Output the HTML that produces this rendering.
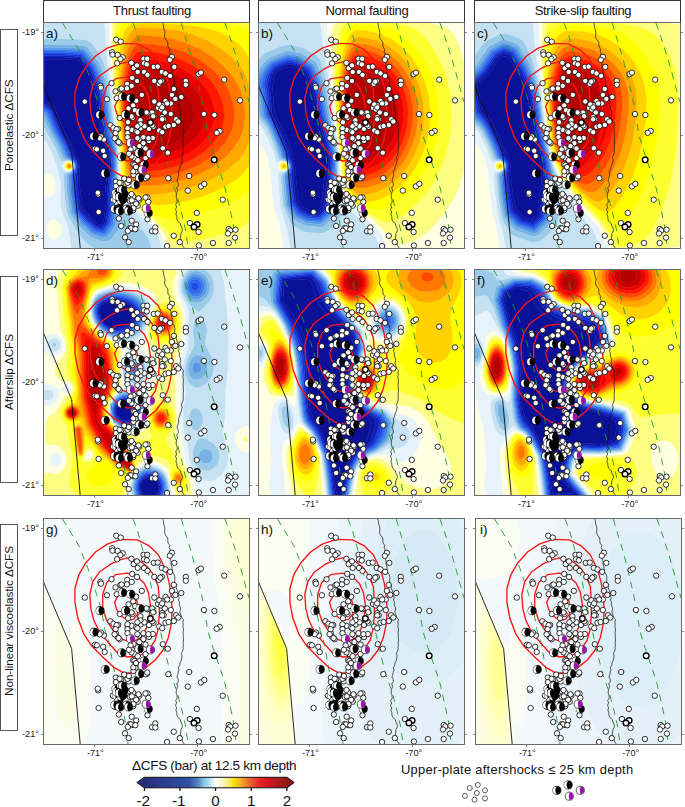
<!DOCTYPE html><html><head><meta charset="utf-8"><style>
html,body{margin:0;padding:0;background:#fff;}
body{width:685px;height:807px;position:relative;overflow:hidden;font-family:"Liberation Sans",sans-serif;color:#1a1a1a;}
.a{position:absolute;}
.tb{position:absolute;top:0;height:21px;border:1px solid #333;border-bottom:1.2px solid #333;background:#fff;box-sizing:content-box;}
.tb span{position:absolute;left:12px;right:0;top:2.5px;text-align:center;font-size:13px;line-height:14px;white-space:nowrap;letter-spacing:-0.3px;color:#111;}
.lb{position:absolute;left:0;width:16px;border:1px solid #555;background:#fff;}
.lb span{position:absolute;white-space:nowrap;font-size:11.8px;line-height:12px;transform:rotate(-90deg);transform-origin:0 0;letter-spacing:-0.1px;color:#111;}
.pn{position:absolute;width:206px;height:225px;overflow:hidden;}
.pn svg{position:absolute;left:0;top:0;}
.fr{position:absolute;border:1px solid #6a6a6a;box-sizing:border-box;width:207px;height:227px;}
.lt{position:absolute;font-size:13.5px;line-height:14px;color:#111;}
.tk{position:absolute;font-size:9.2px;line-height:10px;color:#222;white-space:nowrap;}
</style></head><body>

<svg width="0" height="0" style="position:absolute"><defs><g id="ov"><g fill="none"/><polyline points="0.0,61.7 14.0,95.0 28.6,129.5 37.2,225.0" fill="none" stroke="#111" stroke-width=".9"/>
<polyline points="119.6,0.0 120.5,2.2 120.6,4.4 121.5,7.3 122.0,10.2 121.5,13.1 122.4,16.0 124.8,19.0 124.8,21.9 125.1,24.1 126.8,26.3 126.2,28.5 127.2,30.7 126.7,33.0 127.2,35.3 126.5,37.7 127.5,40.0 128.1,42.3 127.9,44.7 128.8,47.2 129.1,49.6 129.0,52.5 131.2,55.5 131.9,58.4 131.7,60.9 131.6,63.5 133.5,66.0 133.2,68.6 134.1,71.1 135.0,73.7 135.2,76.2 136.2,78.8 135.5,81.1 136.5,83.5 136.2,85.8 137.4,88.2 137.6,90.5 136.9,93.0 137.7,95.6 138.6,98.2 140.6,100.7 139.8,103.0 140.3,105.2 139.9,107.5 140.4,109.7 140.3,112.0 140.1,114.2 140.4,116.5 140.2,118.8 140.6,121.0 140.1,123.2 140.4,125.5 140.1,127.8 140.2,130.0 139.5,132.2 138.4,134.5 139.1,136.9 138.8,139.2 138.1,141.6 137.0,143.9 136.7,146.3 135.3,148.6 135.9,151.0 135.3,153.3 134.6,155.7 134.0,158.0 135.3,160.3 135.3,162.7 133.6,165.0 134.7,167.3 133.8,169.7 133.2,172.0 133.3,174.4 134.1,176.8 134.2,179.2 132.7,181.6 133.6,184.0 132.5,186.4 133.6,188.8 132.9,191.2 133.8,193.6 133.9,196.0 134.7,198.2 137.3,200.5 137.8,202.8 139.0,205.0 139.4,207.7 137.9,210.4 137.6,213.1 137.4,215.8 138.7,218.1 138.8,220.4 139.6,222.7 141.3,225.0" fill="none" stroke="#111" stroke-width=".7"/>
<polyline points="19.5,0.0 36.0,27.0 45.0,49.6 52.6,72.2 58.6,91.7 62.2,112.0 66.2,124.0 70.7,149.6 81.2,196.2 85.0,225.0" fill="none" stroke="#1d9a2a" stroke-width=".9" stroke-dasharray="7 6"/>
<polyline points="90.1,0.0 94.5,11.7 98.9,27.7 104.0,46.7 106.9,61.3 110.6,78.8 113.5,94.9 116.5,108.0 117.3,112.0 122.5,134.5 127.8,155.6 133.8,172.0 139.0,191.7 142.8,208.2 145.0,225.0" fill="none" stroke="#1d9a2a" stroke-width=".9" stroke-dasharray="7 6"/>
<polyline points="138.3,0.0 143.4,17.5 148.5,33.6 153.6,54.0 158.0,73.0 161.7,90.5 164.6,111.0 169.9,128.5 176.7,148.0 182.0,164.6 187.2,187.2 191.0,205.2 193.2,225.0" fill="none" stroke="#1d9a2a" stroke-width=".9" stroke-dasharray="7 6"/>
<polyline points="182.0,0.0 188.7,19.5 196.2,43.6 201.5,63.2 206.0,79.0" fill="none" stroke="#1d9a2a" stroke-width=".9" stroke-dasharray="7 6"/>
<polygon points="78.6,20.3 94.4,20.9 106.3,26.9 115.3,35.8 122.2,49.7 126.2,63.6 128.2,77.5 129.2,91.4 128.2,105.3 125.2,119.1 120.2,131.0 112.3,141.0 102.4,148.9 90.5,153.9 80.6,153.9 71.6,148.9 60.7,139.0 48.8,127.1 40.9,115.2 34.9,99.3 31.9,83.4 31.9,69.5 35.9,55.7 42.9,43.7 52.8,32.8 64.7,24.9" fill="none" stroke="#fa1414" stroke-width="1.35" stroke-linejoin="round"/>
<polygon points="84.5,38.8 96.4,41.8 104.4,47.7 110.3,55.7 115.3,67.6 116.3,81.4 116.3,95.3 115.3,109.2 112.3,121.1 105.4,131.0 96.4,137.0 84.5,138.0 74.6,134.0 66.7,125.1 56.7,113.2 50.8,101.3 47.8,89.4 46.8,75.5 49.8,62.6 56.7,52.7 66.7,45.7 76.6,40.8" fill="none" stroke="#fa1414" stroke-width="1.35" stroke-linejoin="round"/>
<polygon points="72.6,55.7 84.5,54.1 94.4,57.6 101.4,64.6 105.4,73.5 107.3,85.4 106.3,97.3 103.4,109.2 97.4,119.1 88.5,123.1 78.6,120.1 70.6,112.2 63.7,101.3 59.7,89.4 59.7,75.5 63.7,63.6" fill="none" stroke="#fa1414" stroke-width="1.35" stroke-linejoin="round"/>
<polygon points="74.6,77.5 80.6,73.5 88.5,75.5 93.5,80.5 95.4,88.4 94.4,95.3 90.5,100.3 84.5,101.3 78.6,97.3 73.6,90.4 71.6,83.4" fill="none" stroke="#fa1414" stroke-width="1.35" stroke-linejoin="round"/><g fill="#fff" stroke="#000" stroke-width=".8"><circle cx="73.2" cy="16.8" r="2.7"/>
<circle cx="77.7" cy="18.6" r="2.7"/>
<circle cx="69.2" cy="29.3" r="2.7"/>
<circle cx="69.5" cy="31.6" r="2.7"/>
<circle cx="74.7" cy="31.9" r="2.7"/>
<circle cx="79.7" cy="34.3" r="2.7"/>
<circle cx="77.4" cy="36.1" r="2.7"/>
<circle cx="74.1" cy="40.3" r="2.7"/>
<circle cx="88.4" cy="39.8" r="2.7"/>
<circle cx="90.7" cy="45.1" r="2.7"/>
<circle cx="94.7" cy="48.9" r="2.7"/>
<circle cx="94.0" cy="42.4" r="2.7"/>
<circle cx="100.5" cy="35.8" r="2.7"/>
<circle cx="101.0" cy="40.3" r="2.7"/>
<circle cx="101.0" cy="48.9" r="2.7"/>
<circle cx="68.6" cy="60.2" r="2.7"/>
<circle cx="57.4" cy="62.9" r="2.7"/>
<circle cx="57.9" cy="64.7" r="2.7"/>
<circle cx="41.8" cy="78.6" r="2.7"/>
<circle cx="63.9" cy="76.2" r="2.7"/>
<circle cx="89.2" cy="54.9" r="2.7"/>
<circle cx="94.0" cy="57.9" r="2.7"/>
<circle cx="84.2" cy="60.9" r="2.7"/>
<circle cx="88.7" cy="62.9" r="2.7"/>
<circle cx="83.9" cy="65.4" r="2.7"/>
<circle cx="72.5" cy="68.4" r="2.7"/>
<circle cx="77.4" cy="66.2" r="2.7"/>
<circle cx="73.7" cy="75.2" r="2.7"/>
<circle cx="98.8" cy="71.9" r="2.7"/>
<circle cx="93.2" cy="77.7" r="2.7"/>
<circle cx="90.2" cy="82.4" r="2.7"/>
<circle cx="92.0" cy="87.2" r="2.7"/>
<circle cx="76.7" cy="95.0" r="2.7"/>
<circle cx="89.5" cy="95.0" r="2.7"/>
<circle cx="85.0" cy="99.2" r="2.7"/>
<circle cx="97.0" cy="98.5" r="2.7"/>
<circle cx="67.4" cy="102.3" r="2.7"/>
<circle cx="70.4" cy="104.8" r="2.7"/>
<circle cx="75.2" cy="106.0" r="2.7"/>
<circle cx="84.7" cy="106.8" r="2.7"/>
<circle cx="88.7" cy="106.8" r="2.7"/>
<circle cx="93.2" cy="108.3" r="2.7"/>
<circle cx="97.7" cy="105.3" r="2.7"/>
<circle cx="104.2" cy="35.8" r="2.7"/>
<circle cx="103.8" cy="41.4" r="2.7"/>
<circle cx="104.5" cy="51.9" r="2.7"/>
<circle cx="110.8" cy="43.9" r="2.7"/>
<circle cx="114.7" cy="43.6" r="2.7"/>
<circle cx="118.8" cy="48.9" r="2.7"/>
<circle cx="122.5" cy="50.4" r="2.7"/>
<circle cx="127.1" cy="52.9" r="2.7"/>
<circle cx="128.9" cy="33.8" r="2.7"/>
<circle cx="126.8" cy="36.8" r="2.7"/>
<circle cx="131.3" cy="43.9" r="2.7"/>
<circle cx="111.3" cy="57.9" r="2.7"/>
<circle cx="115.8" cy="60.9" r="2.7"/>
<circle cx="118.8" cy="57.9" r="2.7"/>
<circle cx="130.8" cy="65.9" r="2.7"/>
<circle cx="128.9" cy="71.9" r="2.7"/>
<circle cx="132.3" cy="75.9" r="2.7"/>
<circle cx="138.3" cy="74.0" r="2.7"/>
<circle cx="142.8" cy="57.9" r="2.7"/>
<circle cx="142.8" cy="61.7" r="2.7"/>
<circle cx="155.6" cy="51.1" r="2.7"/>
<circle cx="157.9" cy="49.6" r="2.7"/>
<circle cx="181.2" cy="56.7" r="2.7"/>
<circle cx="197.0" cy="77.4" r="2.7"/>
<circle cx="111.3" cy="78.5" r="2.7"/>
<circle cx="122.5" cy="77.9" r="2.7"/>
<circle cx="127.8" cy="80.5" r="2.7"/>
<circle cx="119.5" cy="82.4" r="2.7"/>
<circle cx="115.0" cy="85.0" r="2.7"/>
<circle cx="118.0" cy="86.5" r="2.7"/>
<circle cx="121.8" cy="89.5" r="2.7"/>
<circle cx="127.8" cy="91.0" r="2.7"/>
<circle cx="109.0" cy="89.5" r="2.7"/>
<circle cx="104.5" cy="90.2" r="2.7"/>
<circle cx="110.2" cy="93.2" r="2.7"/>
<circle cx="119.2" cy="94.0" r="2.7"/>
<circle cx="120.7" cy="96.2" r="2.7"/>
<circle cx="133.1" cy="96.2" r="2.7"/>
<circle cx="135.3" cy="98.5" r="2.7"/>
<circle cx="130.8" cy="102.0" r="2.7"/>
<circle cx="122.5" cy="103.8" r="2.7"/>
<circle cx="125.6" cy="103.0" r="2.7"/>
<circle cx="107.5" cy="100.5" r="2.7"/>
<circle cx="110.5" cy="103.8" r="2.7"/>
<circle cx="106.0" cy="106.0" r="2.7"/>
<circle cx="116.2" cy="107.5" r="2.7"/>
<circle cx="160.9" cy="91.0" r="2.7"/>
<circle cx="171.4" cy="92.0" r="2.7"/>
<circle cx="176.7" cy="108.0" r="2.7"/>
<circle cx="173.7" cy="109.8" r="2.7"/>
<circle cx="60.9" cy="116.5" r="2.7"/>
<circle cx="57.9" cy="113.5" r="2.7"/>
<circle cx="51.9" cy="125.8" r="2.7"/>
<circle cx="53.8" cy="126.3" r="2.7"/>
<circle cx="60.2" cy="127.8" r="2.7"/>
<circle cx="61.7" cy="133.0" r="2.7"/>
<circle cx="72.9" cy="114.3" r="2.7"/>
<circle cx="74.4" cy="118.0" r="2.7"/>
<circle cx="76.7" cy="120.3" r="2.7"/>
<circle cx="96.2" cy="116.5" r="2.7"/>
<circle cx="99.2" cy="123.3" r="2.7"/>
<circle cx="92.5" cy="127.0" r="2.7"/>
<circle cx="90.2" cy="141.3" r="2.7"/>
<circle cx="93.2" cy="146.6" r="2.7"/>
<circle cx="81.2" cy="155.6" r="2.7"/>
<circle cx="72.9" cy="158.6" r="2.7"/>
<circle cx="78.2" cy="160.1" r="2.7"/>
<circle cx="72.9" cy="163.1" r="2.7"/>
<circle cx="85.7" cy="162.4" r="2.7"/>
<circle cx="55.2" cy="171.4" r="2.7"/>
<circle cx="55.6" cy="189.0" r="2.7"/>
<circle cx="69.9" cy="176.7" r="2.7"/>
<circle cx="73.7" cy="185.7" r="2.7"/>
<circle cx="86.5" cy="172.2" r="2.7"/>
<circle cx="90.2" cy="173.7" r="2.7"/>
<circle cx="96.2" cy="176.7" r="2.7"/>
<circle cx="90.2" cy="181.2" r="2.7"/>
<circle cx="94.7" cy="182.7" r="2.7"/>
<circle cx="90.2" cy="187.2" r="2.7"/>
<circle cx="75.9" cy="195.5" r="2.7"/>
<circle cx="78.2" cy="203.0" r="2.7"/>
<circle cx="88.7" cy="197.7" r="2.7"/>
<circle cx="93.2" cy="201.5" r="2.7"/>
<circle cx="86.5" cy="205.2" r="2.7"/>
<circle cx="90.2" cy="206.0" r="2.7"/>
<circle cx="82.0" cy="214.3" r="2.7"/>
<circle cx="85.7" cy="219.1" r="2.7"/>
<circle cx="106.0" cy="118.0" r="2.7"/>
<circle cx="109.8" cy="115.0" r="2.7"/>
<circle cx="119.8" cy="125.2" r="2.7"/>
<circle cx="124.8" cy="129.7" r="2.7"/>
<circle cx="103.8" cy="154.9" r="2.7"/>
<circle cx="125.3" cy="155.2" r="2.7"/>
<circle cx="146.2" cy="153.0" r="2.7"/>
<circle cx="144.8" cy="167.6" r="2.7"/>
<circle cx="157.9" cy="163.4" r="2.7"/>
<circle cx="161.3" cy="160.9" r="2.7"/>
<circle cx="179.7" cy="176.7" r="2.7"/>
<circle cx="153.8" cy="189.9" r="2.7"/>
<circle cx="146.9" cy="200.0" r="2.7"/>
<circle cx="150.8" cy="203.0" r="2.7"/>
<circle cx="155.6" cy="209.0" r="2.7"/>
<circle cx="130.8" cy="212.8" r="2.7"/>
<circle cx="136.8" cy="219.1" r="2.7"/>
<circle cx="124.1" cy="223.0" r="2.7"/>
<circle cx="155.9" cy="222.5" r="2.7"/>
<circle cx="169.9" cy="220.0" r="2.7"/>
<circle cx="185.7" cy="220.0" r="2.7"/>
<circle cx="109.0" cy="208.2" r="2.7"/>
<circle cx="112.3" cy="204.5" r="2.7"/>
<circle cx="112.3" cy="208.5" r="2.7"/>
<circle cx="104.5" cy="174.4" r="2.7"/>
<circle cx="105.3" cy="178.9" r="2.7"/>
<circle cx="104.5" cy="196.2" r="2.7"/>
<circle cx="185.7" cy="206.0" r="2.7"/>
<circle cx="187.2" cy="207.5" r="2.7"/>
<circle cx="192.5" cy="206.7" r="2.7"/>
<circle cx="185.0" cy="210.5" r="2.7"/>
<circle cx="192.0" cy="214.6" r="2.7"/>
<circle cx="117.3" cy="58.6" r="2.7"/>
<circle cx="78.6" cy="65.6" r="2.7"/>
<circle cx="85.5" cy="85.4" r="2.7"/>
<circle cx="88.5" cy="93.4" r="2.7"/>
<circle cx="97.4" cy="97.3" r="2.7"/>
<circle cx="103.4" cy="89.4" r="2.7"/>
<circle cx="116.3" cy="81.4" r="2.7"/>
<circle cx="119.2" cy="84.4" r="2.7"/>
<circle cx="124.2" cy="80.5" r="2.7"/>
<circle cx="119.2" cy="96.3" r="2.7"/>
<circle cx="119.2" cy="109.2" r="2.7"/>
<circle cx="109.3" cy="102.3" r="2.7"/>
<circle cx="101.4" cy="103.3" r="2.7"/>
<circle cx="97.4" cy="101.3" r="2.7"/>
<circle cx="94.4" cy="103.3" r="2.7"/>
<circle cx="84.5" cy="105.3" r="2.7"/>
<circle cx="94.4" cy="109.2" r="2.7"/>
<circle cx="84.5" cy="110.2" r="2.7"/>
<circle cx="73.6" cy="106.2" r="2.7"/>
<circle cx="72.6" cy="110.2" r="2.7"/>
<circle cx="71.6" cy="115.2" r="2.7"/>
<circle cx="75.6" cy="119.1" r="2.7"/>
<circle cx="84.5" cy="114.2" r="2.7"/>
<circle cx="94.4" cy="115.2" r="2.7"/>
<circle cx="100.4" cy="114.2" r="2.7"/>
<circle cx="105.4" cy="115.2" r="2.7"/>
<circle cx="100.4" cy="120.1" r="2.7"/>
<circle cx="96.4" cy="123.1" r="2.7"/>
<circle cx="90.5" cy="125.1" r="2.7"/>
<circle cx="94.4" cy="130.0" r="2.7"/>
<circle cx="91.5" cy="135.0" r="2.7"/>
<circle cx="56.7" cy="115.2" r="2.7"/>
<circle cx="91.5" cy="142.0" r="2.7"/>
<circle cx="92.5" cy="148.9" r="2.7"/>
<circle cx="90.5" cy="151.9" r="2.7"/>
<circle cx="76.6" cy="159.8" r="2.7"/>
<circle cx="84.5" cy="159.8" r="2.7"/>
<circle cx="54.8" cy="169.7" r="2.7"/>
<circle cx="85.9" cy="157.0" r="2.7"/>
<circle cx="94.7" cy="137.3" r="2.7"/>
<circle cx="90.3" cy="148.3" r="2.7"/>
<circle cx="93.0" cy="144.0" r="2.7"/>
<circle cx="102.5" cy="155.3" r="2.7"/>
<circle cx="104.3" cy="153.5" r="2.7"/>
<circle cx="88.5" cy="171.0" r="2.7"/>
<circle cx="95.5" cy="175.4" r="2.7"/>
<circle cx="102.5" cy="174.5" r="2.7"/>
<circle cx="86.8" cy="178.0" r="2.7"/>
<circle cx="92.0" cy="179.0" r="2.7"/>
<circle cx="87.6" cy="126.4" r="2.7"/>
<circle cx="102.5" cy="125.5" r="2.7"/>
<circle cx="88.5" cy="133.4" r="2.7"/>
<circle cx="85.9" cy="130.8" r="2.7"/>
<circle cx="102.5" cy="135.1" r="2.7"/>
<circle cx="87.9" cy="205.3" r="2.7"/>
<circle cx="92.3" cy="206.2" r="2.7"/>
<circle cx="84.8" cy="207.9" r="2.7"/>
<circle cx="93.2" cy="180.8" r="2.7"/>
<circle cx="72.1" cy="187.8" r="2.7"/>
<circle cx="88.8" cy="177.3" r="2.7"/>
<circle cx="90.5" cy="185.1" r="2.7"/></g><circle cx="171.2" cy="136.8" r="2.8" fill="#fff" stroke="#000" stroke-width="1.4"/>
<circle cx="154.1" cy="201.5" r="2.8" fill="#fff" stroke="#000" stroke-width="1.4"/>
<circle cx="151.0" cy="204.0" r="2.8" fill="#fff" stroke="#000" stroke-width="1.4"/>
<circle cx="107.4" cy="99.6" r="2.8" fill="#fff" stroke="#000" stroke-width="1.4"/>
<circle cx="73.0" cy="170.0" r="4.1" fill="#000" stroke="#000" stroke-width=".6"/><path d="M72.7,166.2A3.80,3.80 0 0 0 72.7,173.8Q70.0,170.0 72.7,166.2Z" fill="#fff"/><path d="M73.6,166.3Q75.2,169.5 76.7,170.3Q74.6,168.8 73.6,166.3Z" fill="#fff"/>
<circle cx="78.0" cy="167.0" r="4.1" fill="#000" stroke="#000" stroke-width=".6"/><path d="M77.7,163.2A3.80,3.80 0 0 0 77.7,170.8Q75.0,167.0 77.7,163.2Z" fill="#fff"/><path d="M78.6,163.3Q80.2,166.5 81.7,167.3Q79.6,165.8 78.6,163.3Z" fill="#fff"/>
<circle cx="74.0" cy="177.0" r="4.1" fill="#000" stroke="#000" stroke-width=".6"/><path d="M73.7,173.2A3.80,3.80 0 0 0 73.7,180.8Q71.0,177.0 73.7,173.2Z" fill="#fff"/><path d="M74.6,173.3Q76.2,176.5 77.7,177.3Q75.6,175.8 74.6,173.3Z" fill="#fff"/>
<circle cx="80.0" cy="176.0" r="4.1" fill="#000" stroke="#000" stroke-width=".6"/><path d="M79.7,172.2A3.80,3.80 0 0 0 79.7,179.8Q77.0,176.0 79.7,172.2Z" fill="#fff"/><path d="M80.6,172.3Q82.2,175.5 83.7,176.3Q81.6,174.8 80.6,172.3Z" fill="#fff"/>
<circle cx="76.0" cy="182.0" r="4.1" fill="#000" stroke="#000" stroke-width=".6"/><path d="M75.7,178.2A3.80,3.80 0 0 0 75.7,185.8Q73.0,182.0 75.7,178.2Z" fill="#fff"/><path d="M76.6,178.3Q78.2,181.5 79.7,182.3Q77.6,180.8 76.6,178.3Z" fill="#fff"/>
<circle cx="72.0" cy="186.0" r="4.1" fill="#000" stroke="#000" stroke-width=".6"/><path d="M71.7,182.2A3.80,3.80 0 0 0 71.7,189.8Q69.0,186.0 71.7,182.2Z" fill="#fff"/><path d="M72.6,182.3Q74.2,185.5 75.7,186.3Q73.6,184.8 72.6,182.3Z" fill="#fff"/>
<circle cx="84.0" cy="186.0" r="4.1" fill="#000" stroke="#000" stroke-width=".6"/><path d="M83.7,182.2A3.80,3.80 0 0 0 83.7,189.8Q81.0,186.0 83.7,182.2Z" fill="#fff"/><path d="M84.6,182.3Q86.2,185.5 87.7,186.3Q85.6,184.8 84.6,182.3Z" fill="#fff"/>
<circle cx="81.0" cy="171.0" r="4.1" fill="#000" stroke="#000" stroke-width=".6"/><path d="M80.7,167.2A3.80,3.80 0 0 0 80.7,174.8Q78.0,171.0 80.7,167.2Z" fill="#fff"/><path d="M81.6,167.3Q83.2,170.5 84.7,171.3Q82.6,169.8 81.6,167.3Z" fill="#fff"/>
<circle cx="79.7" cy="73.7" r="4.1" fill="#000" stroke="#000" stroke-width=".6"/><path d="M79.4,69.9A3.80,3.80 0 0 0 79.4,77.5Q76.7,73.7 79.4,69.9Z" fill="#fff"/><path d="M80.3,70.0Q81.9,73.2 83.4,74.0Q81.3,72.5 80.3,70.0Z" fill="#fff"/>
<circle cx="87.8" cy="75.2" r="4.1" fill="#000" stroke="#000" stroke-width=".6"/><path d="M87.5,71.4A3.80,3.80 0 0 0 87.5,79.0Q84.8,75.2 87.5,71.4Z" fill="#fff"/><path d="M88.4,71.5Q90.0,74.7 91.5,75.5Q89.4,74.0 88.4,71.5Z" fill="#fff"/>
<circle cx="57.1" cy="91.7" r="4.1" fill="#000" stroke="#000" stroke-width=".6"/><path d="M56.8,87.9A3.80,3.80 0 0 0 56.8,95.5Q54.1,91.7 56.8,87.9Z" fill="#fff"/><path d="M57.7,88.0Q59.3,91.2 60.8,92.0Q58.7,90.5 57.7,88.0Z" fill="#fff"/>
<circle cx="82.7" cy="91.7" r="4.1" fill="#000" stroke="#000" stroke-width=".6"/><path d="M82.4,87.9A3.80,3.80 0 0 0 82.4,95.5Q79.7,91.7 82.4,87.9Z" fill="#fff"/><path d="M83.3,88.0Q84.9,91.2 86.4,92.0Q84.3,90.5 83.3,88.0Z" fill="#fff"/>
<circle cx="97.1" cy="89.6" r="4.1" fill="#000" stroke="#000" stroke-width=".6"/><path d="M96.8,85.8A3.80,3.80 0 0 0 96.8,93.4Q94.1,89.6 96.8,85.8Z" fill="#fff"/><path d="M97.7,85.9Q99.3,89.1 100.8,89.9Q98.7,88.4 97.7,85.9Z" fill="#fff"/>
<circle cx="51.1" cy="113.2" r="4.1" fill="#000" stroke="#000" stroke-width=".6"/><path d="M50.8,109.4A3.80,3.80 0 0 0 50.8,117.0Q48.1,113.2 50.8,109.4Z" fill="#fff"/><path d="M51.7,109.5Q53.3,112.7 54.8,113.5Q52.7,112.0 51.7,109.5Z" fill="#fff"/>
<circle cx="78.8" cy="133.8" r="4.1" fill="#000" stroke="#000" stroke-width=".6"/><path d="M78.5,130.0A3.80,3.80 0 0 0 78.5,137.6Q75.8,133.8 78.5,130.0Z" fill="#fff"/><path d="M79.4,130.1Q81.0,133.3 82.5,134.1Q80.4,132.6 79.4,130.1Z" fill="#fff"/>
<circle cx="96.2" cy="129.9" r="4.1" fill="#000" stroke="#000" stroke-width=".6"/><path d="M95.9,126.1A3.80,3.80 0 0 0 95.9,133.7Q93.2,129.9 95.9,126.1Z" fill="#fff"/><path d="M96.8,126.2Q98.4,129.4 99.9,130.2Q97.8,128.7 96.8,126.2Z" fill="#fff"/>
<circle cx="62.3" cy="150.4" r="4.1" fill="#000" stroke="#000" stroke-width=".6"/><path d="M62.0,146.6A3.80,3.80 0 0 0 62.0,154.2Q59.3,150.4 62.0,146.6Z" fill="#fff"/><path d="M62.9,146.7Q64.5,149.9 66.0,150.7Q63.9,149.2 62.9,146.7Z" fill="#fff"/>
<circle cx="101.4" cy="142.0" r="4.1" fill="#000" stroke="#000" stroke-width=".6"/><path d="M101.1,138.2A3.80,3.80 0 0 0 101.1,145.8Q98.4,142.0 101.1,138.2Z" fill="#fff"/><path d="M102.0,138.3Q103.6,141.5 105.1,142.3Q103.0,140.8 102.0,138.3Z" fill="#fff"/>
<circle cx="96.8" cy="154.9" r="4.1" fill="#000" stroke="#000" stroke-width=".6"/><path d="M96.5,151.1A3.80,3.80 0 0 0 96.5,158.7Q93.8,154.9 96.5,151.1Z" fill="#fff"/><path d="M97.4,151.2Q99.0,154.4 100.5,155.2Q98.4,153.7 97.4,151.2Z" fill="#fff"/>
<circle cx="92.3" cy="161.8" r="4.1" fill="#000" stroke="#000" stroke-width=".6"/><path d="M92.0,158.0A3.80,3.80 0 0 0 92.0,165.6Q89.3,161.8 92.0,158.0Z" fill="#fff"/><path d="M92.9,158.1Q94.5,161.3 96.0,162.1Q93.9,160.6 92.9,158.1Z" fill="#fff"/>
<circle cx="79.7" cy="166.9" r="4.1" fill="#000" stroke="#000" stroke-width=".6"/><path d="M79.4,163.1A3.80,3.80 0 0 0 79.4,170.7Q76.7,166.9 79.4,163.1Z" fill="#fff"/><path d="M80.3,163.2Q81.9,166.4 83.4,167.2Q81.3,165.7 80.3,163.2Z" fill="#fff"/>
<circle cx="73.7" cy="172.9" r="4.1" fill="#000" stroke="#000" stroke-width=".6"/><path d="M73.4,169.1A3.80,3.80 0 0 0 73.4,176.7Q70.7,172.9 73.4,169.1Z" fill="#fff"/><path d="M74.3,169.2Q75.9,172.4 77.4,173.2Q75.3,171.7 74.3,169.2Z" fill="#fff"/>
<circle cx="78.2" cy="177.4" r="4.1" fill="#000" stroke="#000" stroke-width=".6"/><path d="M77.9,173.6A3.80,3.80 0 0 0 77.9,181.2Q75.2,177.4 77.9,173.6Z" fill="#fff"/><path d="M78.8,173.7Q80.4,176.9 81.9,177.7Q79.8,176.2 78.8,173.7Z" fill="#fff"/>
<circle cx="76.5" cy="174.0" r="4.1" fill="#000" stroke="#000" stroke-width=".6"/><path d="M76.2,170.2A3.80,3.80 0 0 0 76.2,177.8Q73.5,174.0 76.2,170.2Z" fill="#fff"/><path d="M77.1,170.3Q78.7,173.5 80.2,174.3Q78.1,172.8 77.1,170.3Z" fill="#fff"/>
<circle cx="76.7" cy="188.0" r="4.1" fill="#000" stroke="#000" stroke-width=".6"/><path d="M76.4,184.2A3.80,3.80 0 0 0 76.4,191.8Q73.7,188.0 76.4,184.2Z" fill="#fff"/><path d="M77.3,184.3Q78.9,187.5 80.4,188.3Q78.3,186.8 77.3,184.3Z" fill="#fff"/>
<circle cx="85.7" cy="188.0" r="4.1" fill="#000" stroke="#000" stroke-width=".6"/><path d="M85.4,184.2A3.80,3.80 0 0 0 85.4,191.8Q82.7,188.0 85.4,184.2Z" fill="#fff"/><path d="M86.3,184.3Q87.9,187.5 89.4,188.3Q87.3,186.8 86.3,184.3Z" fill="#fff"/>
<circle cx="105.3" cy="190.0" r="4.1" fill="#000" stroke="#000" stroke-width=".6"/><path d="M105.0,186.2A3.80,3.80 0 0 0 105.0,193.8Q102.3,190.0 105.0,186.2Z" fill="#fff"/><path d="M105.9,186.3Q107.5,189.5 109.0,190.3Q106.9,188.8 105.9,186.3Z" fill="#fff"/>
<circle cx="87.5" cy="119.7" r="4.1" fill="#fff" stroke="#000" stroke-width=".6"/><path d="M87.7,115.9A3.80,3.80 0 0 1 87.7,123.5Q86.1,119.7 87.7,115.9Z" fill="#9b0fb0"/>
<circle cx="107.5" cy="130.8" r="4.1" fill="#fff" stroke="#000" stroke-width=".6"/><path d="M107.7,127.0A3.80,3.80 0 0 1 107.7,134.6Q106.1,130.8 107.7,127.0Z" fill="#9b0fb0"/>
<circle cx="99.2" cy="146.8" r="4.1" fill="#fff" stroke="#000" stroke-width=".6"/><path d="M99.4,143.0A3.80,3.80 0 0 1 99.4,150.6Q97.8,146.8 99.4,143.0Z" fill="#9b0fb0"/>
<circle cx="103.3" cy="185.2" r="4.1" fill="#fff" stroke="#000" stroke-width=".6"/><path d="M103.5,181.4A3.80,3.80 0 0 1 103.5,189.0Q101.9,185.2 103.5,181.4Z" fill="#9b0fb0"/></g></defs></svg>
<div class="tb" style="left:42.5px;width:205px"><span>Thrust faulting</span></div>
<div class="tb" style="left:257.5px;width:205px"><span>Normal faulting</span></div>
<div class="tb" style="left:473.5px;width:205px"><span>Strike-slip faulting</span></div>
<div class="lb" style="top:29px;height:205px"></div>
<div class="lb" style="top:276px;height:205px"></div>
<div class="lb" style="top:524px;height:205px"></div>
<div class="pn" style="left:43px;top:23px"><svg width="206" height="225" viewBox="0 0 206 225"><path fill="#0b1099" stroke="#0b1099" stroke-width=".5" d="M2 36.2 20 36.2 36 37.3 44.1 48 49.7 62 53.2 76 58.5 113 64.2 129 65 141 61.9 172 62.2 187 60.6 198 58 201.5 55.1 201 54 200.2 46 192.5 39.7 185 37.2 169 36.4 152 36.6 143 35.9 138 27.5 119 19.6 105 11.4 85 10 83.3 1.4 77 1.2 37Z"/><path fill="#0c14a2" stroke="#0c14a2" stroke-width=".5" d="M0 34 20 34 37 35 46 47 51.6 61 55.4 76 60.6 113 66 128 67 141.6 64 172 64 188.8 62.8 198 59 203.5 58 203.9 54 202.8 53 202 44.5 194 37.8 186 35.1 169 34.3 152 35.3 143 34.7 139 30.7 132 25.6 120 17.7 106 9.5 86 -.9 78 -1 35ZM1.2 37 1.4 77 10 83.3 11.4 85 19.6 105 27.5 119 35.9 138 36.6 143 36.4 152 37.2 169 39.7 185 46 192.5 54 200.2 55.1 201 58 201.5 60.6 198 62.2 187 61.9 172 65 141 64.2 129 58.5 113 53.2 76 49.7 62 44.1 48 36 37.3 20 36.2 2 36.2Z"/><path fill="#0f20b7" stroke="#0f20b7" stroke-width=".5" d="M-1 32.4 20 32.4 38 33.6 47.4 46 53.4 61 57.1 76 62.1 112 67.6 128 68.5 142 65.6 172 65.9 187 64.3 199 59 205.8 52.8 204 44 195.8 36.3 187 33.4 169 32.7 153 34.4 144 33.6 139 28.9 132 24.3 121 16.4 107 8.2 87 -2 79.2 -2 32.4ZM-1 35 -.9 78 9.5 86 17.7 106 25.6 120 30.7 132 34.7 139 35.3 143 34.3 152 35.1 169 37.8 186 44.5 194 53 202 54 202.8 58 203.9 59 203.5 62.8 198 64 188.8 64 172 67 141.6 66 128 60.6 113 55.4 76 51.6 61 46 47 37 35 20 34 0 34Z"/><path fill="#1634d6" stroke="#1634d6" stroke-width=".5" d="M-1 30.9 20 30.9 38.4 32 48.5 45 54.6 60 58.3 75 63.6 112 68.6 127 69.6 142 67 172 67.4 187 65.8 199 65.6 200 60 207.4 52 205.2 42.2 196 35 187.5 32 170 31.3 155 31.6 151 33.5 145 33.2 140 27.4 132 22.6 121 15.3 108 7 88 -2 81.1 -2 79.2 8.2 87 16.4 107 24.3 121 28.9 132 33.6 139 34.4 144 32.7 153 33.4 169 36.3 187 44 195.8 52.8 204 59 205.8 64.3 199 65.9 187 65.6 172 68.5 142 67.6 128 62.1 112 57.1 76 53 60 47.4 46 38 33.6 20 32.4 -2 32.4 -2 30.9Z"/><path fill="#224ce5" stroke="#224ce5" stroke-width=".5" d="M-1 29.5 20 29.5 39 30.5 50.2 45 56.1 60 59.7 75 64.9 112 69.8 127 70.7 142 68.4 172 68.8 187 67.1 200 61 208.5 60 209.1 51 206.2 41.2 197 33.6 188 30.6 170 29.9 155 30.4 151 32.9 145 32.6 140 25.9 132 21.6 122 13.7 108 5.9 89 -2 82.8 -2 81.1 7 88 15.3 108 22.6 121 27.4 132 33.2 140 33.5 145 31.6 151 31.3 155 32 170 35 187.5 42.2 196 52 205.2 60 207.4 65.6 200 65.8 199 67.4 187 67 172 69.6 142 68.6 127 63.6 112 58.3 75 54.6 60 48.5 45 38.4 32 20 30.9 -2 30.9 -2 29.5Z"/><path fill="#2f65eb" stroke="#2f65eb" stroke-width=".5" d="M-1 28 20 28 40 29.3 51.3 44 57.2 59 61.1 75 66.1 111 70.8 127 71.6 142 69.7 172 70.3 187 68.7 200 68 201.8 62 209.7 60 210.6 50.8 208 40.1 198 32.5 189 29.2 170 28.5 155 28.8 152 32.4 145 32.3 141 31 138.5 25.7 134 24.3 132 20.5 123 12.7 109 4.7 90 4 88.9 -2 84.6 -2 82.8 5.9 89 13.7 108 21.6 122 25.9 132 32.6 140 32.9 145 30.4 151 29.9 155 30.6 170 33.6 188 41.2 197 51 206.2 60.2 209 67.1 200 68.8 187 68.4 172 70.7 142 69.8 127 64.9 112 59.7 75 56.1 60 50.2 45 39 30.5 20 29.5 -2 29.5 -2 28Z"/><path fill="#3c7ee8" stroke="#3c7ee8" stroke-width=".5" d="M-1 26.4 20 26.4 39 27.4 41 28 52.5 43 58.8 59 62.6 75 67.4 111 71.8 127 72.5 142 71.1 172 72 187 70.3 201 63.3 211 62 212 60 212.4 51 209.9 49.4 209 39 199.1 31 189.4 27.8 170 27 155 27.5 152 31.6 146 32.2 143 31.8 141 30 138.1 25.1 135 23.2 133 19 123.2 11.1 109 3.4 91 2.8 90 -2 86.6 -2 84.6 4 88.9 4.7 90 12.7 109 20.5 123 24.3 132 25.7 134 31 138.5 32.3 141 32.4 145 28.8 152 28.5 155 29.2 170 32.5 189 40.1 198 50.8 208 59 210.4 61 210.4 67.8 202 68.7 200 70.3 187 69.7 172 71.6 142 70.8 127 66.1 111 61.1 75 57.2 59 51.3 44 40 29.3 20 28 -2 28 -2 26.4Z"/><path fill="#5799e4" stroke="#5799e4" stroke-width=".5" d="M-1 24.4 20 24.4 39 25.4 42 26.3 54.2 42 60.4 58 64 74 68.8 111 72.7 127 73.4 142 72.7 172 74.1 187 72.2 203 65 212.8 63 214.2 60 214.7 48.6 211 38 201 29.3 190 26.2 171 25.3 154 26.5 151 30 147.7 31.1 146 31.7 144 31.4 141 29 137.9 23 135.1 21.9 134 17.5 124 9.8 110 1.8 92 -2 88.9 -2 86.6 3 90.3 11.1 109 19 123.2 23.2 133 25.1 135 30 138.1 31.8 141 32.2 143 31.6 146 27.5 152 27 155 27.8 170 31 189.4 39 199.1 50 209.5 59 212.2 62 212 64.1 210 70.3 201 72 187 71.1 172 72.5 142 71.8 127 67.4 111 62.6 75 58.8 59 52.5 43 41 28 39 27.4 20 26.4 -2 26.4 -2 24.4Z"/><path fill="#77b2e5" stroke="#77b2e5" stroke-width=".5" d="M-1 21.5 21 21.6 40 22.6 43 23.5 45.8 26 56.8 41 61.7 55 65.7 74 70.1 110 73.5 126 74.2 142 73.9 150 74.3 172 76.5 181 77.5 188 77 202 75.9 206 68 216.4 65 218.1 61 218.7 58 218.1 47 213.8 36 202.9 27.9 192 26.8 189 24.1 171 23.2 154 23.6 152 24.3 151 28 148.8 30.6 146 31.3 144 31 141 30 139.4 28 137.8 22 136.4 19.9 135 15.6 125 8.1 111 -.2 94 -2 92.1 -2 88.9 1.8 92 9.8 110 17.5 124 21.9 134 23 135.1 29 137.9 31.4 141 31.7 144 31.1 146 30 147.7 26.5 151 25.3 154 26.2 171 29.1 189 29.9 191 38 201 49 211.3 59 214.6 61 214.7 63.3 214 65.7 212 71.7 204 72.8 201 74.1 187 72.7 172 73.4 142 72.6 126 68.8 111 64 74 60.4 58 54.2 42 42 26.3 39 25.4 20 24.4 -2 24.4 -2 21.5Z"/><path fill="#9ccbea" stroke="#9ccbea" stroke-width=".5" d="M-1 15.4 21 15.4 40 16.4 44 17.3 48 19.6 50.4 22 57 31.7 61 40 65 57.6 67.5 74 71.5 110 74.4 126 75.1 142 74.8 150 76.1 172 88 195 92 199.8 100 207.5 105.4 215 107.5 220 108.2 227 53.9 227 45 221.4 41.3 218 33 207 25 193 23.6 188 21.8 176 20.3 152 21 150 26 149 29 147.4 30.6 145 30.9 142 30 140 27 137.9 24 137.6 19 138.5 17.2 137 12.8 126 -2 99 -2 92.1 -.2 94 8.1 111 15.6 125 19.9 135 22 136.4 28 137.8 30 139.4 31 141 31.3 144 30.6 146 28 148.8 24.3 151 23.6 152 23.2 154 24.1 171 26.8 189 27.9 192 36 202.9 47 213.8 59 218.4 63 218.6 66 217.7 69.4 215 76.4 205 77 202 77.5 188 76.5 181 74.3 172 73.9 150 74.2 142 73.5 126 70.1 110 65.7 74 62.6 58 56.8 41 45.8 26 43.7 24 41 22.8 39 22.5 20 21.5 -2 21.5 -2 15.4Z"/><path fill="#c5e1f2" stroke="#c5e1f2" stroke-width=".5" d="M-1 -2 61.4 -2 63.7 28 69.1 73 72.8 110 75.3 126 75.8 150 77.7 171 82 177.6 88 184.8 94 190.8 106.2 201 114 211.1 116 214 119.2 227 108.2 227 107.5 220 105.4 215 100 207.5 92 199.8 88 195 76.1 172 74.8 150 75.1 142 74.4 126 71.5 110 67.5 74 64.9 57 61 40 59 35.3 50 21.5 47 18.8 44 17.3 40 16.4 21 15.4 -2 15.4 -2 -2ZM-2 99 12.8 126 17.9 138 19 138.5 26 137.7 29 139 30.6 141 30.9 144 29 147.4 26 149 21 150 20.3 152 21.6 174 24.2 191 25.4 194 33 207 41 217.6 45 221.4 53.9 227 28.1 227 25.3 205 24 201 19.7 192 17.6 184 17.1 177 17.6 162 16 152.3 14 144 8 128.4 3 118.9 0 116.4 -2 116.2 -2 99ZM22.2 139 19.5 142 19.3 144 20.2 146 22 147.7 24 148.4 26 148.3 28 147.6 29.7 146 30.5 144 30 140.7 29 139.5 27 138.4 23 138.6Z"/><path fill="#e6f3fa" stroke="#e6f3fa" stroke-width=".5" d="M62 -2 66.6 -2 67.2 30 68.4 48 73.5 105 76.1 125 76.8 150 79 170 83 175.4 90 183.1 94 187.1 108.6 199 115 207.1 119.3 213 123 227 119.2 227 116 214 107 201.9 90 187 83 178.9 77.7 171 75.8 150 75.3 126 72.8 110 69.1 73 63.7 28 61.4 -2ZM-1 116.1 1 117 3 118.9 8.3 129 14 144 17.4 160 17.1 178 17.6 184 19.7 192 24 201 25.3 205 28.1 227 -2 227 -2 166.3 -.9 169 1 171.7 3 173.1 6 173.6 8 172.9 10.5 170 12 166.3 12.4 163 12 159.1 11 156.2 9 153.1 7 151.2 4 150.9 2 151.8 -.2 154 -2 157.8 -2 116.2ZM9.1 197 7 198.1 4.9 201 4 204 4.1 208 5 211.2 7 214.2 9 215.8 12 216.3 15 215 17 212.8 18.3 210 18.7 206 17.9 203 16 200.1 13 197.7 10 196.9ZM23 138.6 27 138.4 29 139.5 30 140.7 30.5 144 29.7 146 28 147.6 26 148.3 24 148.4 22 147.7 20.2 146 19.3 144 19.5 142 22.2 139ZM23.8 139 21.4 141 20.8 143 21.2 145 22 146.2 24 147.5 27 147.5 29 146.2 29.8 145 30.1 142 29 140 28 139.3 26 138.7 24 138.9Z"/><path fill="#fefee2" stroke="#fefee2" stroke-width=".5" d="M67 -2 69.7 -2 69.5 30 70.9 60 74.4 102 76.9 125 77.8 150 80.8 170 87 177.2 94.8 185 111 198 117.6 206 121.6 211 126.4 226 127 226.7 160 226.7 208 225.5 208 227 123 227 119.3 213 114.2 206 108.6 199 91 184.2 79.5 171 76.8 150 76.1 125 73.8 108 69.3 60 67.2 30 66.6 -2ZM24 138.9 26 138.7 28 139.3 29 140 30.1 142 29.8 145 29 146.2 27 147.5 24 147.5 22 146.2 21.2 145 20.8 143 21.4 141 23.8 139ZM23.3 140 21.8 142 22.2 145 23 146.1 25 147.1 28 146.5 29.8 144 29.3 141 27 139.3 24 139.6ZM4 150.9 7 151.2 9 153.1 11 156.2 12.3 161 12.3 165 11 169 9 172 7 173.4 4 173.5 2 172.5 -.3 170 -2 166.3 -1.7 157 .6 153 3.7 151ZM10 196.9 13 197.7 16 200.1 17.9 203 18.7 206 18.3 210 17 212.8 15 215 12 216.3 9 215.8 7 214.2 5 211.2 4.1 208 4 204 4.9 201 7 198.1 9.1 197Z"/><path fill="#fdfd83" stroke="#fdfd83" stroke-width=".5" d="M70 -2 78.4 -2 72.9 0 71.7 26 71.8 43 72.8 67 75.4 101 77.5 120 79 150 82.1 169 89 176.7 96 183.4 112.8 196 125.3 209 130 216.4 133 219 151 217.4 166 215 179 211.9 193 207.4 199 204.5 203 201.1 206 195.9 208 189.5 208 225.5 140 226.9 127 226.7 126.4 226 122 212 120.8 210 111 198 94 184.3 85 175 80.5 169 77.8 150 76.9 125 74.4 102 70.9 60 69.5 30 69.7 -2ZM189 -2 208 -2 208 -.8 188.2 -2ZM24 139.6 27 139.3 29.3 141 29.8 144 28 146.5 25 147.1 23 146.1 22.2 145 21.8 142 23.3 140ZM24.4 140 22.6 142 22.5 144 24 146.1 27 146.5 29 144.9 29.4 142 28 140.2 25 139.7Z"/><path fill="#ffff30" stroke="#ffff30" stroke-width=".5" d="M75 -1 78.4 -2 93.2 -2 82.9 0 78.8 2 77 3.6 75.2 15 74 29.5 73.8 60 75.5 89 78.5 120 80.3 150 83.8 168 89 173.9 95 179.5 107 187.7 121 195.3 126 196.4 131 196.4 145 194.1 161 190.1 176 185 190 179 197 175.2 202 171.2 205 167 208 158.5 208 189.5 205 198.1 202 202.2 198 205.1 192 207.8 182.2 211 160.8 216 146 218 133 219 130 216.4 125.3 209 112.8 196 96 183.4 89 176.7 82.1 169 79 150 77.5 120 75.1 98 72.4 60 71.7 30 72.1 14 72.9 0 74.9 -1ZM117 -2 188.2 -2 208 -.8 208 17.2 206 10.1 204.2 6 197.4 4 186.2 2 166.3 0 116.9 -2ZM25 139.7 28 140.2 29.4 142 29 144.9 27 146.5 24 146.1 22.5 144 22.6 142 24.4 140ZM23.8 141 23 143 23.7 145 26 146.1 28 145.4 29.1 143 28.3 141 26 140.1 24 140.9Z"/><path fill="#ffff00" stroke="#ffff00" stroke-width=".5" d="M87 -1.1 93.2 -2 130 -1.7 160 -.4 182 1.5 193 3.1 204 5.9 207 13.2 208 17.2 208 45.8 206 37.1 204 31.8 201 27 198 23.6 192 18.5 183.6 13 175.7 9 168 6.3 157.4 4 140.8 2 120 .8 96 .5 91 1.1 86.2 3 83 5.8 81.1 9 78 22 76 38.7 75.3 60 76.1 82 81.8 150 86 166.7 90 171.3 95 175.6 101 179.1 107 181.1 113 182 121 181.8 132 180.3 144 177.7 156 174.3 167 170.3 178 165.4 188 159.9 196 154.5 201 149.9 204 145.6 206 141 208 133.3 208 158.5 205 167 201 172.2 192 178 177 184.6 162 189.8 145 194.1 129 196.5 124 196.2 120 194.9 109 188.9 98 181.9 91 175.9 83.8 168 80.3 150 78.5 120 75.9 95 73.8 60 73.7 39 74.6 21 76.8 4 80.5 1 86.4 -1ZM24 140.9 26 140.1 28.3 141 29.1 143 28 145.4 26 146.1 23.7 145 23 143 23.8 141ZM24.7 141 23.7 143 24 144.3 26 145.6 27.7 145 28.5 144 28.4 142 27 140.7 25 140.8Z"/><path fill="#ffd200" stroke="#ffd200" stroke-width=".5" d="M92 .9 97 .4 112 .6 140.8 2 157.4 4 172 7.6 178 10 185.3 14 192 18.5 197.4 23 203 29.9 205 34.1 207 40.8 208 45.8 208 133.3 206 141 204 145.6 201 149.9 196 154.5 188 159.9 178 165.4 168 169.9 158 173.7 146 177.2 135 179.7 123 181.6 114 182.1 107 181.1 101 179.1 94 174.9 86.1 167 83 155.6 81.5 147 76.5 88 75.3 60 75.9 41 77.8 23 81.5 8 85 3.8 88.2 2 91.6 1ZM94.6 5 91.9 6 89 8.1 86.1 12 84 16.6 80 30.4 77.5 49 77 68 77.9 93 81.9 137 83.7 150 86 157.6 89.2 165 92 167.8 96 170.3 102 171.4 110 171.4 122 170.2 134 168 144 165.5 154 162.3 164 158.2 173 153.6 181 148.8 189 142.8 195.4 137 200.2 131 203 126 205 120.2 206.6 112 207.5 103 207.9 92 207.5 80 206.6 70 205 60.6 203 54.1 201 49.7 198 45 193 39 187 33.2 180 27.5 172 22.2 164 17.7 149 11.4 134 7.6 115 5.3 95 4.9ZM25 140.8 27 140.7 28.4 142 28.5 144 27.7 145 26 145.6 24 144.3 23.7 143 24.7 141ZM24.6 142 24.3 143 25 144.5 27 144.8 28 144 28 142.2 27 141.2 25 141.6Z"/><path fill="#ffa800" stroke="#ffa800" stroke-width=".5" d="M95 4.9 115 5.3 134 7.6 149 11.4 164 17.7 172 22.2 180 27.5 187 33.2 193 39 198 45 201 49.7 203 54.1 205 60.6 206.6 70 207.5 80 207.9 92 207.5 103 206.6 112 205 120.2 203 126 200.2 131 195.4 137 189 142.8 181 148.8 173 153.6 164 158.2 154 162.3 144 165.5 134 168 122 170.2 110 171.4 102 171.4 96 170.3 92 167.8 89.2 165 86 157.6 83.7 150 81.9 137 77.9 93 77 68 77.5 49 80 30.4 84 16.6 86.1 12 89 8.1 91.9 6 94.6 5ZM94.5 13 92 14.6 89 18.2 86.4 23 84 29.1 80.7 43 78.8 60 78.6 82 80 106 83.4 137 85 145.4 87 151.8 90 157.6 93 161.1 96 162.6 101 162.8 115 161.9 129 159.7 142 156.3 155 151.4 169 144 181 135.2 190.6 125 196.8 115 199 109.5 200.4 104 201.6 92 200.3 78 196.6 66 190.5 55 181.3 44 170 34.4 157 26.3 143 20.2 127 15.5 110 13 99 12.4 95 12.8ZM25 141.6 27 141.2 28 142.2 28 144 27 144.8 25 144.5 24.3 143 24.6 142ZM25.7 142 25.1 143 25.6 144 27 144.1 27.5 143 27 142 26 141.9Z"/><path fill="#ff7800" stroke="#ff7800" stroke-width=".5" d="M95 12.8 99 12.4 110 13 127 15.5 143 20.2 157 26.3 170 34.4 181.3 44 190.5 55 196.6 66 200.3 78 201.6 92 200.4 104 199 109.5 196.8 115 190.6 125 181 135.2 169 144 155 151.4 142 156.3 129 159.7 115 161.9 101 162.8 96 162.6 93 161.1 90 157.6 87 151.8 85 145.4 83.4 137 80 106 78.6 82 78.8 60 80.7 43 84 29.1 86.4 23 89 18.2 92 14.6 94.5 13ZM95.9 21 93 22.5 91 24.6 88.2 29 86 34.2 82.5 47 80.4 63 79.9 82 81 104 84 129.9 87 143.3 89 148.2 91 151.4 94 154.2 97 155.2 107 155 118 153.8 129 151.7 139 148.8 153 143.1 165 136 175 127.8 183.1 118 188.3 108 190.9 98 191 87 188.5 75 183.6 64 176 53.2 166.6 44 155 35.9 142 29.4 127 24.5 111 21.6 96 21ZM26 141.9 27 142 27.5 143 27 144.1 25.6 144 25.1 143 25.7 142Z"/><path fill="#ff4800" stroke="#ff4800" stroke-width=".5" d="M96 21 111 21.6 127 24.5 142 29.4 155 35.9 166.6 44 176 53.2 183.6 64 188.5 75 191 87 190.9 98 188.3 108 183.1 118 175 127.8 165 136 153 143.1 139 148.8 129 151.7 118 153.8 107 155 97 155.2 94 154.2 91 151.4 89 148.2 87 143.3 84 129.9 81 104 79.9 82 80.4 63 82.5 47 86 34.2 88.2 29 91 24.6 93 22.5 95.9 21ZM95.1 29 93 30.5 90.9 33 86.7 42 83.6 54 81.8 69 81.4 86 82.3 105 85 125.7 88 138 90 142.5 92 145.5 94 147.4 97 148.5 107 148.2 118 146.8 128 144.6 138 141.5 150 136 160 129.6 168.5 122 175.3 113 179.3 104 181.1 95 180.6 85 178 75 173.1 65 166.3 56 157.6 48 147.1 41 136 35.7 123 31.6 109 29.1 96 28.7Z"/><path fill="#ff1800" stroke="#ff1800" stroke-width=".5" d="M96 28.7 109 29.1 123 31.6 136 35.7 147.1 41 157.6 48 166.3 56 173.1 65 178 75 180.6 85 181.1 95 179.3 104 175.3 113 168.5 122 160 129.6 150 136 138 141.5 128 144.6 118 146.8 107 148.2 97 148.5 94 147.4 92 145.5 90 142.5 88 138 85 125.7 82.3 105 81.4 86 81.8 69 83.6 54 86.7 42 90.9 33 93 30.5 95.1 29ZM96 36 94 37.1 92 39.2 88 47.3 85 59.1 83.3 74 82.9 91 84 107.5 86.8 125 89.4 134 93 139.9 95 141.4 98 142.1 108 141.6 118 140.2 128 137.7 137 134.4 147 129.3 155 123.7 162 116.7 167.3 109 170.4 101 171.6 93 170.8 84 168 75 163.7 67 157.3 59 149.4 52 140 46.1 130 41.6 119 38.3 107 36.3 96 36Z"/><path fill="#ec0000" stroke="#ec0000" stroke-width=".5" d="M96 36 107 36.3 119 38.3 130 41.6 140 46.1 149.4 52 157.3 59 163.7 67 168 75 170.8 84 171.6 93 170.4 101 167.3 109 162 116.7 155 123.7 147 129.3 137 134.4 128 137.7 118 140.2 108 141.6 98 142.1 95 141.4 93 139.9 89.4 134 86.8 125 84 107.5 82.9 91 83.3 74 85 59.1 88 47.3 92 39.2 94 37.1 96 36ZM94.8 44 93 45.7 91 48.9 88 57.1 85.8 68 84.7 82 84.8 97 86 110.1 88.8 124 92 131.6 94 134.1 97 135.5 106 135.2 115 134 123.2 132 131.6 129 139 125.4 145.7 121 151.4 116 156.3 110 159.5 104 161.3 98 161.9 91 161 84 158.7 77 155 70.2 150.1 64 144.8 59 137.8 54 130 49.9 121 46.6 112 44.4 100 43.2 97 43.2 95 43.9Z"/><path fill="#c80000" stroke="#c80000" stroke-width=".5" d="M95 43.9 97 43.2 100 43.2 112 44.4 121 46.6 130 49.9 137.8 54 144.8 59 150.1 64 155 70.2 158.7 77 161 84 161.9 91 161.3 98 159.5 104 156.3 110 151.4 116 145.7 121 139 125.4 131.6 129 123.2 132 115 134 106 135.2 97 135.5 94 134.1 92 131.6 88.8 124 86 110.1 84.8 97 84.7 82 85.8 68 88 57.1 91 48.9 93 45.7 94.8 44ZM95.3 52 92 56.2 89.8 62 87.9 71 86.7 83 86.7 95 87.6 106 89.2 115 92 123.4 94 126.5 96 128 105 128.1 112.3 127 120 125.1 132 119.9 137.9 116 143 111.4 147 106.2 149.6 101 151 95 151 89 149.7 83 147.3 77 144 71.9 139 66.4 133.6 62 126.8 58 119.6 55 112 52.9 103 51.5 96 51.6Z"/><path fill="#b50000" stroke="#b50000" stroke-width=".5" d="M96 51.6 103 51.5 112 52.9 119.6 55 126.8 58 133.6 62 139 66.4 144 71.9 147.3 77 149.7 83 151 89 151 95 149.6 101 147 106.2 143 111.4 137.9 116 132 119.9 120 125.1 112.3 127 105 128.1 96 128 94 126.5 92 123.4 89.2 115 87.6 106 86.7 95 86.7 83 87.9 71 89.8 62 92 56.2 95.3 52Z"/><use href="#ov"/></svg></div>
<div class="fr" style="left:43px;top:22px"></div>
<div class="lt" style="left:46px;top:27px">a)</div>
<div class="a" style="left:40.5px;top:32.0px;width:2px;height:1px;background:#888"></div>
<div class="a" style="left:249.5px;top:32.0px;width:2px;height:1px;background:#888"></div>
<div class="a" style="left:40.5px;top:134.8px;width:2px;height:1px;background:#888"></div>
<div class="a" style="left:249.5px;top:134.8px;width:2px;height:1px;background:#888"></div>
<div class="a" style="left:40.5px;top:237.6px;width:2px;height:1px;background:#888"></div>
<div class="a" style="left:249.5px;top:237.6px;width:2px;height:1px;background:#888"></div>
<div class="a" style="left:94.0px;top:248.5px;width:1px;height:2px;background:#888"></div>
<div class="tk" style="left:85.4px;top:251.5px;width:20px;text-align:center">-71°</div>
<div class="a" style="left:197.4px;top:248.5px;width:1px;height:2px;background:#888"></div>
<div class="tk" style="left:188.8px;top:251.5px;width:20px;text-align:center">-70°</div>
<div class="tk" style="left:15px;top:26.9px;width:24px;text-align:right">-19°</div>
<div class="tk" style="left:15px;top:129.7px;width:24px;text-align:right">-20°</div>
<div class="tk" style="left:15px;top:232.5px;width:24px;text-align:right">-21°</div>
<div class="pn" style="left:258px;top:23px"><svg width="206" height="225" viewBox="0 0 206 225"><path fill="#0b1099" stroke="#0b1099" stroke-width=".5" d="M30 44 37.1 45 45.8 50 46.4 51 51 62.7 54 73.9 60.7 107 68.8 136 63 184 59 188.3 52 187.7 45 184.1 40.2 177 36.9 142 33.3 126 24.6 106 16.5 90 14.6 66 14.9 60 16.3 53 20 47.8 30 44Z"/><path fill="#0c14a2" stroke="#0c14a2" stroke-width=".5" d="M28 42 31 41.1 38 42.5 47.6 48 48.4 49 53.2 61 55 67.6 57.2 76 63.2 106 71.2 135 70 148.5 65.5 185 65.2 186 60 191 51 190.1 44 186.6 43 185.9 37.7 178 35.3 153 35.4 144 34.8 140 32.1 133 30.6 126 22.8 108 14 90.7 11.8 65 12.1 60 13.8 52 18 46 28 42ZM30 44 20 47.8 16.3 53 14.9 60 14.6 66 16.5 90 24.6 106 33.3 126 36.9 142 40.2 177 45 184.1 52 187.7 59 188.3 63 184 68.8 136 60.7 107 54 73.9 51 62.7 46.4 51 45.8 50 37.1 45 30 44Z"/><path fill="#0f20b7" stroke="#0f20b7" stroke-width=".5" d="M28 39.9 31 39.2 39 40.8 49 46.6 50 47.9 55.2 61 58 71.5 65.1 106 72.9 135 71.7 149 67.3 186 66.9 187 61 192.9 51 192.2 42.5 188 36 179 33.4 153 34.4 144 33.7 140 30.7 134 29 127 21.3 109 12 91 9.8 64 10.1 59 12 51 17 44.3 27.8 40ZM28 42 18 46 13.8 52 12.1 60 11.8 65 14 90.7 22.8 108 30.6 126 32.1 133 34.8 140 35.4 144 35.3 153 37.7 178 43 185.9 44 186.6 51 190.1 60 191 65.2 186 65.5 185 70 148.5 71.2 135 63.2 106 57.2 76 55 67.6 53.2 61 48.4 49 47.6 48 38 42.5 31 41.1 28 42Z"/><path fill="#1634d6" stroke="#1634d6" stroke-width=".5" d="M29 37.8 31 37.5 39 39.1 51 46.1 56.5 60 60 72.9 66.4 105 74.3 135 73.1 150 68.8 187 62 194.1 61 194.6 50 193.5 41 189 34.7 180 32 154 32 151 33.5 145 33.2 141 28.8 133 27.3 127 19.7 109 10.4 91 7.9 63 8.4 58 10.3 51 16 42.9 28.5 38ZM27.8 40 17 44.3 12 51 10.1 59 9.8 64 12 91 21.3 109 29 127 30.7 134 33.7 140 34.4 144 33.4 153 36 179 42.5 188 51 192.2 61 192.9 66.9 187 67.3 186 71.7 149 72.9 135 65.1 106 58 71.5 55.2 61 50 47.9 49 46.6 39 40.8 31 39.2 28 39.9Z"/><path fill="#224ce5" stroke="#224ce5" stroke-width=".5" d="M30 35.8 40 37.8 52.2 45 58.1 60 62 74.8 67.9 105 75.5 135 74 154.5 70.2 188 62 196.2 50 195.2 40 190.2 33 180 30.6 154 30.8 151 32.8 145 32.6 141 31 138 27.8 134 26.2 128 18.7 110 13.4 99 9.1 92 8 78 5.9 62 6.4 58 8.9 50 15 41.7 29.5 36ZM28.5 38 16 42.9 10.3 51 8.4 58 7.9 63 10.4 91 19.7 109 27.3 127 28.8 133 33.2 141 33.5 145 32 151 32 154 34.7 180 41 189 50 193.5 61 194.6 62 194.1 68.8 187 73.1 150 74.3 135 66.4 105 60 72.9 56.5 60 51 46.1 39 39.1 31 37.5 29 37.8Z"/><path fill="#2f65eb" stroke="#2f65eb" stroke-width=".5" d="M28 35 30 34.3 41 36.6 53.3 44 59.3 59 63.3 74 69.3 105 76.6 135 75.1 157 71.7 188 71 189.4 63 197.3 62 197.7 50 196.7 40 191.9 38.7 191 32 181 29.2 154 29.7 151 32.3 145 32.3 142 31 138.9 26.5 134 24.8 128 17.3 110 12.5 100 7.6 92 6.2 76 3.7 63 3.7 60 4.7 56 7.5 49 14 40.6 27.9 35ZM29.5 36 15 41.7 8.9 50 6.4 58 5.9 62 8 78 9.1 92 13.4 99 18.7 110 26.2 128 27.8 134 31 138 32.6 141 32.8 145 30.8 151 30.6 154 33 180 40 190.2 50 195.2 62 196.2 70.2 188 74 154.5 75.5 135 67.9 105 62 74.8 58.1 60 52.2 45 40 37.8 30 35.8Z"/><path fill="#3c7ee8" stroke="#3c7ee8" stroke-width=".5" d="M29 32.8 31 32.8 41 34.8 53.5 42 55.2 44 61 59 64.6 73 70.5 104 77 132.3 77.5 135 76.5 157 73.2 189 69.7 193 63 199.2 49 198.2 39 193.2 37.4 192 30.9 182 30.2 180 27.9 154 28.5 151 31.8 145 31.6 141 30 138.5 25.1 134 23.4 128 16.4 111 11.6 101 6 92 4.4 76 .8 62 1.5 57 5.4 49 13 39.3 28.5 33ZM27.9 35 14 40.6 7.5 49 4.7 56 3.7 60 3.7 63 6.2 76 7.6 92 12.5 100 17.3 110 24.8 128 26.5 134 31 138.9 32.3 142 32.3 145 29.7 151 29.2 154 32 181 38.7 191 40 191.9 50 196.7 62 197.7 63 197.3 71 189.4 71.7 188 75.1 157 76.6 135 69.3 105 63.3 74 59.3 59 53.3 44 41 36.6 30 34.3 28 35Z"/><path fill="#5799e4" stroke="#5799e4" stroke-width=".5" d="M29 30.7 42 33 56 41.5 62.7 58 66.6 74 72 104 78 132.5 78.4 137 77.6 162 75.3 189 73.6 192 66 199.6 64 201 62 201.4 49 200.3 38 194.9 35.7 193 29 182 26.4 154 27.2 151 30.9 146 31.4 142 29.8 139 25.4 136 23.5 134 22 128.3 15 111.1 10.6 102 4.4 93 2.2 76 -2 64.8 -1.8 56 3.2 48 11 38.3 13 37 28 31ZM28.5 33 13 39.3 5.4 49 1.5 57 .8 62 4.4 76 6 92 11.6 101 16.4 111 23.4 128 25.1 134 30 138.5 31.6 141 31.8 145 28.5 151 27.9 154 30.2 180 30.9 182 37.4 192 39 193.2 49 198.2 63 199.2 69.7 193 73.2 189 76.5 157 77.5 135 77 132.3 70.5 104 64.6 73 61 59 55.2 44 53.5 42 41 34.8 31 32.8 29 32.8Z"/><path fill="#77b2e5" stroke="#77b2e5" stroke-width=".5" d="M28 27.9 31 27.7 43 30.2 57.5 39 59.5 42 64.6 56 67.7 69 79.3 135 79.1 178 78.2 189 77.3 192 68 201.7 65 203.8 62 204.3 47 202.7 36 197 34 195 31.6 191 27.5 183 27 181 24.7 154 25.6 151 30.4 146 31.1 144 31 142 29 138.8 23.2 136 22.2 135 18 122 13.7 112 9 102.4 2.6 94 1.2 90 -.3 79 -2 73.6 -2 64.8 2.2 76 4.4 93 10.6 102 15 111.1 22 128.3 23.5 134 25.4 136 29 138.2 31.1 141 31.5 143 30.9 146 26.7 152 26.6 158 28.7 181 35.7 193 38 194.9 48 200 62 201.4 65.6 200 73.6 192 75 190 77.6 162 78.4 135 72 104 66.4 73 62.7 58 56.4 42 55 40.6 42 33 29 30.7 11.3 38 3.2 48 -2 56.6 -2 49.3 9 36.2 12 34.2 27.8 28Z"/><path fill="#9ccbea" stroke="#9ccbea" stroke-width=".5" d="M27 21.8 32 21.6 45 24.4 59 33 61.7 36 63.2 39 68.1 57 80.1 134 80.3 150 81.6 171 83.8 181 84.2 188 83.5 193 81 197.4 71 207.4 66 209.9 61 210.5 46 208.9 37 204.1 34 201.7 31.8 199 24.9 182 22.6 154 23.3 151 28 148.1 29.9 146 30.7 144 30.6 142 29.5 140 28 138.7 21.6 137 20.4 136 15.9 122 8 104.6 -2 92.3 -2 73.6 -.6 78 2.1 93 9 102.4 12 108.4 18 122 22 134.5 23.2 136 29 138.8 30.6 141 31.1 143 30.8 145 29.8 147 25 152 24.8 156 27.1 182 34 195 37 197.6 47 202.7 63 204.3 66 203.3 67.7 202 76 193.7 77.7 191 79.1 178 79.2 134 67.4 68 64.9 57 59 41 56 37.8 43 30.2 31 27.7 29 27.7 10 35.3 -2 49.3 -2 40.1 5 31.5 9 28.8 26.3 22Z"/><path fill="#c5e1f2" stroke="#c5e1f2" stroke-width=".5" d="M-1 -2 62.2 -2 64.4 17 71 56.7 75.3 95 80.9 134 81.5 150 83.9 171 88.3 179 95 189 109.6 203 118.6 215 122.4 227 32.5 227 29.8 211 22.1 183 19.6 153 19.9 150 20.7 149 26 148.4 29 146.5 30.3 144 30.2 142 29 140 26 138.4 23 138.4 19 139.3 18 138.7 16 131 13 122.9 6 107.5 2.1 102 -2 98.1 -2 92.3 8 104.6 15.9 122 20.4 136 21.6 137 28 138.7 30.2 141 30.7 143 29.9 146 28 148.1 23.3 151 22.7 153 24.9 182 32 199.3 36 203.3 43 207.6 48 209.4 60 210.4 64 210.4 67 209.6 72 206.5 80.5 198 82.6 195 84 191 84.1 185 83.6 180 81.6 171 80.3 150 80.1 134 74.9 103 68.6 60 64.4 43 62 36.5 58 32.2 46 24.8 33 21.8 29 21.5 25 22.4 8 29.3 4 32.5 -2 40.1 -2 -2Z"/><path fill="#e6f3fa" stroke="#e6f3fa" stroke-width=".5" d="M63 -2 69 -2 70.7 30 76.2 90 81.8 134 82.6 150 85.7 170 90.2 177 98 186.7 113.3 199 124.1 212 129.5 227 122.4 227 118.6 215 109.6 203 95 189 88.3 179 83.9 171 81.5 150 80.9 134 75.3 95 71 56.7 64.4 17 62.2 -2ZM-1 99 5 105.8 9 113.7 15 128.2 18 138.7 19 139.3 23 138.4 26 138.4 29 140 30.2 142 30.3 144 29 146.5 26 148.4 20.7 149 19.9 150 19.6 152 22.1 183 29.8 211 32.5 227 25 227 23.5 214 21 201.6 15.4 184 12.4 152 9.3 134 8 130.4 5 125.3 3 123.4 2 123.4 1 124.5 0 127.6 -1 134.6 -2 189.4 -2 98.1ZM24.1 139 21 141 20.2 144 21.1 146 22.2 147 24 147.7 26 147.7 29 145.8 29.9 143 28.4 140 25 138.9Z"/><path fill="#fefee2" stroke="#fefee2" stroke-width=".5" d="M70 -2 83.6 -2 79 0 75.4 3 74.2 30 77.6 90 82.7 134 83.7 150 87.5 170 93 177.5 99.7 185 115.8 197 128.2 210 133 218.5 135.6 222 144.1 221 155 217.9 160.9 215 165.3 212 176 202.3 187.1 189 195.9 175 200.9 164 204 153.4 206.4 139 208 119.5 208 226.7 202.5 227 129.5 227 124.1 212 113.3 199 98 186.7 91.7 179 86.1 171 82.6 150 81.8 134 76.2 90 70.7 30 69 -2ZM155 -2 208 -2 208 63.4 206.3 45 204 32 200 19.9 195.1 11 189.6 6 183 3 169.9 0 154.1 -2ZM2 123.4 3 123.4 5 125.3 9.1 133 12.4 152 15.4 184 21 201.6 23.5 214 25 227 -2 227 -1.2 137 0 127.6 1.4 124ZM25 138.9 28.4 140 29.9 143 29 145.8 26 147.7 24 147.7 22.2 147 21.1 146 20.2 144 21 141 24.1 139ZM23.4 140 21.7 142 21.9 145 24 146.8 27 146.8 29.1 145 29.3 142 27 139.7 24 139.7Z"/><path fill="#fdfd83" stroke="#fdfd83" stroke-width=".5" d="M81 -1 83.6 -2 154.1 -2 175.4 1 185.7 4 192.3 8 197 13.8 202 25 204 32 206 42.6 208 63.4 208 119.5 206.1 141 203.6 155 201 163.8 197 173 191.8 182 184.8 192 177 201.2 169 209 162 214.3 154.8 218 144.1 221 135.6 222 133 218.5 128.2 210 115.8 197 99.7 185 93 177.5 87.5 170 83.7 150 82.7 134 77.6 90 74.5 38 74.3 21 75.4 3 77.4 1 81 -1ZM92.5 -1 89 .2 86.1 2 83.4 5 82 8 78.8 23 77.4 39 77.6 65 78.8 90 84.8 149 86.4 158 89 169.3 95 177 101 183.1 110 189.3 124 197.9 128 199.3 132.8 199 139 196.4 147 191.3 154 185.6 161 178.8 167 171.8 172.6 164 177.9 155 182.3 146 185.8 137 188.9 127 191.1 117 192.7 107 193.5 96 193.5 86 192.8 76 191.2 66 186.5 49 182.9 40 178.8 32 173.9 24 168.7 17 164 11.8 159 7.6 154.5 5 149.2 3 133.8 0 109 -1.7 98 -1.8 93 -1.1ZM24 139.7 27 139.7 29.3 142 29.1 145 27 146.8 24 146.8 21.9 145 21.7 142 23.4 140ZM25.6 140 23.3 141 22.4 143 23 145.1 24 146 26 146.5 28 145.6 29.1 143 28 140.8 26 140Z"/><path fill="#ffff30" stroke="#ffff30" stroke-width=".5" d="M93 -1.1 98 -1.8 109 -1.7 133.8 0 149.2 3 154.5 5 159 7.6 164 11.8 168.7 17 173.9 24 178.8 32 182.9 40 186.5 49 191.2 66 192.8 76 193.5 86 193.5 96 192.7 107 191.1 117 188.9 127 185.8 137 182.3 146 177.9 155 172.6 164 167 171.8 161 178.8 154 185.6 147 191.3 139 196.4 132.8 199 128 199.3 124 197.9 110 189.3 101 183.1 95 177 89 169.3 86.4 158 84.8 149 78.8 90 77.6 65 77.4 39 78.8 23 82 8 83.4 5 86.1 2 89 .2 92.5 -1ZM96.3 2 93.5 3 90.8 5 88.5 8 86.1 13 81.8 29 79.7 46 79.2 66 79.9 89 86 149.1 90.4 168 97 176.3 103 181.3 110 185 117 187 123 186.6 129 184.5 136 180.7 142 176.6 148.6 171 154 165.5 159.3 159 164.1 152 168.5 144 172.2 136 175.4 127 179.4 110 180.9 92 179.9 75 176.3 59 173.4 51 169.8 43 165.9 36 161 28.9 156 22.9 150 16.9 140 9.5 135 7 129.3 5 122 3.4 114 2.3 97 1.9ZM26 140 28 140.8 29.1 143 28 145.6 26 146.5 24 146 23 145.1 22.4 143 23.3 141 25.6 140ZM24.4 141 23.5 142 23.3 144 25 145.7 27 145.6 28.5 144 28.3 142 27 140.7 25 140.7Z"/><path fill="#ffff00" stroke="#ffff00" stroke-width=".5" d="M97 1.9 114 2.3 122 3.4 129.3 5 135 7 140 9.5 150 16.9 156 22.9 161 28.9 165.9 36 169.8 43 173.4 51 176.3 59 179.9 75 180.9 92 179.4 110 175.4 127 172.2 136 168.5 144 164.1 152 159.3 159 154 165.5 148.6 171 142 176.6 136 180.7 129 184.5 123 186.6 117 187 110 185 103 181.3 97 176.3 90.4 168 86 149.1 79.9 89 79.2 66 79.7 46 81.8 29 86.1 13 88.5 8 90.8 5 93.5 3 96.3 2ZM96.6 8 94 9.8 91.4 13 86.9 23 83.4 37 81.3 54 80.7 72 81.2 91 82.7 109 87.3 149 92.1 167 95 170.9 99 174.5 105 177.7 111 178.7 117 177.8 125 174.9 136 168.5 146.8 159 155.5 148 162.8 135 168.2 120 171.3 105 172.3 89 170.9 74 167.3 60 161.2 46 153.3 34 144 24.1 133 16.1 122 11 109 7.9 100 7.4 97 7.8ZM25 140.7 27 140.7 28.3 142 28.5 144 27 145.6 25 145.7 23.3 144 23.5 142 24.4 141ZM24.4 142 24.1 144 25.1 145 27 145 28 143.7 27.7 142 26 141.1 25 141.4Z"/><path fill="#ffd200" stroke="#ffd200" stroke-width=".5" d="M97 7.8 100 7.4 109 7.9 122 11 133 16.1 144 24.1 153.3 34 161.2 46 167.3 60 170.9 74 172.3 89 171.3 105 168.2 120 162.8 135 155.5 148 146.8 159 136 168.5 125 174.9 117 177.8 111 178.7 105 177.7 99 174.5 95 170.9 92.1 167 87.3 149 82.7 109 81.2 91 80.7 72 81.3 54 83.4 37 86.9 23 91.4 13 94 9.8 96.6 8ZM97.1 15 94.5 17 92 20.3 87.8 30 84.4 44 82.5 60 82 77 82.4 94 84 112 87.7 143 89 150.4 92 160.4 94.4 166 97 168.7 101 170.7 107 171.4 113 170.5 120 168.3 131 162.4 140.1 155 148.7 145 155.9 133 161 120 164.3 106 165.5 92 164.6 78 161.7 65 156.5 52 149.7 41 141.8 32 132 24.2 121 18.5 109 15.2 102 14.5 98 14.6ZM25 141.4 26 141.1 27.7 142 28 143.7 27 145 25.1 145 24.1 144 24.4 142ZM25.7 142 24.9 143 25.2 144 27 144.1 27.3 143 26 141.9Z"/><path fill="#ffa800" stroke="#ffa800" stroke-width=".5" d="M98 14.6 102 14.5 109 15.2 121 18.5 132 24.2 141.8 32 149.7 41 156.5 52 161.7 65 164.6 78 165.5 92 164.3 106 161 120 155.9 133 148.7 145 140.1 155 131 162.4 120 168.3 113 170.5 107 171.4 101 170.7 97 168.7 94.4 166 92 160.4 89 150.4 87.7 143 84 112 82.4 94 82 77 82.5 60 84.4 44 87.8 30 92 20.3 94.5 17 97.1 15ZM98.6 21 95 23.2 91.2 29 88 37.9 85.7 48 84.1 60 83.3 73 83.2 88 84 102 88.3 139 90.3 149 93 156.9 96 162.2 99 164.5 104 164.9 110 164.1 121 160.4 131 154.3 139.9 146 147.4 136 153.4 124 157.5 111 159.5 98 159.6 84 157.5 71 153.4 59 147.3 48 140 38.9 131 31.1 121 25.5 110 22 99 20.9ZM26 141.9 27.3 143 27 144.1 25.2 144 24.9 143 25.7 142Z"/><path fill="#ff7800" stroke="#ff7800" stroke-width=".5" d="M99 20.9 110 22 121 25.5 131 31.1 140 38.9 147.3 48 153.4 59 157.5 71 159.6 84 159.5 98 157.5 111 153.4 124 147.4 136 139.9 146 131 154.3 121 160.4 110 164.1 104 164.9 99 164.5 96 162.2 93 156.9 90.3 149 88.3 139 84 102 83.2 88 83.3 73 84.1 60 85.7 48 88 37.9 91.2 29 95 23.2 98.6 21ZM97.9 27 96 28.2 94 30.5 90 39 86.9 51 85 66 84.3 81 84.7 97 86.1 113 89 135.3 91 144.9 93 151 95 154.9 98 158.1 102 158.8 108 158.2 114 156.6 120 154.1 128.3 149 136 141.9 142.8 133 148 123.3 151.7 113 154.1 101 154.8 89 153.7 78 150.9 67 146.6 57 140.8 48 134 40.6 126 34.5 117 30 107 27.3 101 26.7 98 27Z"/><path fill="#ff4800" stroke="#ff4800" stroke-width=".5" d="M98 27 101 26.7 107 27.3 117 30 126 34.5 134 40.6 140.8 48 146.6 57 150.9 67 153.7 78 154.8 89 154.1 101 151.7 113 148 123.3 142.8 133 136 141.9 128.3 149 120 154.1 114 156.6 108 158.2 102 158.8 98 158.1 95 154.9 93 151 91 144.9 89 135.3 86.1 113 84.7 97 84.3 81 85 66 86.9 51 90 39 94 30.5 96 28.2 97.9 27ZM97 33 95 34.9 93 38.1 89.7 47 87.1 60 85.7 75 85.5 90 86.6 108 89 127.4 91.8 141 95 149.1 97 151.6 100 152.9 107 152.4 114 150.5 121 147.2 127 143 133.3 137 139 129.5 143.6 121 147 112 149.2 102 150 92 149.5 82 147.8 73 144.6 64 140.3 56 135 48.9 128 42.3 120 37.2 112 34 102 32.2 99 32.2 97 33Z"/><path fill="#ff1800" stroke="#ff1800" stroke-width=".5" d="M97 33 99 32.2 102 32.2 112 34 120 37.2 128 42.3 135 48.9 140.3 56 144.6 64 147.8 73 149.5 82 150 92 149.2 102 147 112 143.6 121 139 129.5 133.3 137 127 143 121 147.2 114 150.5 107 152.4 100 152.9 97 151.6 95 149.1 91.8 141 89 127.4 86.6 108 85.5 90 85.7 75 87.1 60 89.7 47 93 38.1 95 34.9 97 33ZM97.8 38 96 39.4 94 42.2 91 49.6 88.7 60 87.1 73 86.7 87 87.1 100 88.6 115 91 130.5 93 138.2 95 143 97 145.8 99 147 104 147 109 146.1 114 144.4 119 141.9 126 136.9 132 130.6 137 123.2 140.9 115 143.6 106 145.1 97 145.3 87 144.1 78 141.8 70 138 61.6 133 54.3 127 48.1 120 43.1 113 39.9 105 37.9 98 37.9Z"/><path fill="#ec0000" stroke="#ec0000" stroke-width=".5" d="M98 37.9 105 37.9 113 39.9 120 43.1 127 48.1 133 54.3 138 61.6 141.8 70 144.1 78 145.3 87 145.1 97 143.6 106 140.9 115 137 123.2 132 130.6 126 136.9 119 141.9 114 144.4 109 146.1 104 147 99 147 97 145.8 95 143 93 138.2 91 130.5 88.6 115 87.1 100 86.7 87 87.1 73 88.7 60 91 49.6 94 42.2 96 39.4 97.8 38ZM97.3 44 94 48.5 91.6 55 89.5 65 88.3 77 88 89 88.6 102 90 115.6 92 127 95 136.4 97 139.6 99 140.9 104 140.9 109 139.8 114 137.9 119 135.1 125 130.2 129.5 125 133.9 118 137 110.8 139.2 103 140.4 94 140.3 86 139 78 136.5 70 133 63.2 128.5 57 123.3 52 117.5 48 111 45.1 104 43.5 98 43.6Z"/><path fill="#c80000" stroke="#c80000" stroke-width=".5" d="M98 43.6 104 43.5 111 45.1 117.5 48 123.3 52 128.5 57 133 63.2 136.5 70 139 78 140.3 86 140.4 94 139.2 103 137 110.8 133.9 118 129.5 125 125 130.2 119 135.1 114 137.9 109 139.8 104 140.9 99 140.9 97 139.6 95 136.4 92 127 90 115.6 88.6 102 88 89 88.3 77 89.5 65 91.6 55 94 48.5 97.3 44ZM98.3 50 96 52.1 94 56 92 62.7 90.5 72 89.6 90 91 110.6 94 125.7 97 132.3 99 133.9 101 134 105 133.7 110 132.2 116 129.1 121 125.2 125.5 120 129.3 114 132.2 107 134 99.8 134.8 92 134.4 84 132.9 77 130.1 70 126.4 64 122 59 117 55 111 51.9 105 50.2 99 49.7Z"/><path fill="#b50000" stroke="#b50000" stroke-width=".5" d="M99 49.7 105 50.2 111 51.9 117 55 122 59 126.4 64 130.1 70 132.9 77 134.4 84 134.8 92 134 99.8 132.2 107 129.3 114 125.5 120 121 125.2 116 129.1 110 132.2 105 133.7 101 134 99 133.9 97 132.3 94 125.7 91 110.6 89.6 90 90.5 72 92 62.7 94 56 96 52.1 98.3 50Z"/><use href="#ov"/></svg></div>
<div class="fr" style="left:258px;top:22px"></div>
<div class="lt" style="left:261px;top:27px">b)</div>
<div class="a" style="left:255.5px;top:32.0px;width:2px;height:1px;background:#888"></div>
<div class="a" style="left:464.5px;top:32.0px;width:2px;height:1px;background:#888"></div>
<div class="a" style="left:255.5px;top:134.8px;width:2px;height:1px;background:#888"></div>
<div class="a" style="left:464.5px;top:134.8px;width:2px;height:1px;background:#888"></div>
<div class="a" style="left:255.5px;top:237.6px;width:2px;height:1px;background:#888"></div>
<div class="a" style="left:464.5px;top:237.6px;width:2px;height:1px;background:#888"></div>
<div class="a" style="left:309.0px;top:248.5px;width:1px;height:2px;background:#888"></div>
<div class="tk" style="left:300.4px;top:251.5px;width:20px;text-align:center">-71°</div>
<div class="a" style="left:412.4px;top:248.5px;width:1px;height:2px;background:#888"></div>
<div class="tk" style="left:403.8px;top:251.5px;width:20px;text-align:center">-70°</div>
<div class="pn" style="left:474px;top:23px"><svg width="206" height="225" viewBox="0 0 206 225"><path fill="#0b1099" stroke="#0b1099" stroke-width=".5" d="M29 33.8 31 33.2 34 34.2 34.6 35 43 48.5 50 63 54 76.5 55 81.6 56.7 91 58.3 107 66.8 141 67.4 160 63 191 58 196.4 49 193.4 41.8 186 38.5 169 36.8 152 36.6 142 35.8 138 27.1 117 17.6 98 9 86.7 3.3 63 3.8 62 14 52.4 24.9 36 28.6 34Z"/><path fill="#0c14a2" stroke="#0c14a2" stroke-width=".5" d="M29 30.9 31 30.4 36 32.3 45.1 47 52.3 62 57 78.8 59.2 91 60.6 106 69.3 141 70.1 160 65.5 192 65.2 193 59 199.2 48 195.9 39.4 187 35.9 169 34.3 153 35.1 144 34.4 139 30.3 132 24.8 118 14.7 98 6.6 88 .4 62 11.8 51 23.2 34 28.8 31ZM28.6 34 24.9 36 14 52.4 3.8 62 3.3 63 9 86.7 17.6 98 27.1 117 35.8 138 36.6 142 36.8 152 38.5 169 41.8 186 49 193.4 58 196.4 63 191 67.4 160 66.8 141 58.3 107 56.7 91 55 81.6 54 76.5 50 63 43 48.5 34.6 35 34 34.2 31 33.2 29 33.8Z"/><path fill="#0f20b7" stroke="#0f20b7" stroke-width=".5" d="M29 28.8 31 28.4 37.4 31 47 46.5 54 61 58.3 76 61 91 62.4 106 71 140.9 72 160 67.3 193 66.9 194 59 201.6 47 197.6 37.7 188 34.1 170 32.7 155 32.6 151 34.1 144 33.6 140 28.4 132 23.3 119 13.7 100 5 89 -1.5 62 -1.7 61 10.1 50 22 32.4 28.5 29ZM28.8 31 23.2 34 11.8 51 .4 62 6.6 88 14.7 98 24.8 118 30.3 132 34.4 139 35.1 144 34.3 153 35.9 169 39.4 187 48 195.9 59 199.2 65.2 193 65.5 192 70.1 160 69.3 141 60.6 106 59.2 91 57 78.8 52.3 62 45.1 47 36 32.3 31 30.4 29 30.9Z"/><path fill="#1634d6" stroke="#1634d6" stroke-width=".5" d="M29 27 30 26.5 38 29.1 48.6 46 55.6 61 60 77.2 62.2 90 63.9 106 72.2 140 73.6 160 68.8 194 60 203.1 59 203.3 46 198.9 36.2 189 32.6 170 31.1 155 31.3 151 33.4 144 32.8 140 26.8 132 21.7 119 12.6 101 3.2 89 -2 67.1 -2 59 9 48.8 21 31 28.9 27ZM28.5 29 22 32.4 10.1 50 -1.7 61 -1.5 62 5 89 13.7 100 23.3 119 28.4 132 33.6 140 34.1 144 32.6 151 32.7 155 34.1 170 37.7 188 47 197.6 59 201.6 66.9 194 67.3 193 72 160 71 140.9 62.4 106 61 91 58.3 76 54 61 47 46.5 37.4 31 31 28.4 29 28.8Z"/><path fill="#224ce5" stroke="#224ce5" stroke-width=".5" d="M30 24.8 39.2 28 49.7 45 56.7 60 61.1 76 63.5 90 65.2 106 73.4 140 75 160 70.2 195 60 205.2 45 200.2 35 190 31.2 170 29.8 155 30.1 151 32.7 145 32.5 141 31 138.2 25.9 133 20.7 120 12 102.7 10 99.6 1.9 90 -2 73.7 -2 67.1 3.2 89 12.6 101 21.7 119 26.8 132 32.8 140 33.4 144 31.3 151 31.1 155 32.6 170 36.2 189 46 198.9 59 203.3 60 203.1 68.8 194 73.6 160 72.4 141 63.9 106 62.2 90 59.5 75 55.6 61 48.6 46 38 29.1 30 26.5 21 31 9 48.8 -2 59 -2 57 8 47.7 19.8 30 29.6 25Z"/><path fill="#2f65eb" stroke="#2f65eb" stroke-width=".5" d="M29 23.6 31 23.5 40.3 27 50.9 44 57.8 59 62.1 75 64.6 90 66.1 105 69.5 121 74.5 140 76 151 76.5 160 71.7 195 71 196.4 61 206.3 59 206.5 44 201.3 33.9 191 29.8 170 28.5 155 28.9 151 32.1 145 32 141 30.1 138 26 135 24.5 133 19.3 120 11.3 104 9 100.5 .8 91 -2 80.3 -2 73.7 1.9 90 10 99.6 12 102.7 20.7 120 25.9 133 31 138.2 32.5 141 32.7 145 30.1 151 29.8 155 31.2 170 35 190 45 200.2 60 205.2 70.2 195 75 160 73.4 140 68.7 122 65 105 63.5 90 60.9 75 56.7 60 49.7 45 39.2 28 30 24.8 19.8 30 8 47.7 -2 57 -2 54.9 6.6 47 18.6 29 28.2 24Z"/><path fill="#3c7ee8" stroke="#3c7ee8" stroke-width=".5" d="M29 21.8 33 22.5 40 24.8 41.7 26 52.1 43 59.3 59 63.3 75 65.7 90 67.2 105 70.5 121 75.5 140 77.3 151 78 160 73.2 196 68.7 201 61 208.2 59 208.2 43 202.7 32.2 191 28.5 170 27.1 154 27.8 151 31.6 145 31.5 141 30 138.6 23.6 134 18.5 121 10.5 105 8 101.4 -.5 92 -2 87.4 -2 80.3 .8 91 9 100.5 11.3 104 19.3 120 24.5 133 26 135 30.1 138 32 141 32.1 145 28.9 151 28.5 155 29.8 170 33.9 191 44 201.3 60 206.7 61.4 206 71.3 196 76.5 160 75.6 148 74.5 140 69.5 121 66.1 105 64.6 90 62.1 75 58 59.5 51 44.3 40.3 27 30 23.3 18.6 29 6.6 47 -2 54.9 -2 52.7 5.2 46 17.3 28 28.5 22Z"/><path fill="#5799e4" stroke="#5799e4" stroke-width=".5" d="M29 19.7 31 19.7 40 22.7 43 24.4 53.8 42 59.8 56 64.3 74 66.7 90 68.3 105 71.5 121 76.5 140 78.7 151 79.7 162 75.3 196 73.6 199 64 208.6 62 210 59 210.3 42 204.4 35 197.3 31 192.3 27.1 171 25.7 154 26.4 151 30 147.2 31 145.3 31.4 143 31 141 29 138.4 22.8 135 17 121 9.5 106 6.6 102 -2 93.1 -2 87.4 -.5 92 10 104.2 18.5 121 23.6 134 30 138.6 31.5 141 31.6 145 27.8 151 27.1 154 28.6 171 32 190 32.8 192 43 202.7 60 208.4 62.7 207 73.2 196 78 161 77.2 150 75.5 140 70.5 121 67.2 105 65.7 90 63.1 74 59.3 59 52.7 44 41 25.3 30 21.6 18 27.3 5.2 46 -2 52.7 -2 49.9 4 44.3 16 26.4 28 20Z"/><path fill="#77b2e5" stroke="#77b2e5" stroke-width=".5" d="M28 16.9 30 16.7 33 17.2 42 20.3 44.7 22 54.5 38 58.5 47 62.3 58 65.5 74 69.3 104 72.4 121 81.5 157 82.1 161 81.7 169 77.8 198 76.6 200 73 203.7 65.7 211 63 212.8 60 213.3 58 213.1 41 207.2 35 201.2 29.6 194 28.7 191 25.5 171 24.1 154 24.8 151 30.2 146 30.9 144 30.6 141 28 138.3 23 136.7 21 135.1 15.9 122 8.4 107 5.3 103 -2 96.3 -2 93.1 8 103.8 17 121 22.1 134 24 136 29 138.4 31 141 31.4 143 31 145.3 30 147.2 26.4 151 25.7 154 27.1 171 30.5 191 31.4 193 42 204.4 60 210.4 63.6 209 73.6 199 75 197 79.6 164 79.8 160 79.2 154 76.5 140 71.5 121 68.3 105 66.6 89 63.4 70 60.5 58 54 42.4 42.6 24 41 23 32 20 29 19.7 16.4 26 4 44.3 -2 49.9 -2 45.9 2 42 14 24.3 16 22.7 27.8 17Z"/><path fill="#9ccbea" stroke="#9ccbea" stroke-width=".5" d="M27 10.8 31 10.5 34 11.1 44 14.4 48 16.9 50 19 52.3 23 58 35.7 60.3 43 64 58 66.7 74 70.3 104 73.3 121 78.8 142 84 158 85.4 164 86.4 171 86.5 178 84.5 196 83.6 200 81 204.4 70 215.5 67 217.7 64 218.9 61 219.5 57 219.2 40 213.3 36 210.1 32 203.9 27.8 196 26.6 192 23.6 171 22.2 154 23 150.6 28 147.8 29.7 146 30.5 144 30.5 142 29.5 140 28 138.8 26 138.1 21 137.5 19.3 136 14.3 123 7 108.4 3.4 104 -2 99.7 -2 96.3 5.3 103 8 106.4 15.9 122 21 135.1 23 136.7 28 138.3 30.6 141 31 143 30.7 145 29 147.6 24.8 151 24.2 155 25.5 171 28.9 192 30 194.6 33 198.7 41 207.2 57 212.8 60 213.3 63 212.8 65.7 211 76 200.7 77.8 198 81.4 172 82 160 80.2 151 72.2 120 69.3 104 65.5 74 62.3 58 55.6 40 44.7 22 42 20.3 37 18.6 32 16.9 29 16.7 26 17.7 14.3 24 2 42 -2 45.9 -2 36.9 8.6 21 13 17.3 26.3 11Z"/><path fill="#c5e1f2" stroke="#c5e1f2" stroke-width=".5" d="M-1 -2 58.9 -2 61.7 30 67.8 73 71.4 104 74 120 79.5 141 86.4 158 92 169.6 103.8 188 119 207 128.3 227 32.2 227 28.5 209 23.9 193 20.9 171 19.5 153 20.3 149 25 148.3 28 147.1 29.8 145 30.1 142 28.9 140 26 138.6 24 138.5 19 139.7 17.8 139 16.6 137 11.8 124 5.4 111 1.4 106 -2 103.4 -2 99.7 3.4 104 7 108.4 14.3 123 19.3 136 21 137.5 26 138.1 28 138.8 29.5 140 30.5 142 30.2 145 29 146.9 23.6 150 22.3 152 23.6 171 27.4 195 33 205.6 36 210.1 38 212.1 43 214.5 58 219.4 62 219.4 65 218.6 70 215.5 81 204.4 83.6 200 86.4 179 86.1 168 84.6 160 78.8 142 73.1 120 70.3 104 66.7 74 63.6 56 59 38.4 52.3 23 49.2 18 45 14.9 33 10.8 29 10.5 26 11.1 13 17.3 10 19.5 -2 36.9 -2 -2Z"/><path fill="#e6f3fa" stroke="#e6f3fa" stroke-width=".5" d="M59 -2 65 -2 65.2 30 67.7 61 72.4 104 74.9 120 80.5 141 87.4 156 93.3 166 106.4 183 124.6 204 135.8 227 128.3 227 119 207 103.8 188 92 169.6 86.4 158 79.5 141 74 120 71.4 104 67.8 73 61.7 30 58.9 -2ZM-1.1 104 2 106.6 5.4 111 11.8 124 16.6 137 17.8 139 19 139.7 24 138.5 26 138.6 28.9 140 30.1 142 30.1 144 29 146.2 26 148.1 20.3 149 19.5 152 20.9 171 23.9 193 28.5 209 32.2 227 25.7 227 23.3 210 18.8 193 15.7 172 12.8 143 7 127.6 3 121.9 1 121.6 0 122.8 -1 126 -2 133.9 -2 103.4ZM22.2 140 20.3 142 20.4 145 23 147.2 25 147.6 27 147.1 28.6 146 29.7 144 29.2 141 27 139.3 25 139.1 23 139.6Z"/><path fill="#fefee2" stroke="#fefee2" stroke-width=".5" d="M65 -2 69 -2 67.8 30 69.2 62 73.4 103 75.8 120 81.1 140 87 152.2 93.5 163 109.8 183 127 202 140 227 135.8 227 124.6 204 106.4 183 93 165.6 86.4 154 80.5 141 74.9 120 72.4 104 67.7 61 65.2 30 65 -2ZM170 -2 208 -2 208 2.2 192 0 169.2 -2ZM1 121.6 3 121.9 6.2 126 13.1 144 15.7 172 18.8 193 23.3 210 25.7 227 -2 227 -2 133.9 -1 126 .6 122ZM23 139.6 25 139.1 27 139.3 29.2 141 29.7 144 28.6 146 27 147.1 25 147.6 23 147.2 20.4 145 20.3 142 22.2 140ZM23.7 140 21.7 142 22 145 24 146.7 27 146.6 29 144.7 29.2 142 27 139.8 24 139.9ZM208 217.5 208 227 168 227 190.3 225 207 222.8 207.7 222 208 218Z"/><path fill="#fdfd83" stroke="#fdfd83" stroke-width=".5" d="M69 -2 169.2 -2 192 0 208 2.2 207.7 222 207 222.8 198.7 224 168 227 140 227 127 202 109.8 183 93.5 163 87.4 153 81.5 141 75.8 120 73.4 103 69.3 63 67.8 30 69 -2ZM84.7 -1 76.1 1 73.7 2 73.2 3 71.1 19 70.2 34 70.5 60 74.4 103 76.8 120 82 139.7 87.7 151 94 161.2 111.7 182 129.9 201 144 223.9 147 223.5 155.7 222 164 219.6 169.3 217 173.9 213 178.1 207 183.7 196 189.4 182 193.7 169 197.1 156 199.8 141 201.8 125 203 108 203.7 86 203.6 69 202.3 55 200 43.8 195.1 31 187.7 19 180 11 175.4 8 171 6 164.6 4 156 2.2 136 -.2 104 -1.7 93 -1.7 85 -1ZM24 139.9 27 139.8 29.2 142 29 144.7 27 146.6 24 146.7 22 145 21.7 142 23.7 140ZM23.4 141 22.4 143 23.1 145 25 146.2 27 146 28 145.3 29 143 28.1 141 26 140.1 24 140.6Z"/><path fill="#ffff30" stroke="#ffff30" stroke-width=".5" d="M85 -1 93 -1.7 104 -1.7 136 -.2 156 2.2 164.6 4 171 6 175.4 8 180 11 187.7 19 195.1 31 200 43.8 202.3 55 203.6 69 203.7 86 203 108 201.8 125 199.8 141 197.1 156 193.7 169 189.4 182 183.7 196 178.1 207 173.9 213 169.3 217 164 219.6 155.7 222 147 223.5 144 223.9 129.9 201 111.7 182 94 161.2 87.7 151 82 139.7 76.8 120 74.4 103 70.5 60 70.2 34 71.1 19 73.2 3 73.7 2 76.1 1 84.7 -1ZM92.8 2 85 3.6 79 7.1 75.6 16 73.2 29 72.1 46 72.3 65 74.1 90 77.8 120 83.2 140 89 150.9 95 160.2 109 176.1 121 188.2 133.5 199 138 203.6 141 205.3 143 205.6 146 204.6 150 201 155.2 194 160.7 185 169.8 166 177.2 144 182.2 121 185.1 97 185.8 74 185.1 67 183.6 59 178.8 45 171.3 32 162 21 156.4 16 151 12.2 145 9 140 7.1 128 4.2 111 2.4 93 2ZM24 140.6 26 140.1 28.1 141 29 143 28 145.3 27 146 25 146.2 23.1 145 22.4 143 23.4 141ZM24.5 141 23.5 142 23.4 144 25 145.5 27 145.4 28.3 144 28.2 142 27 140.8 25 140.8Z"/><path fill="#ffff00" stroke="#ffff00" stroke-width=".5" d="M93 2 111 2.4 128 4.2 140 7.1 145 9 151 12.2 156.4 16 162 21 171.3 32 178.8 45 183.6 59 185.1 67 185.8 74 185.1 97 182.2 121 177.2 144 169.8 166 160.7 185 155.2 194 150 201 146 204.6 143 205.6 141 205.3 138 203.6 133.5 199 121 188.2 109 176.1 95 160.2 89 150.9 83.2 140 77.8 120 74.1 90 72.3 65 72.1 46 73.2 29 75.6 16 79 7.1 85 3.6 92.8 2ZM93.1 8 89.6 9 86.1 11 84 12.9 81.8 16 77.4 26 74.8 39 73.6 55 73.9 70 75.6 94 78.8 120 84 139.5 90 150.3 96 159.2 109 173.3 119 182.4 127 187.7 130 188.8 133 189.1 136.1 188 140 184.8 144.6 179 149 172.3 157.3 156 163.8 138 168.4 119 171.4 98 172.3 76 170.7 63 166.8 51 160.8 40 152.7 30 143 21.7 132 15.2 121 11.1 108 8.5 94 7.9ZM25 140.8 27 140.8 28.2 142 28.3 144 27 145.4 25 145.5 23.4 144 23.5 142 24.5 141ZM24.5 142 24.3 144 25.9 145 27 144.7 28 143 27.5 142 26 141.2 25 141.5Z"/><path fill="#ffd200" stroke="#ffd200" stroke-width=".5" d="M94 7.9 108 8.5 121 11.1 132 15.2 143 21.7 152.7 30 160.8 40 166.8 51 170.7 63 172.3 76 171.4 98 168.4 119 163.8 138 157.3 156 149 172.3 144.6 179 140 184.8 136.1 188 133 189.1 130 188.8 127 187.7 119 182.4 109 173.3 96 159.2 90 150.3 84 139.5 78.8 120 75.6 94 73.9 70 73.6 55 74.8 39 77.4 26 81.8 16 84 12.9 86.1 11 89.6 9 93.1 8ZM92.7 16 90 17.1 87 19.3 82 26.2 78.5 35 76.1 47 75.1 60 75.4 75 77 96.5 79.7 119 84.9 139 91 149.7 97 158 107 168.3 115 174.8 121 177.9 124 178.3 126 177.9 129 176.4 132.8 173 141.1 162 148.5 148 154.6 132 158.7 116 161.5 98 162.5 77 161.4 66 158 55 152.6 45 145.3 36 137 28.8 127 22.8 116 18.5 104 16.1 93 15.9ZM25 141.5 26 141.2 27.5 142 28 143 27 144.7 25.9 145 24.3 144 24.5 142ZM25.1 143 26 144.1 27 143.4 27 142.7 26 142.1Z"/><path fill="#ffa800" stroke="#ffa800" stroke-width=".5" d="M93 15.9 104 16.1 116 18.5 127 22.8 137 28.8 145.3 36 152.6 45 158 55 161.4 66 162.5 77 161.5 98 158.7 116 154.6 132 148.5 148 141.1 162 132.8 173 129 176.4 126 177.9 124 178.3 121 177.9 115 174.8 107 168.3 97 158 91 149.7 84.9 139 79.7 119 77 96.5 75.4 75 75.1 60 76.1 47 78.5 35 82 26.2 87 19.3 90 17.1 92.7 16ZM93.1 23 88 26 85.4 29 83 33 79.6 42 77.5 53 76.7 64 76.9 78 78.2 97 80.8 119 85.8 138 90 145.7 95 152.9 101 159.6 109 166.2 114 168.7 119 169 122 167.8 125.7 165 133.3 156 140.4 144 146.3 130 150.6 115 153.4 99 154.8 81 154.1 69 151.3 59 146.8 50 140.7 42 133 35 124 29.4 115 25.7 104 23.2 94 22.8ZM26 142.1 27 142.7 27 143.4 26 144.1 25.1 143Z"/><path fill="#ff7800" stroke="#ff7800" stroke-width=".5" d="M94 22.8 104 23.2 115 25.7 124 29.4 133 35 140.7 42 146.8 50 151.3 59 154.1 69 154.8 81 153.4 99 150.6 115 146.3 130 140.4 144 133.3 156 125.7 165 122 167.8 119 169 114 168.7 109 166.2 101 159.6 95 152.9 90 145.7 85.8 138 80.8 119 78.2 97 76.9 78 76.7 64 77.5 53 79.6 42 83 33 85.4 29 88 26 93.1 23ZM93.4 29 91 30 88.5 32 84.3 38 81 46.5 78.9 57 78.1 68 78.4 82 79.8 100 81.9 118 87 137.5 93 147.5 99 154.4 104 158.4 109 160.8 114 160.9 117 159.7 120.6 157 127.9 149 134.2 139 139.7 127 143.8 114 146.7 99 148.1 83 147.8 71 145.5 62 141.7 54 136.7 47 130 40.6 122 35.3 113 31.5 103 29.2 94 28.8Z"/><path fill="#ff4800" stroke="#ff4800" stroke-width=".5" d="M94 28.8 103 29.2 113 31.5 122 35.3 130 40.6 136.7 47 141.7 54 145.5 62 147.8 71 148.1 83 146.7 99 143.8 114 139.7 127 134.2 139 127.9 149 120.6 157 117 159.7 114 160.9 109 160.8 104 158.4 99 154.4 93 147.5 87 137.5 81.9 118 79.8 100 78.4 82 78.1 68 78.9 57 81 46.5 84.3 38 88.5 32 91 30 93.4 29ZM92 35 88 38.4 84.2 45 81.7 53 80.2 62 79.6 73 80.1 87 83.3 118 88.5 137 94 145.5 99 150.3 104 153.1 108 153.6 112 152.4 118.1 148 125 140.1 130.6 131 135.3 120 138.9 108 141.3 95 142.3 81 141.9 71 139.7 63 136.3 56 131 49.1 125 43.8 117.2 39 109 35.9 100 34.3 95 34.1 93 34.6Z"/><path fill="#ff1800" stroke="#ff1800" stroke-width=".5" d="M93 34.6 95 34.1 100 34.3 109 35.9 117.2 39 125 43.8 131 49.1 136.3 56 139.7 63 141.9 71 142.3 81 141.3 95 138.9 108 135.3 120 130.6 131 125 140.1 118.1 148 112 152.4 108 153.6 104 153.1 99 150.3 94 145.5 88.5 137 83.3 118 80.1 87 79.6 73 80.2 62 81.7 53 84.2 45 88 38.4 92 35ZM92.4 40 88.9 43 85.4 49 83 56.7 81.6 66 81.2 75 81.7 89 84.9 118 90 135.5 94 141.3 98 144.3 102 145.8 105 145.8 109 144.5 115 140.2 121 133.5 126 125.6 130.3 116 133.7 105 135.8 94 136.8 81 136.5 72 134.7 65 131.2 58 126.4 52 121 47.3 114 43.2 107 40.7 99 39.3 95 39.2 93 39.7Z"/><path fill="#ec0000" stroke="#ec0000" stroke-width=".5" d="M93 39.7 95 39.2 99 39.3 107 40.7 114 43.2 121 47.3 126.4 52 131.2 58 134.7 65 136.5 72 136.8 81 135.8 94 133.7 105 130.3 116 126 125.6 121 133.5 115 140.2 109 144.5 105 145.8 102 145.8 98 144.3 94 141.3 90 135.5 84.9 118 81.7 89 81.2 75 81.6 66 83 56.7 85.4 49 88.9 43 92.4 40ZM92.7 45 89.4 48 86.7 53 84.5 60 83.3 68 82.9 76 83.4 89 86 113.1 87 118.4 90 128.3 92 132.8 94 135.6 97 137.2 101 137.7 104 137.1 108 135.3 113 131.4 118 125.6 122.1 119 126 110.1 128.7 101 130.5 91 131.4 80 130.9 72 129.2 66 126.1 60 122 55 117.2 51 111 47.5 105 45.4 97 44.3 93 44.8Z"/><path fill="#c80000" stroke="#c80000" stroke-width=".5" d="M93 44.8 97 44.3 105 45.4 111 47.5 117.2 51 122 55 126.1 60 129.2 66 130.9 72 131.4 80 130.5 91 128.7 101 126 110.1 122.1 119 118 125.6 113 131.4 108 135.3 104 137.1 101 137.7 97 137.2 94 135.6 92 132.8 90 128.3 87 118.4 86 113.1 83.4 89 82.9 76 83.3 68 84.5 60 86.7 53 89.4 48 92.7 45ZM93.9 50 91 52.1 89 55.1 87 60.1 85.5 67 84.9 74 85 82.1 86.7 103 89.4 117 93 125.6 95 127.6 97 128.1 100 128.1 104 126.8 109 123.5 113 119.4 117 113.4 120.1 107 122.8 99 124.4 91 125.4 82 125.3 74 124.1 69 121.7 64 118.8 60 114.5 56 110 53.2 104.6 51 99 49.9 94 50Z"/><path fill="#b50000" stroke="#b50000" stroke-width=".5" d="M94 50 99 49.9 104.6 51 110 53.2 114.5 56 118.8 60 121.7 64 124.1 69 125.3 74 125.4 82 124.4 91 122.8 99 120.1 107 117 113.4 113 119.4 109 123.5 104 126.8 100 128.1 97 128.1 95 127.6 93 125.6 89.4 117 86.7 103 85 82.1 84.9 74 85.5 67 87 60.1 89 55.1 91 52.1 93.9 50Z"/><use href="#ov"/></svg></div>
<div class="fr" style="left:474px;top:22px"></div>
<div class="lt" style="left:477px;top:27px">c)</div>
<div class="a" style="left:471.5px;top:32.0px;width:2px;height:1px;background:#888"></div>
<div class="a" style="left:680.5px;top:32.0px;width:2px;height:1px;background:#888"></div>
<div class="a" style="left:471.5px;top:134.8px;width:2px;height:1px;background:#888"></div>
<div class="a" style="left:680.5px;top:134.8px;width:2px;height:1px;background:#888"></div>
<div class="a" style="left:471.5px;top:237.6px;width:2px;height:1px;background:#888"></div>
<div class="a" style="left:680.5px;top:237.6px;width:2px;height:1px;background:#888"></div>
<div class="a" style="left:525.0px;top:248.5px;width:1px;height:2px;background:#888"></div>
<div class="tk" style="left:516.4px;top:251.5px;width:20px;text-align:center">-71°</div>
<div class="a" style="left:628.4px;top:248.5px;width:1px;height:2px;background:#888"></div>
<div class="tk" style="left:619.8px;top:251.5px;width:20px;text-align:center">-70°</div>
<div class="pn" style="left:43px;top:270px"><svg width="206" height="225" viewBox="0 0 206 225"><path fill="#0b1099" stroke="#0b1099" stroke-width=".5" d="M67 31 75 30.9 82 32.8 87 36.1 89 38.5 90.2 41 90.5 46 88.2 51 83.5 55 77 57.5 71 57.7 65.7 56 61 52.4 57.7 47 56.7 41 58 36.3 61.4 33 66.8 31ZM79 131.8 82 131.2 86.1 132 89.1 134 91.7 138 92.1 142 91.1 145 89 147.8 86 149.8 82 150.6 79 150 76 148 74.2 145 73.5 141 74 137.5 76 134 78.6 132ZM104 207.7 108 207.6 111 208.8 113.5 211 115.1 214 115.7 218 115 221.3 113 224.8 110.4 227 102.4 227 100.3 225 98.7 222 97.8 218 98.3 214 100 210.6 103.3 208Z"/><path fill="#0c14a2" stroke="#0c14a2" stroke-width=".5" d="M66 29.9 74 29.5 82 31.3 88.1 35 90 37 91.8 40 92.5 45 91.8 48 90.2 51 86 55.2 79 58.4 73 59.1 67 57.9 61.1 54 57.5 49 55.7 43 55.6 40 56.3 37 59.2 33 62 31.3 65.7 30ZM66.8 31 61.4 33 58 36.3 56.7 41 57.7 47 61 52.4 65.7 56 71 57.7 77 57.5 83.5 55 88.2 51 90.5 46 90.2 41 89 38.5 87 36.1 82 32.8 75 30.9 67 31ZM79 130.6 83 130 87 131.1 90 133.2 92.7 137 93.4 141 92.5 145 90.5 148 87 150.6 83 151.7 79 151.1 75.7 149 73.6 146 72.6 142 73 137.5 75 133.6 78.1 131ZM78.6 132 76 134 74 137.5 73.5 141 74.2 145 76 148 79 150 82 150.6 86 149.8 89 147.8 91.1 145 92.1 142 91.7 138 89.1 134 86.1 132 82 131.2 79 131.8ZM103 206.7 106 206 110 206.8 113.5 209 115.8 212 117 216 116.8 220 115.3 224 112.9 227 110.4 227 113 224.8 114.7 222 115.7 218 115.4 215 114.2 212 112.6 210 108 207.6 105 207.5 103 208.1 101 209.5 99.1 212 97.9 216 98.1 220 99.6 224 102.4 227 100.2 227 98.2 224 96.7 219 97.1 214 99 209.8 102.3 207Z"/><path fill="#0f20b7" stroke="#0f20b7" stroke-width=".5" d="M65 29 73 28.2 82 30 89 33.8 91.2 36 93.2 39 94.1 42 94.2 45 93.6 48 92 51.3 89.8 54 87 56.3 80 59.5 73 60.3 67 59 61 55.2 56.9 50 54.7 43 54.7 39 55.5 36 57 33.5 59 31.6 64.9 29ZM65.7 30 62 31.3 59.2 33 56.3 37 55.6 40 55.7 43 57.5 49 61.1 54 67 57.9 73 59.1 79 58.4 86 55.2 90.2 51 91.8 48 92.5 45 91.8 40 90 37 88.1 35 82 31.3 74 29.5 66 29.9ZM82 128.9 86 129.5 90.4 132 93.5 136 94.6 140 93.8 145 91.1 149 87 151.8 83 152.7 79 152.1 75 149.5 73 146.9 71.7 142 72 137.8 74 133.4 77 130.5 81.1 129ZM78.1 131 75 133.6 73 137.5 72.6 142 73.6 146 75.7 149 79 151.1 83 151.7 87 150.6 90.5 148 92.5 145 93.4 141 92.7 137 90 133.2 87 131.1 83 130 79 130.6ZM105 204.9 109 205.2 112 206.4 115 208.7 117.1 212 118.2 216 118 220 116.7 224 114.8 227 112.9 227 115.3 224 116.8 220 117 216 116.2 213 114.4 210 112.3 208 110 206.8 107 206.1 104 206.3 102 207.1 99.7 209 98 211.5 96.7 216 96.9 220 98 223.6 100.2 227 98.6 227 97.4 225 95.7 219 96.2 213 99 208 101.6 206 104.2 205Z"/><path fill="#1634d6" stroke="#1634d6" stroke-width=".5" d="M65 27.8 74 27.1 83.1 29 90.3 33 93.3 36 95 39 95.8 42 95.7 46 94.9 49 93 52.6 88 57.4 84 59.6 80 60.9 73 61.5 66 59.7 60 55.5 55.9 50 53.8 43 53.7 39 54.4 36 55.9 33 57.9 31 64.4 28ZM64.9 29 59 31.6 57 33.5 55.5 36 54.7 39 54.7 43 56.9 50 61 55.2 67 59 73 60.3 80 59.5 87 56.3 89.8 54 92 51.3 93.6 48 94.2 45 94.1 42 93.2 39 91.2 36 89 33.8 82 30 73 28.2 65 29ZM81 128 86 128.3 90 130.2 93.7 134 95.6 139 95.3 144 93.4 148 90 151.3 85 153.5 80 153.4 76 151.4 72.7 148 71 143 71.1 138 73 133.3 76 130 80.8 128ZM81.1 129 77 130.5 74 133.4 72 137.8 71.7 142 73 146.9 75 149.5 79 152.1 83 152.7 87 151.8 91.1 149 93.8 145 94.6 140 93.5 136 90.4 132 86 129.5 82 128.9ZM104 203.8 108 203.8 112 205 115 207.1 117.9 211 119.2 215 119.4 219 118.5 223 116.5 227 114.8 227 116.7 224 118 220 118.2 216 117.1 212 115.2 209 113 207 110 205.5 106 204.8 103 205.3 100.1 207 98 209.3 96.6 212 95.7 216 95.8 220 96.9 224 98.6 227 97 226.7 94.8 220 94.7 216 95.2 213 96.4 210 98.5 207 101 205 103.4 204Z"/><path fill="#224ce5" stroke="#224ce5" stroke-width=".5" d="M150 12.6 153 12.3 155.3 14 156 17.3 155.4 19 154 20.5 151 21.1 148.5 19 147.9 16 149.4 13ZM70 26 79 26.6 84 28 88 29.8 91.4 32 94.5 35 96.4 38 97.3 41 97.5 44 96.8 48 95.2 52 93 55.1 90 57.8 86 60.2 82 61.7 77 62.7 73 62.7 69 61.9 65 60.2 61.6 58 58.3 55 56 52 54.1 48 53 44 53.1 37 54.1 34 56 31.2 58.9 29 62 27.6 69.8 26ZM64.4 28 57.9 31 55.9 33 54.4 36 53.7 39 53.8 43 55.9 50 60 55.5 66 59.7 73 61.5 80 60.9 84 59.6 88 57.4 93 52.6 94.9 49 95.7 46 95.8 42 95 39 93.3 36 90.3 33 83.1 29 74 27.1 65 27.8ZM81 126.9 86 127.2 91 129.6 95.1 134 96.8 139 96.5 144 94.1 149 90 152.6 85 154.5 80 154.3 75.5 152 71.9 148 70.2 143 70.4 138 72.3 133 76 128.9 80.6 127ZM80.8 128 76 130 73 133.3 71.1 138 71 143 72.7 148 76 151.4 80 153.4 85 153.5 90 151.3 93.4 148 95.3 144 95.6 139 93.7 134 90 130.2 86 128.3 81 128ZM103 202.9 107 202.5 111 203.4 115 205.6 118.1 209 119.9 213 120.5 218 119.7 223 118 227 116.5 227 118.5 223 119.4 219 119.2 215 117.9 211 115.9 208 113 205.6 110 204.2 106 203.6 103 204.1 100 205.7 97.7 208 95.9 211 94.6 217 95.2 222 97.2 227 95.9 227 94.4 223 93.7 219 94.5 212 95.8 209 98 206 102.8 203Z"/><path fill="#2f65eb" stroke="#2f65eb" stroke-width=".5" d="M152 9 155 9.8 156.7 11 158.2 13 159 16 158.7 19 157.8 21 155.9 23 153 24.2 150 23.9 148 22.7 146.1 20 145.4 17 145.8 14 147 11.6 149 9.8 151.9 9ZM149.4 13 147.9 16 148.5 19 151 21.1 154 20.5 155.4 19 156 17.3 155.3 14 153 12.3 150 12.6ZM69 24.9 79 25.3 88 28.2 92 30.6 95 33.2 97.2 36 98.8 40 99.1 44 98.4 48 96.9 52 94.2 56 91 59 87 61.3 82.6 63 78 63.9 70 63.3 66 61.8 62 59.4 56 53.5 52.6 46 51.9 42 52 38 53 34 54.8 31 57 28.9 60 27.2 68.4 25ZM69.8 26 62 27.6 58.9 29 56 31.2 54.1 34 53.1 37 53 44 54.1 48 56 52 58.3 55 61.6 58 65 60.2 69 61.9 73 62.7 77 62.7 82 61.7 86 60.2 90 57.8 93 55.1 95.2 52 96.8 48 97.5 44 97.3 41 96.4 38 94.5 35 91.4 32 88 29.8 84 28 79 26.6 70 26ZM81 125.8 84 125.7 87 126.3 92 128.9 95.8 133 97.8 138 97.7 144 95.4 149 91.3 153 86 155.3 81 155.5 76 153.3 71.7 149 69.7 144 69.6 138 71.4 133 75 128.6 80.3 126ZM80.6 127 76 128.9 72.3 133 70.4 138 70.2 143 71.9 148 75.5 152 80 154.3 85 154.5 90 152.6 94.1 149 96.5 144 96.8 139 95.1 134 91 129.6 86 127.2 81 126.9ZM103 201.8 107 201.4 112 202.5 116 205 119 208.4 121 213 121.6 217 121.2 222 119.4 227 118 227 120 222 120.5 217 119.9 213 118.7 210 116 206.5 113 204.3 110 203 106 202.5 103 202.9 100 204.4 97.1 207 95.3 210 94.2 213 93.7 217 94.2 222 95.9 227 94.7 227 92.8 219 93.5 212 95 208.4 97 205.6 100 203.1 102.4 202Z"/><path fill="#3c7ee8" stroke="#3c7ee8" stroke-width=".5" d="M150 6.7 154 6.6 157 7.9 160 11 161.3 14 161.5 18 160.2 22 158 24.7 155 26.5 152 27 148.7 26 146 23.7 144 20 143.5 16 144.4 12 146.4 9 149.3 7ZM151.9 9 149 9.8 147 11.6 145.8 14 145.4 17 146.1 20 148 22.7 150 23.9 153 24.2 155.9 23 157.8 21 158.7 19 159 16 158.2 13 156.7 11 155 9.8 152 9ZM68 23.9 78 23.9 83 24.9 88 26.7 92.3 29 96 31.9 98.6 35 100 38 100.6 42 100.1 47 98.5 52 96.2 56 93 59.4 89.1 62 85 63.8 80 65 76 65.2 71 64.6 67 63.3 63 61.1 59 58 56 54.9 53.6 51 52 47 51.1 42 51.1 38 52 34 53.4 31 55.1 29 58 26.9 62 25.2 67.3 24ZM68.4 25 60 27.2 57 28.9 54.8 31 53 34 52 38 51.9 42 52.6 46 56 53.5 62 59.4 66 61.8 70 63.3 78 63.9 82.6 63 87 61.3 91 59 94.2 56 96.9 52 98.4 48 99.1 44 98.8 40 97.2 36 95 33.2 92 30.6 88 28.2 79 25.3 69 24.9ZM89 96.6 91 96.1 93 97 94 100 93 102 91 103 88.6 102 87.9 101 87.6 99 88.6 97ZM80 125 83 124.5 86 124.7 91 126.7 96 131.2 98.8 137 99 143 97 148.7 93.2 153 88 155.9 82 156.6 77 154.8 72 150.5 70.3 148 69.2 145 68.8 139 70.6 133 74.4 128 79.9 125ZM80.3 126 75 128.6 71.4 133 69.6 138 69.7 144 71.7 149 76 153.3 81 155.5 86 155.3 91.3 153 95.4 149 97.7 144 97.8 138 95.8 133 92 128.9 87 126.3 84 125.7 81 125.8ZM102 200.9 107 200.2 112 201.3 116 203.5 119.4 207 121.8 212 122.7 217 122.3 222 120.8 227 119.4 227 121.4 221 121.6 216 120.7 212 119.4 209 117 205.9 114 203.6 110 201.9 106 201.4 102 202.1 99 203.8 96.6 206 94.7 209 93.5 212 92.8 216 93 221 94.7 227 93.5 227 91.8 219 91.9 215 92.8 211 96.1 205 99 202.4 101.8 201Z"/><path fill="#5799e4" stroke="#5799e4" stroke-width=".5" d="M151 4 156 4.5 160 7 162.9 11 164.1 15 163.8 20 162.1 24 159 27.5 155 29.5 151 29.6 147 27.6 143.9 24 142 19 142 14 143.9 9 147 5.6 150.8 4ZM149.3 7 146.4 9 144.4 12 143.5 16 144 20 146 23.7 148.7 26 152 27 155 26.5 158 24.7 160.2 22 161.5 18 161.3 14 160 11 157 7.9 154 6.6 150 6.7ZM67 22.9 72 22.4 78 22.6 83 23.5 88 25.1 93 27.6 97 30.5 100 33.9 101.5 37 102.2 41 101.7 46 100 52 97.5 57 94.8 60 91 62.8 87 64.7 82 66.2 78 66.6 73 66.2 68 64.8 64 62.8 60 60 56 56.1 53.8 53 51.8 49 50.7 45 50.2 40 50.7 35 52.2 31 54 28.5 57 26.1 61 24.4 66.3 23ZM67.3 24 62 25.2 58 26.9 55.1 29 53.4 31 52 34 51.1 38 51.1 42 52 47 53.6 51 56 54.9 59 58 63 61.1 67 63.3 71 64.6 76 65.2 80 65 85 63.8 89.1 62 93 59.4 96.2 56 98.5 52 100.1 47 100.6 42 100 38 98.6 35 96 31.9 92.3 29 88 26.7 83 24.9 78 23.9 68 23.9ZM154 91.9 157 93.4 158.1 95 158.6 97 158.4 99 157.5 101 156 102.5 154 103.2 152 103 150.6 102 149.4 100 149.1 98 150.4 94 152 92.5 153.5 92ZM88 92.9 90 92.3 93 92.6 95.3 94 97 96.4 97.6 99 97.2 102 96 104.2 94 105.9 91 106.8 89 106.5 87 105.4 85.2 103 84.4 100 84.8 97 86 94.5 87.8 93ZM88.6 97 87.6 99 87.9 101 88.6 102 91 103 93 102 94 100 93 97 91 96.1 89 96.6ZM80 123.8 86 123.4 92 125.8 97 130.4 99.9 136 100.4 142 99.5 146 98.2 149 94 153.8 89 156.7 83 157.7 78 156.3 75 154.4 72 151.5 69.5 148 68.7 146 68.1 139 69.8 133 74 127.3 79.5 124ZM79.9 125 74.4 128 70.6 133 68.8 139 69.2 145 70.3 148 72 150.5 77 154.8 82 156.6 88 155.9 93.2 153 97 148.7 99 143 98.8 137 96 131.2 91 126.7 86 124.7 83 124.5 80 125ZM102 199.7 107 199.1 112 200.1 116 202.1 120 205.9 122.2 210 123.8 216 123.7 221 122.3 227 120.8 227 122.5 221 122.7 216 121.8 212 120 208 117.7 205 114 202.2 110 200.7 106 200.2 102 200.9 99 202.4 96.1 205 94 208.1 92.5 212 91.8 216 92 221 93.5 227 92.2 227 90.8 218 91.7 211 93.4 207 95.6 204 98 201.8 101.2 200Z"/><path fill="#77b2e5" stroke="#77b2e5" stroke-width=".5" d="M152 .9 157 1.7 162 4.8 165.2 9 167 15 166.7 21 164.5 26 160 30.9 155 33.1 153 33.2 150 32.5 146 29.8 141.8 24 140.2 18 140.7 12 143 7 147 2.7 151.6 1ZM150.8 4 147 5.6 143.9 9 142 14 142 19 143.9 24 147 27.6 151 29.6 155 29.5 159 27.5 162.1 24 163.8 20 164.1 15 162.9 11 160 7 156 4.5 151 4ZM66 21.8 71 21.1 77 21.1 82 21.7 88 23.4 93 25.6 97 28.2 100.1 31 102.8 35 103.8 39 103.4 44 101.4 52 99 57.6 96.4 61 93 63.7 89 65.9 84 67.5 79 68.2 75 67.9 70 66.6 65 64.4 61 61.8 56.6 58 54 54.9 51.3 50 49.8 45 49.3 40 49.9 35 51.6 30 53 27.8 56 25.3 60 23.5 65.2 22ZM66.3 23 61 24.4 57 26.1 54 28.5 52.2 31 50.7 35 50.2 40 50.7 45 51.8 49 53.8 53 56 56.1 60 60 64 62.8 68 64.8 73 66.2 78 66.6 82 66.2 87 64.7 91 62.8 94.8 60 97.5 57 100 52 101.7 46 102.2 41 101.5 37 100 33.9 97 30.5 93 27.6 88 25.1 83 23.5 78 22.6 72 22.4 67 22.9ZM154 84.9 158 85.6 161 87.9 163.6 92 164.7 96 164.5 100 162.9 104 160 107.5 156 109.6 152 109.8 149 108.4 146.3 105 145 100.3 145.4 95 147 90.7 150 86.8 153.4 85ZM153.5 92 152 92.5 150.4 94 149.1 98 149.4 100 150.6 102 152 103 154 103.2 156 102.5 157.5 101 158.4 99 158.6 97 158.1 95 157 93.4 154 91.9ZM88 89.8 91 89.3 95 90.3 98 92.7 99.9 96 100.4 100 99.4 104 97.2 107 94 109.1 91 109.8 87.5 109 85 107.1 83 103.6 82.3 99 83 95.1 85 91.7 87.4 90ZM87.8 93 86 94.5 84.8 97 84.4 100 85.2 103 87 105.4 89 106.5 91 106.8 94 105.9 96 104.2 97.2 102 97.6 99 97 96.4 95.3 94 93 92.6 90 92.3 88 92.9ZM82 122 85 121.7 88 122.1 94 125.4 99.1 131 101.5 137 101.3 144 100 148 98.4 151 94 155.4 88 158.3 82 158.6 76 156 73 153.5 70 150 68.7 148 67.6 144 67.7 137 69 133.1 70.7 130 73 127.1 76 124.6 81.9 122ZM79.5 124 74 127.3 69.8 133 68.1 139 68.7 146 69.5 148 72 151.5 75 154.4 78 156.3 83 157.7 89 156.7 94 153.8 98.2 149 99.5 146 100.4 142 99.9 136 97 130.4 92 125.8 86 123.4 80 123.8ZM161 178.9 164 179 166.3 180 168.4 182 169.7 185 169.8 188 169.1 190 167.5 192 165 193.4 162 193.7 159.9 193 157.5 191 156 188 155.8 185 156.8 182 158.7 180 160.7 179ZM104 198 109 198 114 199.5 118 202 121 205.3 123.3 210 124.9 216 125 221 123.8 227 122.3 227 123.7 221 123.6 215 122.6 211 120.7 207 118 203.7 114.2 201 110 199.5 106 199.1 102 199.7 99 201.1 96 203.6 93.4 207 91.7 211 90.9 215 91 221 92.2 227 91 227 89.8 217 90.4 212 91.7 208 94 204.2 97 201.1 100 199.2 103.9 198Z"/><path fill="#9ccbea" stroke="#9ccbea" stroke-width=".5" d="M148 -1.5 148.9 -2 159.3 -2 161 -1.2 164.1 1 167 4.1 169.3 8 170.7 12 171.2 19 170.6 23 169.2 27 165 33.6 157 41.4 156 41.9 154 41.3 147 34.8 141.8 28 138.9 21 138.4 15 139.9 9 143 3.4 147.3 -1ZM151.6 1 147 2.7 143 7 140.7 12 140.2 18 141.8 24 146 29.8 150 32.5 153 33.2 155 33.1 160 30.9 164.5 26 166.7 21 167 15 165.2 9 162 4.8 157 1.7 152 .9ZM70 19.9 76 19.5 81 19.9 91 22.6 96 25.1 100 28 103 31.1 105 35 105.5 39 104.8 44 102 54.4 99.6 60 97 63.3 93 66.2 88 68.5 83 69.8 78 69.9 73 68.8 67 66.5 62 63.5 57.5 60 53.8 56 51.3 52 49.4 47 48.6 42 48.8 36 50 31 52 27.2 54.3 25 58 23 69.1 20ZM65.2 22 60 23.5 56 25.3 53 27.8 51.6 30 49.9 35 49.3 40 49.8 45 51.3 50 54 54.9 56.6 58 61 61.8 65 64.4 70 66.6 75 67.9 79 68.2 84 67.5 89 65.9 93 63.7 96.4 61 99 57.6 101.4 52 103.4 44 103.8 39 102.8 35 100.1 31 97 28.2 93 25.6 88 23.4 82 21.7 77 21.1 71 21.1 66 21.8ZM155 45.8 157 45.9 159 47.6 161.6 51 163.4 55 164.2 61 162.5 71 162.6 74 163.5 77 168.9 87 170.7 93 171.1 98 170.3 103 168.7 107 166 111.1 162 114.7 158 116.9 154 117.8 151 117.3 148 115.4 146 113.1 143.8 109 142.4 104 142 98 143.2 92 145 87.4 149.7 79 151.3 74 149.9 62 150.3 55 152 49.8 154.8 46ZM153.4 85 150 86.8 147 90.7 145.4 95 145 100.3 146.3 105 149 108.4 152 109.8 156 109.6 160 107.5 162.9 104 164.5 100 164.7 96 163.6 92 161 87.9 158 85.6 154 84.9ZM10 72.8 12 72.6 13 73.2 13.6 75 13 76.5 12 77.2 10 77 9 75 9.8 73ZM88 86.7 93 86.6 97 88.2 101 92 102.7 96 103.1 101 101.4 106 98 110 94 112.3 90 113.1 87 112.2 83.6 109 81.2 104 80.6 98 81.6 93 84 89.2 87.3 87ZM87.4 90 85 91.7 83 95.1 82.3 99 83 103.6 85 107.1 87.5 109 91 109.8 94 109.1 97.2 107 99.4 104 100.4 100 99.9 96 98 92.7 95 90.3 91 89.3 88 89.8ZM83 120 88 119.6 91 120.9 94 123 100 129.4 101.9 133 102.8 136 102.7 143 100 151 96 155.6 90 159 86 159.9 83 159.9 77 157.5 73 154.5 69.9 151 68 148 66.9 144 67 137 68.3 133 70 129.7 73 126 76 123.4 82.9 120ZM81.9 122 76 124.6 73 127.1 70.7 130 69 133.1 67.7 137 67.6 144 68.7 148 70 150 73 153.5 76 156 82 158.6 88 158.3 94 155.4 98.4 151 100 148 101.3 144 101.5 137 99.1 131 94 125.4 88 122.1 85 121.7 82 122ZM152 138 155 138.9 157.4 141 159.2 144 160.2 148 160 152 158.6 156 156 159.8 154 160.7 151 160.1 149 158.5 147 155.3 145.9 151 145.9 146 147 142.2 149 139.2 151.9 138ZM158 168 164 169.3 170 172.9 174 177.3 176.5 183 176.7 189 174.9 194 171 198.3 166 200.6 161 200.6 156 198.3 152.3 194 150.2 189 149.7 183 151.2 176 154 170.4 156 168.6 157.8 168ZM160.7 179 158.7 180 156.8 182 155.8 185 156 188 157.5 191 159.9 193 162 193.7 165 193.4 167.5 192 169.1 190 169.8 188 169.7 185 168.4 182 166.3 180 164 179 161 178.9ZM103 196.8 108 196.5 113 197.7 118 200.3 121.6 204 124 208.9 126 216 126.3 221 125.5 227 123.8 227 125 221 124.9 216 123.3 210 121 205.3 118 202 114 199.5 110 198.2 106 197.8 102 198.4 98.6 200 95 203 92.8 206 91 210 90 214 89.8 220 91 227 89.5 227 88.7 216 90.5 208 92.7 204 96 200.3 99 198.3 102.2 197Z"/><path fill="#c5e1f2" stroke="#c5e1f2" stroke-width=".5" d="M143 -1.1 143.6 -2 148.9 -2 144 2.1 139.9 9 138.3 16 139.1 22 141.3 27 145 32.5 151 38.9 155 41.8 156 41.9 158 40.7 166.2 32 169.6 26 171.2 19 170.7 12 168.3 6 164.1 1 159.3 -2 176.8 -2 179.5 5 181.2 12 185.3 52 185.8 63 185.2 99 182.6 123 182.3 145 180.6 162 181.3 168 185.3 182 185.8 188 184.6 195 182 200.8 178 206 173 209.7 167 211.7 162 211.1 157 207.9 152 202.3 148.3 196 145.7 189 144.1 172 140.7 160 139.9 154 140 141 142.5 122 142 117 139.5 105 139.2 100 140.3 92 144.6 80 145.1 77 144.7 61 145.7 43 144.2 37 137.6 24 136.3 17 136.7 13 137.7 9 143 -1ZM154.8 46 152 49.8 150.3 55 149.9 62 151.3 74 149.7 79 145 87.4 143.2 92 142 98 142.4 104 143.8 109 146 113.1 148 115.4 151 117.3 154 117.8 158 116.9 162 114.7 166 111.1 168.7 107 170.3 103 171.1 98 170.7 93 168.9 87 163.5 77 162.6 74 162.5 71 164.2 61 163.4 55 161.6 51 159 47.6 157 45.9 155 45.8ZM151.9 138 149 139.2 147 142.2 145.9 146 145.9 151 147 155.3 149 158.5 151 160.1 154 160.7 156 159.8 158.6 156 160 152 160.2 148 159.2 144 157.4 141 155 138.9 152 138ZM157.8 168 156 168.6 154 170.4 151.2 176 149.7 183 150.2 189 152.3 194 156 198.3 161 200.6 166 200.6 171 198.3 174.9 194 176.7 189 176.5 183 174 177.3 170 172.9 164 169.3 158 168ZM74 17.9 79 17.9 85 18.6 95 22 100 25 103.7 28 106 31 107.2 34 107.5 37 106.7 42 102.4 58 100.2 63 97 66.7 93 69.4 88 71.6 84 72.4 79 72.1 74 70.7 67 67.6 61 63.9 56.3 60 52.7 56 49.9 51 48.3 46 47.7 41 48.1 35 49.8 29 52 25.4 55 23 60 20.9 67 18.9 73.2 18ZM69.1 20 58 23 54.3 25 52 27.2 50 31 48.8 36 48.6 42 49.4 47 51.3 52 53.8 56 57.5 60 62 63.5 67 66.5 73 68.8 78 69.9 83 69.8 88 68.5 93 66.2 97 63.3 99.6 60 102 54.4 104.8 44 105.5 39 105 35 103 31.1 100 28 96 25.1 91 22.6 81 19.9 76 19.5 70 19.9ZM10 67.9 12 67.9 14.6 69 16.5 71 17.4 73 17.6 76 17 78 15.5 80 13 81.5 10 81.8 8 81 5.8 79 4.5 76 4.6 73 5.6 71 7.5 69 9.5 68ZM9.8 73 9 75 10 77 12 77.2 13 76.5 13.6 75 13 73.2 12 72.6 10 72.8ZM89 83 92 82.9 95 83.6 98 85 101 87.3 103.3 90 104.9 93 106.1 99 105.4 104 103.6 108 101 111.4 95.8 116 94.8 118 95.4 120 101.4 128 103.9 133 104.5 139 103 147 101 152.2 98.1 156 94 158.9 89 160.9 85 161.4 82 160.9 78 159.1 74 156.3 70.7 153 67.8 149 66.4 145 65.9 141 66.8 135 70 128.4 74 123.8 81.6 118 83.3 116 83.3 114 80.3 107 79.3 103 79 98 79.4 94 80.7 90 83 86.4 86 84 88.9 83ZM87.3 87 84 89.2 81.6 93 80.6 98 81.2 104 83.6 109 87 112.2 90 113.1 94 112.3 98 110 101.4 106 103.1 101 102.7 96 101 92 97 88.2 93 86.6 88 86.7ZM82.9 120 76 123.4 73 126 70 129.7 68.3 133 67 137 66.9 144 68 148 69.9 151 73 154.5 77 157.5 83 159.9 86 159.9 90 159 96 155.6 100 151 102.7 143 102.8 136 101.9 133 100 129.4 94 123 91 120.9 88 119.6 83 120ZM2 119.7 5 119.3 7 119.6 9 120.6 10.2 122 10.9 124 10.5 127 9.1 129 7 130.1 3 130.3 -2 128.2 -2 121.4 1.1 120ZM105 195 110 195.2 115 196.8 119 199.2 122.7 203 124.5 207 127.5 217 127.9 221 127.5 227 125.5 227 126.3 221 126 216 124 208.9 121.6 204 119 201.1 115 198.5 111 197 106 196.4 102 197 98 198.8 95 201.3 91.5 206 89.8 210 88.8 215 88.7 220 89.5 227 87.9 227 87.5 215 88.5 210 90 206 96.7 198 101 195.8 104.6 195Z"/><path fill="#e6f3fa" stroke="#e6f3fa" stroke-width=".5" d="M140 -2 143.6 -2 137.7 9 136.5 14 136.4 19 138.4 26 144.6 38 145.4 41 145.7 45 144.7 60 145 78 140.5 91 139.3 98 139.5 105 142 117 142.5 122 139.9 142 140.1 156 140.7 160 144.1 172 145.7 189 148 195.3 152 202.3 157 207.9 161 210.7 166 211.8 169 211.3 173 209.7 179 204.9 183.5 198 185.2 193 185.8 189 185.3 182 181.3 168 180.6 162 182.3 145 182.6 123 185.2 99 185.6 57 181.5 14 179.8 6 176.8 -2 208 -2 208 158.4 203 156.5 198 158.2 195 160.7 193.4 163 192.2 166 191.8 169 192.2 172 193.3 175 195.4 178 198 180.3 201 181.7 204 182.3 208 180.4 208 227 154.4 227 150.3 209 142.2 190 139.8 174 136.4 159 136.2 136 137.7 119 136.1 100 137 92 140.8 79 142.1 45 140.6 37 134.8 24 133.8 17 135.1 9 140 -2ZM75 15.9 81 15.7 86 16.2 91 17.5 97 19.8 102 22.6 106.3 26 109 29.5 110.1 33 109.7 37 105.9 49 102.5 64 100.6 68 95.6 74 95 76 96.2 78 102 82.5 105.3 86 107.8 90 109.5 95 109.8 101 108.7 106 106.8 110 101.6 117 100.8 119 101.3 122 106 132 106.4 135 106.1 139 103.2 151 100.8 156 98 158.7 95 160.6 88 163 84 162.8 81 161.8 77 159.5 73 156.3 69.8 153 67.1 149 65.9 146 65.3 142 65.8 136 68.2 130 72 124.6 78.5 118 80.1 115 79.9 112 77.8 103 77.7 95 79 88.4 82.7 80 82.6 78 80.4 76 63 66.3 55.1 60 51.7 56 49.3 52 47.8 48 46.9 43 47 37 48 31.5 50 26.2 52 23.5 55 21.4 60 19.4 67 17.4 74.1 16ZM73.2 18 67 18.9 60 20.9 55 23 52 25.4 49.8 29 48.1 35 47.7 41 48.3 46 49.9 51 52.7 56 56.3 60 61 63.9 67 67.6 74 70.7 79 72.1 84 72.4 88 71.6 93 69.4 97 66.7 100.2 63 102.4 58 106.7 42 107.5 37 107.2 34 106 31 103.7 28 100 25 95 22 85 18.6 79 17.9 74 17.9ZM88.9 83 86 84 83 86.4 80.7 90 79.4 94 79 98 79.3 103 80.3 107 83.3 114 83.3 116 81.6 118 74 123.8 70 128.4 66.8 135 65.9 141 66.4 145 67.8 149 70.7 153 74 156.3 78 159.1 82 160.9 85 161.4 89 160.9 94 158.9 98.1 156 101 152.2 103 147 104.5 139 103.9 133 101.4 128 95.4 120 94.8 118 95.8 116 101 111.4 103.6 108 105.4 104 106.1 99 104.9 93 103.3 90 101 87.3 98 85 95 83.6 92 82.9 89 83ZM7 63.8 10 63.1 14 64.2 17 66.5 19.8 71 20.5 75 19.9 79 17.3 83 14 85.2 9 85.9 0 81.9 -1 82.2 -2 83.3 -2 64 -1 66.3 0 66.9 6.6 64ZM9.5 68 7.5 69 5.6 71 4.6 73 4.5 76 5.8 79 8 81 10 81.8 13 81.5 15.5 80 17 78 17.6 76 17.4 73 16.5 71 14.6 69 12 67.9 10 67.9ZM-2 111 1 113 10 114.8 16.9 120 17 120.7 18.8 117 21 114.7 24 113.7 27.1 115 28.3 118 27.3 121 25 122.5 23 122.7 20 122 18 120.9 17 121.1 14.7 129 13 131.9 11 134 7 135.6 0 136.5 -2 137.6 -2 128.2 3 130.3 7 130.1 10 128 11 125 10 121.6 7 119.6 3 119.5 -2 121.4 -2 111ZM45 182.9 46 183 47 184 47.1 186 46.2 187 44 187.1 43.6 186 44 183.9 44.9 183ZM10 183.8 12 183.1 15 183.6 17 184.9 18.5 187 19 189 18.8 192 17.8 194 16 195.6 12 196.6 9 195.1 7.3 193 6.6 191 6.7 188 7.6 186 9.7 184ZM101 193.9 106 193 112 193.8 118 196.3 122.6 200 124.8 204 129.2 218 130 227 127.5 227 127.9 221 127.5 217 124.1 206 122 202.1 119 199.2 115 196.8 111 195.4 106 194.9 101 195.8 97 197.8 90.6 205 88.8 209 87.6 214 87.4 219 87.9 227 85.9 227 86.2 214 88.4 206 96 196.4 100.6 194Z"/><path fill="#fefee2" stroke="#fefee2" stroke-width=".5" d="M-1 -2 22.4 -2 17.7 2 15.3 5 13.6 9 13.3 13 15.8 31 15.8 38 17.1 56 18.3 61 22.5 71 23.1 78 22.3 82 21 84.9 13.2 96 12.4 99 12.3 102 13.4 106 15.7 109 18 110.1 23 110.5 26 111.4 29 114.3 30.1 118 29.5 121 28.3 123 20.9 128 12 142.4 11 143.6 6 146.6 4.1 150 2.5 165 2.5 170 3.2 173 5 174.7 12 174.5 18 177.8 21 180.9 22.8 184 23.7 187 24 191 23.4 194 22 197.4 20 200 17 202.4 12 204.2 5 202.9 3 203.1 2 203.9 1 206 .3 210 -.3 225 27.6 227 -2 227 -2 137.6 0 136.5 7 135.6 11 134 13 131.9 14.7 129 17 121.1 18 120.9 22 122.6 25 122.5 27.3 121 28.3 118 27 114.9 25 113.8 23 113.8 19.5 116 17 120.7 16.9 120 10 114.8 1 113 -2 111 -2 83.3 -1 82.2 0 81.9 9 85.9 14 85.2 17 83.3 18.9 81 20.2 78 20.5 75 20.1 72 18.8 69 17 66.5 14 64.2 11 63.3 9 63.2 0 66.9 -1 66.3 -2 64 -2 -2ZM9.7 184 7.6 186 6.7 188 6.6 191 7.3 193 9 195.1 12 196.6 16 195.6 17.8 194 18.8 192 19 189 18.5 187 17 184.9 15 183.6 12 183.1 10 183.8ZM86 -2 140 -2 135.1 9 133.8 17 135.2 25 141.2 39 142.1 46 140.8 79 137.2 91 136.1 98 136.2 104 137.7 119 136.2 136 136.4 159 139.8 174 142.2 190 150.3 209 154.4 227 149.2 227 146.4 208 144.7 203 138.6 191 132.7 162 133.6 147 131.4 130 132.4 117 131.1 103 131 97 131.9 91 135 79 135.8 72 138.7 58 139.3 51 138.9 45 137.8 40 131.4 27 129.8 21 129.7 17 130.4 12 134 2 132 -.1 127 -1.1 96 -.9 85.2 -2ZM77 12.9 83 12.2 88 12.4 93 13.4 99 15.5 105 18.6 110 22.1 113.5 26 114.5 29 113.9 33 109 43.4 106.8 50 105.6 57 105.3 67 105.6 72 106.5 75 112.4 84 115.3 91 116.2 97 115.9 103 113.8 110 108.7 120 108.4 123 109.6 129 109.5 132 103.6 156 102 159 100 161 96 163.4 92 164.8 86 165.2 80 162.6 71 155.3 68 151.7 65.8 148 64.5 141 64.9 137 66 133 69 127.2 76.3 118 77.7 115 77.9 112 76.5 104 76.1 97 76.4 92 77.8 83 77.6 80 76 77 72.9 74 59 64.5 52.1 58 47.8 51 46 44 46 38 46.9 32 48.8 26 51 22.5 54 20.2 58 18.6 76.5 13ZM74.1 16 67 17.4 60 19.4 55 21.4 52 23.5 50 26.2 48 31.5 47 37 46.9 43 47.8 48 49.3 52 51.7 56 55.1 60 63 66.3 80.4 76 82.6 78 82.7 80 79 88.4 77.7 95 77.8 103 79.9 112 80.1 115 78.5 118 72 124.6 68.2 130 65.8 136 65.3 142 65.9 146 67.1 149 69.8 153 73 156.3 77 159.5 81 161.8 84 162.8 88 163 95 160.6 98 158.7 100.8 156 103.2 151 106.1 139 106.4 135 106 132 101.3 122 100.8 119 101.6 117 106.8 110 108.7 106 109.8 101 109.5 95 107.8 90 105.3 86 102 82.5 96.2 78 95 76 95.6 74 100.6 68 102.5 64 105.9 49 109.7 37 110.1 33 109 29.5 106.3 26 102 22.6 97 19.8 91 17.5 86 16.2 81 15.7 75 15.9ZM201 156.9 204 156.6 208 158.4 208 180.4 205 182 204 182.3 201 181.7 197 179.6 193.9 176 192 171 192.2 166 194 162 197 158.9 200.7 157ZM201.3 167 200.2 169 201 171 203 171.7 204 171.2 204.6 170 204.6 168 204 167 202 166.6ZM44 180.6 45 180.2 47 180.7 49 182.6 49.8 185 48.9 188 47 189.6 45 190.1 41.9 189 41.5 187 43.7 181ZM44.9 183 44 183.9 43.6 186 44 187.1 46.2 187 47.1 186 47 184 46 183 45 182.9ZM102 191 108 190.5 114 191.6 120 194.5 124 197.9 125.7 201 127.7 211 131.4 219 133.2 225 134.4 227 130 227 129.2 218 124.8 204 122.6 200 119 196.9 115 194.8 111 193.5 106 193 101 193.9 96 196.4 92.8 201 89 205 87.6 208 86.3 213 85.9 227 82.9 227 83.8 223 84.6 212 86.3 206 92 201 95 194.4 98 192.5 102 191Z"/><path fill="#fdfd83" stroke="#fdfd83" stroke-width=".5" d="M22 -1.7 28.3 -2 24.7 2 21.6 8 19.6 14 19.1 19 22.6 61 25.1 71 26 77 26.1 82 24.6 93 24.3 103 25.2 106 30.8 114 31.6 119 31 122 29.5 125 19.7 137 18.4 140 18 144 19.3 149 24.8 157 26 172 29.3 186 29.3 194 26.1 210 26.5 214 28 218 30.5 221 33.3 223 38 224.9 43 226 61 226.8 72 226.3 77 225.4 79 224.2 80.3 222 82.2 210 83.7 205 84.5 204 89 202.8 91.4 201 92.8 198 92.7 193 94 190.8 96 188.6 100 186.3 104 185.1 108 184.8 113 185.5 117 186.7 122 189.2 127.4 193 128.6 196 127.7 203 127.8 207 129.7 213 132 216.4 137 221.5 141 223.5 142 223.7 142.7 223 142.6 219 144.3 211 143.3 205 140 199.6 133.3 194 131.7 192 129 181.4 122.8 170 123.2 168 129.3 158 130.7 154 131.4 150 131.2 145 130.2 141 128.2 137 126 134.4 122 132.1 119 131.7 117 132 113 134.2 110 138.1 107.3 145 106.2 152 106.7 159 108.6 167 107.4 169 104.8 170 94 171.1 91 170.8 88 169.6 81 164.8 73 158.2 68.9 154 65.5 149 63.8 142 64.6 135 67.1 129 74.6 118 76 114 74.9 102 74.8 81 73.6 78 70.3 74 57 64.1 50.8 58 46.7 51 44.9 43 45 38 46 32 47.7 26 49.5 22 53 18.9 70.5 12 76.8 8 78.3 6 78.7 4 77.5 1 75 -2 85.2 -2 97 -.9 127 -1.1 132 -.1 134 2 130.4 12 129.7 17 129.8 21 131.4 27 137.8 40 139.3 49 138.6 59 135.8 72 135 79 131.9 91 131 97 131.1 103 132.4 117 131.4 130 133.6 147 132.7 162 138.6 191 144.7 203 146.4 208 149.2 227 134.4 227 133.2 225 131.4 219 127.7 211 125.7 201 124.1 198 121 195.2 116 192.4 112 191.1 107 190.5 101 191.3 96 193.6 94.5 195 92 201 87 205 85.6 208 84.6 212 83.8 223 82.9 227 27.6 227 -.3 225 .3 210 1 206 2 203.9 3 203.1 5 202.9 12 204.2 17 202.4 20 200 22 197.4 23.4 194 24 191 23.2 185 20 179.7 16 176.4 12 174.5 6 174.8 4 174.2 2.8 172 2.5 168 3.4 154 4.9 148 6.7 146 11 143.6 15 138.1 20.9 128 28 123.4 29.5 121 30.1 119 29.8 116 28 113 24 110.7 18 110.1 16 109.3 13.4 106 12.3 102 12.4 99 13.2 96 21 84.9 22.3 82 23.1 78 22.5 71 18.3 61 17.1 56 15.8 38 15.8 31 13.3 13 13.6 9 14.7 6 16.8 3 21.1 -1ZM76.5 13 58 18.6 54 20.2 51 22.5 48.8 26 46.9 32 46 38 46 44 47.8 51 52.1 58 59 64.5 72.9 74 76 77 77.6 80 77.8 83 76.4 92 76.1 97 76.5 104 77.9 112 77.7 115 76.3 118 69 127.2 66 133 64.9 137 64.5 141 65.8 148 68 151.7 71 155.3 80 162.6 86 165.2 92 164.8 96 163.4 100 161 102 159 103.6 156 109.5 132 109.6 129 108.4 123 108.7 120 113.8 110 115.9 103 116.2 97 115.3 91 112.4 84 106.5 75 105.6 72 105.3 67 105.6 57 106.8 50 109 43.4 113.9 33 114.5 29 113.5 26 110 22.1 105 18.6 99 15.5 93 13.4 88 12.4 83 12.2 77 12.9ZM121.9 33 119 34 116 36.1 111 42.3 107.9 50 107 59 108.6 66 112 70.5 115 72.4 118 73.4 121 73.7 124 73.2 129 70.7 133.6 65 136.2 58 136.9 50 135.4 43 132 37.2 127 33.5 124 32.8 122 33ZM202 166.6 204 167 204.6 168 204.6 170 204 171.2 203 171.7 201 171 200.2 169 201.3 167ZM45 177.8 47 178.2 49.6 180 51 182 52 185 51.9 187 51 189.3 49 191.3 47 192.3 45 192.7 42 192.3 40 191.4 38.7 190 38.6 189 41.2 185 43 179.1 44.4 178ZM43.7 181 41.5 187 41.9 189 45 190.1 47 189.6 48.9 188 49.8 185 49 182.6 47 180.7 45 180.2 44 180.6Z"/><path fill="#ffff30" stroke="#ffff30" stroke-width=".5" d="M28 -1.7 33.3 -2 29 2.8 23.3 11 21.5 16 21.2 20 24.6 50 25.5 63 29.4 82 29.3 104 32.5 114 33.1 119 32.5 123 30.1 130 28.2 132 24 134.7 21.8 137 20.3 140 19.8 144 20.7 147 23 150.2 25 151.7 29.9 154 29.1 161 31.6 177 33.1 184 34.2 186 37 187.3 39 186.5 40 185.6 43 175.5 44 174.4 45 174.2 48 175.7 51 178.3 54.7 185 55.5 190 54.4 193 52 195.5 45.5 199 43.5 201 43.3 205 44.9 211 47.4 214 52 215.9 58 216.1 63 215.2 65.9 214 68.2 212 69.5 209 70 205 71 203.6 77 203.2 82 201.8 88 202.5 90.7 201 92.3 198 91 192 90.8 186 85.4 173 81.3 167 71 157.4 67.2 153 64.7 149 63.2 144 63.1 139 64.5 133 67.3 127 73 118 74.3 114 73.2 86 72.5 81 71.2 78 68.2 74 55.5 64 49.5 58 45.4 51 43.8 44 43.9 39 44.8 33 47 24.5 49 20 52 17.2 65 12.1 70.1 9 71.9 7 73.1 4 72.9 1 71.5 -2 75 -2 78.5 3 78.7 5 77.7 7 75.6 9 70.5 12 55 17.9 51 20.3 49 22.9 47.3 27 44.9 39 45 44 45.7 48 47.6 53 50 57 56.9 64 70.3 74 73.6 78 75 82 74.8 99 76 114 74.6 118 68 127.4 64.9 134 63.8 141 64.7 147 67.3 152 72 157.3 81 164.8 88 169.6 91 170.8 94 171.1 104 170.2 107.4 169 108.6 167 106.7 159 106.2 152 107.3 145 110 138.1 113 134.2 117 132 119 131.7 122 132.1 126 134.4 128.2 137 130.2 141 131.2 145 131.4 150 130.7 154 129.3 158 123.2 168 122.8 170 129 181.4 131.7 192 133.3 194 140 199.6 143.3 205 144.3 211 142.6 219 142.7 223 142 223.7 139 222.8 136 220.6 132 216.4 129.2 212 128.1 209 127.7 205 128.6 196 127.4 193 123 189.8 118 187.2 113 185.5 109 184.9 102 185.5 98 187.2 95 189.6 92.7 193 92.8 198 91.4 201 89 202.8 84.5 204 83.7 205 82.2 210 80.3 222 79 224.2 77 225.4 72 226.3 60 226.8 50 226.7 42 225.9 37 224.6 33 222.8 29.5 220 27.5 217 26.3 213 26.2 209 29.3 194 29.4 187 26 172 24.8 157 19.3 149 18.2 146 18 143 18.4 140 19.7 137 29.5 125 31 122 31.6 119 30.8 114 25.2 106 24.3 103 24.6 93 26.1 82 26 77 25.1 71 22.6 61 19.1 19 19.6 14 21.6 8 24.1 3 27.2 -1ZM115.7 136 112 138.4 109.2 143 107.8 149 108.1 154 110 157.9 113 160.4 117 161.5 122 160.7 126 157.8 128.4 154 129.4 150 129.2 145 127.1 140 124 137 120 135.6 116 135.9ZM44.4 178 43 179.1 41.2 185 38.6 189 38.7 190 40 191.4 42 192.3 45 192.7 47 192.3 49 191.3 51 189.3 51.9 187 52 185 51 182 49.6 180 47 178.2 45 177.8ZM131.7 200 130 201.7 128.9 205 128.9 208 129.8 211 132 214.3 134 215.8 137 216.6 139 215.9 141 213.9 142.2 211 142.3 208 141.6 205 139.6 202 137 200 134 199.3 132 199.8ZM122 33 124 32.8 127 33.5 132 37.2 135.4 43 136.9 50 136.2 58 133.6 65 129 70.7 124 73.2 121 73.7 118 73.4 115 72.4 112 70.5 108.6 66 107 59 107.9 50 111 42.3 116 36.1 119 34 121.9 33ZM120.7 37 116 39 111.5 44 109 50 108.2 57 109.7 63 113 67 118 69.1 123 69 128 66.8 131.6 63 134.3 57 134.8 51 133.5 45 130.1 40 126 37.5 121 36.9Z"/><path fill="#ffff00" stroke="#ffff00" stroke-width=".5" d="M33 -1.8 38.2 -2 26 10.2 23.8 14 22.7 19 26.8 50 27.9 64 32.2 82 32.4 104 34.4 116 34.5 121 33 132 32 133 26 135 23.4 137 21.2 141 21.2 145 23 148.3 26 150.5 30 151.4 36 150.6 37 150.9 37.7 152 37.7 153 37 153.5 34 154.6 32 156.1 30.8 158 30.4 160 34.3 183 35 184.9 36 185.8 38 186 40.1 184 41.4 175 41.9 166 43 164.6 53 177.3 58 184.5 74 198.6 77 199.9 81 200.2 87 202 90 201.1 91.6 199 91.8 197 89.8 191 89.2 187 82.6 172 78.5 166 66.2 153 63.8 149 62.6 145 62.2 140 63.3 134 65.9 128 71.6 118 72.7 114 71.5 87 70.5 81 68.5 77 66.3 74 53.9 64 48 58 44.4 52 42.5 45 42.5 41 43.4 35 46.2 23 48.1 18 51 15.2 62 11.3 67 8.4 69.2 6 70.3 3 70.2 1 69.1 -2 71.5 -2 72.9 1 73.1 4 71.9 7 70.1 9 65 12.1 52 17.2 49 20 47 24.5 44.8 33 43.9 39 43.8 44 45.4 51 49.5 58 55.5 64 68.2 74 71.2 78 72.5 81 73.2 86 74.3 114 73 118 67.3 127 64.5 133 63.1 139 63.2 144 64.7 149 67.2 153 71 157.4 82.2 168 86.4 175 91.1 187 91 192 92.4 197 92 199 90.7 201 88 202.5 82 201.8 77 203.2 71 203.6 70 205 69.5 209 68.2 212 65.9 214 63 215.2 59 216.1 54 216.2 50 215.4 47.4 214 45.5 212 44.1 209 43.2 202 44.1 200 51 196.2 54.4 193 55.5 189 54.3 184 51 178.3 48 175.7 45 174.2 44 174.4 43 175.5 40 185.6 39 186.5 37 187.3 34.2 186 33.1 184 31.6 177 29.1 161 29.9 154 25 151.7 23 150.2 20.3 146 19.8 143 20.6 139 23 135.6 28.2 132 30 130.1 32 124.6 33 120 32.7 115 29.3 104 29.4 82 25.5 63 24.6 50 21.2 19 21.7 15 23.3 11 27 5.4 32.2 -1ZM121 36.9 126 37.5 130.1 40 133.5 45 134.8 51 134.3 57 131.6 63 128 66.8 123 69 118 69.1 113 67 109.7 63 108.2 57 109 50 111.5 44 116 39 120.7 37ZM118.1 40 114 42.8 111.2 47 109.6 52 109.7 58 111.2 62 115 65.5 119 66.7 124 66.1 128 63.8 131.6 59 132.9 54 132.7 49 130.5 44 127.4 41 123 39.3 119 39.7ZM116 135.9 120 135.6 124 137 127.1 140 129.2 145 129.4 150 128.4 154 126 157.8 122 160.7 117 161.5 113 160.4 110 157.9 108.1 154 107.8 149 109.2 143 112 138.4 115.7 136ZM116.2 138 113 139.8 110.5 143 109.2 147 109.3 152 110.5 155 113 157.5 116 158.7 120 158.7 123.7 157 126.3 154 127.8 150 127.7 146 126.2 142 124 139.6 121 138 117 137.8ZM132 199.8 134 199.3 137 200 139.6 202 141.6 205 142.3 208 142.2 211 141 213.9 139 215.9 137 216.6 134 215.8 132 214.3 129.8 211 128.9 208 128.9 205 130 201.7 131.7 200ZM132.5 202 131 203.3 130 206 130 208.2 130.9 211 134 213.9 136 214.4 138 213.8 140.4 211 140.8 209 140.4 206 139 203.6 137 202 135 201.4 133 201.7Z"/><path fill="#ffd200" stroke="#ffd200" stroke-width=".5" d="M38 -1.8 44.3 -2 41.3 0 37.3 4 31 7.8 28 10.2 25.3 14 24 19 26.8 39 28.9 50 30 64 34.5 82 34.9 104 36.1 117 35.9 127 36.4 133 36 134.9 35 135.4 29 135.2 24.8 137 23 139 22.1 141 22.2 145 23.2 147 25 148.7 29 150.1 33 149.4 38 146.6 39 147 40.6 150 42.6 158 58.7 182 74 196.6 76 197.9 87 201.5 89.4 201 91.1 199 91.4 197 87.8 187 80.9 172 76.2 165 65.2 153 62.8 149 61.7 145 61.4 140 62.5 134 64.9 128 69.8 119 71.3 114 70.8 98 69.8 86 68.6 81 66.7 77 64.4 74 52.2 64 46.3 58 42.6 52 41 46 40.9 42 41.7 37 46 18.6 47.5 15 50 12.6 61 9.5 65 7.3 67 5.2 68 3 67.9 0 66.9 -2 69.1 -2 70.2 1 70.3 3 69.2 6 67.5 8 63 10.9 51 15.2 48 18.2 46.2 23 43.4 35 42.5 41 42.5 45 44.4 52 48 58 53.9 64 66.3 74 68.5 77 70.5 81 71.5 87 72.7 114 71.6 118 66.4 127 63.7 133 62.3 139 62.4 144 63.8 149 66.2 153 78.5 166 83.6 174 88.8 186 89.8 191 91.6 196 91.6 199 90 201.1 88 202 86 201.9 81 200.2 76 199.6 73.3 198 57.5 184 53 177.3 43 164.6 41.9 166 41.4 175 40.1 184 38 186 36 185.8 35 184.9 34.3 183 30.4 160 30.8 158 32 156.1 34 154.6 37 153.5 37.7 153 37.7 152 37 150.9 36 150.6 30 151.4 26 150.5 23 148.3 21.2 145 21.2 141 23.4 137 26 135 32 133 33 132 34.6 119 32.4 104 32.2 82 27.9 64 26.9 51 25 39 22.8 18 23.8 14 26 10.2 37 -1ZM34.5 156 31.9 158 31.5 161 35.3 183 36 184.5 38 185.1 39 184.5 39.7 183 40.2 177 40.2 159 39 156.8 37 155.9 35 155.8ZM119 39.7 123 39.3 127.4 41 130.5 44 132.7 49 132.9 54 131.6 59 128 63.8 124 66.1 119 66.7 115 65.5 111.2 62 109.7 58 109.6 52 111.2 47 114 42.8 118.1 40ZM117.7 42 114 44.8 111.5 49 110.5 54 111 58 113.4 62 117 64.3 121 64.7 125 63.5 128.2 61 130.6 57 131.4 53 130.9 49 129 45.1 126 42.4 122 41.2 118 41.8ZM117 137.8 121 138 124 139.6 126.2 142 127.7 146 127.8 150 126.3 154 123.7 157 120 158.7 116 158.7 113 157.5 110.5 155 109.3 152 109.2 147 110.5 143 113 139.8 116.2 138ZM115.5 140 113 141.7 111 145 110.3 149 110.8 152 112.8 155 115 156.4 118 157 121 156.5 124 154.4 125.6 152 126.4 149 125.9 145 124.1 142 122 140.3 119 139.4 116 139.8ZM133 201.7 135 201.4 137 202 139 203.6 140.4 206 140.8 209 140.4 211 138 213.8 136 214.4 134 213.9 130.9 211 130 208.2 130 206 131 203.3 132.5 202ZM132.5 204 131.1 207 132 210.5 133 211.7 135 212.6 137.5 212 138.5 211 139.3 209 138.9 206 138 204.7 136 203.4 133 203.6Z"/><path fill="#ffa800" stroke="#ffa800" stroke-width=".5" d="M43 -1.2 44.3 -2 52.3 -2 46.5 2 44 6.5 35 7.9 30 10.3 26.7 14 25.2 19 27 30.6 31.2 50 32.1 64 36.4 81 37.9 127 39.8 140 44.4 156 59 179.8 76 196.6 87 201 89 200.7 90 200 90.9 198 86.7 187 79.5 172 74.8 165 64 153 61.8 149 60.7 145 60.4 140 61.3 135 63.5 129 68.4 119 69.9 113 69.4 98 68.2 87 67 81.6 64.9 77 62.5 74 50.2 64 44.1 58 40.4 52 38.9 46 39.3 40 43.4 25 46 8.4 48 7.9 57 8 62 6.8 64.5 5 65.7 3 65.8 0 64.5 -2 66.9 -2 67.9 0 68 3 67.2 5 65.4 7 61 9.5 50 12.6 48 14.3 47 15.9 41.5 38 41 46 42.6 52 46.3 58 52.2 64 64.4 74 67.3 78 68.9 82 69.9 87 70.8 98 71.3 114 69.8 119 64.9 128 62.5 134 61.4 140 61.7 145 62.8 149 65.2 153 77 166 82.5 175 87.8 187 91.4 197 91.1 199 89.4 201 87 201.5 75 197.3 58 181.3 42.6 158 40.6 150 39 147 38 146.6 33 149.4 29 150.1 25 148.7 23.2 147 22.2 145 22.1 141 23 139 24.8 137 29 135.2 35 135.4 36 134.9 36.4 133 35.9 127 36.1 117 34.9 104 34.5 82 30 64 28.9 50 26.8 39 24.1 18 25.3 14 28 10.2 31 7.8 37.3 4 42.6 -1ZM26.4 137 24 139 23 141 22.8 144 23.6 146 25 147.7 27 148.8 29 149.2 32 148.6 34.5 147 36.5 144 36.9 142 36.5 140 34.8 138 32 136.6 29 136.2 27 136.7ZM118 41.8 122 41.2 126 42.4 129 45.1 130.9 49 131.4 53 130.6 57 128.2 61 125 63.5 121 64.7 117 64.3 113.4 62 111 58 110.5 54 111.5 49 114 44.8 117.7 42ZM119.7 43 116 44.7 113.8 47 112 51 111.7 55 113 59 115 61.3 118 62.8 122 62.8 125 61.6 128 58.6 129.5 55 129.7 51 128.8 48 126.6 45 123 43.1 120 42.9ZM116 139.8 119 139.4 122 140.3 124.1 142 125.9 145 126.4 149 125.6 152 124 154.4 121 156.5 118 157 115 156.4 112.8 155 110.8 152 110.3 149 111 145 113 141.7 115.5 140ZM117.7 141 115 141.9 113 143.8 111.9 146 111.5 149 112.4 152 114 154 116 155.1 119 155.3 121 154.7 123.2 153 124.4 151 125 148 124.3 145 123 143 121 141.6 118 141ZM35 155.8 37 155.9 39 156.8 40.2 159 40.2 177 39.7 183 39 184.5 38 185.1 36 184.5 35.3 183 31.5 161 31.9 158 34.5 156ZM34.9 157 33.1 158 32.4 160 36 181.9 36.9 184 38 184.2 38.9 183 39.4 176 38.4 159 37 157.3 35 157ZM133 203.6 136 203.4 138 204.7 138.9 206 139.3 209 138.5 211 137.5 212 135 212.6 133 211.7 132 210.5 131.1 207 132.5 204ZM134.7 205 133 205.9 132.5 208 134 210.5 136 210.7 137.1 210 137.7 208 137 206 135 205Z"/><path fill="#ff7800" stroke="#ff7800" stroke-width=".5" d="M51 -1.3 52.3 -2 64.5 -2 65.8 0 66 2 64.5 5 61 7.2 57 8 48 7.9 46 8.4 43.4 25 39.1 41 39.2 48 40.9 53 44.1 58 50.2 64 62.5 74 65.4 78 67.1 82 68.2 87 69.4 98 69.9 113 68.4 119 63.5 129 61.3 135 60.4 140 60.7 145 61.8 149 64 153 75.6 166 80.6 174 90.9 197 90.6 199 89 200.7 86.8 201 75.1 196 58.3 179 44.4 156 39.6 139 37.9 127 36.4 81 32.1 64 31.2 50 27 30.6 25.2 19 26.7 14 30 10.3 35 7.9 44 6.5 46.5 2 50.5 -1ZM56.5 -1 54.5 1 54.4 3 55 3.8 58 5 61 4.5 62.9 3 63.4 2 63 -.2 62 -1.2 60 -1.9 57 -1.2ZM33.6 10 31 11.2 28.1 14 26.7 17 26.4 20 28.4 30 31 38.9 33 42.7 34 43.9 35 43.8 41.1 29 42.6 23 43.4 16 42.8 13 41 10.7 38 9.5 34 9.9ZM35.5 54 34.7 57 34.3 63 38.4 81 39.7 127 46 155 59.5 178 75 194.5 77 196 87 200.5 89 200.2 90.2 199 90.4 197 78.1 172 73.4 165 63.4 154 61.1 150 59.8 146 59.3 141 60.3 135 67.1 119 68.5 113 68 98 66.6 87 65 81 63 77 61 74.5 46.3 63 38 54.3 36 53.2ZM120 42.9 123 43.1 126.6 45 128.8 48 129.7 51 129.5 55 128 58.6 125 61.6 122 62.8 118 62.8 115 61.3 113 59 111.7 55 112 51 113.8 47 116 44.7 119.7 43ZM118.3 45 116 46.4 114 49 113 52.1 113.2 56 114.8 59 117 60.7 120 61.3 123 60.8 125.6 59 127.2 57 128.2 54 128 50.3 127 48 125 45.8 122 44.6 119 44.7ZM27 136.7 29 136.2 32 136.6 34.8 138 36.5 140 36.9 142 36.5 144 34.5 147 32 148.6 29 149.2 27 148.8 25 147.7 23.6 146 22.8 144 23 141 24 139 26.4 137ZM26.2 138 24.2 140 23.5 142 23.6 144 24.5 146 26 147.5 28 148.3 30 148.3 32 147.6 33.9 146 35 144 35.2 142 34.6 140 33 138.3 31 137.3 27 137.6ZM118 141 121 141.6 123 143 124.3 145 125 148 124.4 151 123.2 153 121 154.7 119 155.3 116 155.1 114 154 112.4 152 111.5 149 111.9 146 113 143.8 115 141.9 117.7 141ZM116.1 143 114.7 144 113.3 146 113.1 150 114.2 152 116 153.3 118 153.8 120 153.4 122 152 123 150.5 123.5 148 123.1 146 121 143.3 119 142.6 117 142.7ZM35 157 37 157.3 38.4 159 39.4 176 38.9 183 38 184.2 36.9 184 36 181.9 32.4 160 33.1 158 34.9 157ZM33.6 159 33.4 160 36 177.4 37 180.4 38 180.1 38.4 174 37.2 160 37 159 36 158.1 34 158.6ZM135 205 137 206 137.7 208 137.1 210 136 210.7 134 210.5 132.5 208 133 205.9 134.7 205Z"/><path fill="#ff4800" stroke="#ff4800" stroke-width=".5" d="M57 -1.2 60 -1.9 62 -1.2 63 -.2 63.4 2 62.9 3 61 4.5 58 5 55 3.8 54.4 3 54.5 1 56.5 -1ZM34 9.9 38 9.5 41 10.7 42.8 13 43.4 16 42.6 23 41.1 29 35 43.8 34 43.9 33 42.7 31 38.9 28.4 30 26.4 20 26.7 17 28.1 14 31 11.2 33.6 10ZM32.3 12 28.9 15 27.9 17 27.6 20 31 31.8 33 34.8 34 35.2 35 34.8 38 31.2 40 27.3 41.4 22 41.8 16 41 13.7 39 11.9 36 11.1 33 11.7ZM119 44.7 122 44.6 125 45.8 127 48 128 50.3 128.2 54 127.2 57 125.6 59 123 60.8 120 61.3 117 60.7 114.8 59 113.2 56 113 52.1 114 49 116 46.4 118.3 45ZM117.7 47 116 48.4 114.6 51 114.3 54 114.7 56 116 58 118 59.3 120 59.7 123 58.9 125 57.3 126.3 55 126.7 52 126.2 50 124.9 48 123 46.6 121 46.1 118 46.8ZM36 53.2 38 54.3 46.3 63 61 74.5 63 77 65 81 66.6 87 68 98 68.5 113 67.1 119 60.3 135 59.3 141 59.8 146 61.1 150 63.4 154 73.4 165 78.1 172 90.4 197 90.2 199 89 200.2 87 200.5 77 196 75 194.5 59.5 178 46 155 39.7 127 38.4 81 34.3 63 34.7 57 35.5 54ZM38.2 63 38.1 69 40.5 81 41.5 126 47.6 154 60.6 177 75.9 194 87 200 88.2 200 89.5 199 89.8 197 77 172.6 72 165.2 61.9 154 59.6 150 58.4 146 58 141 58.8 136 65.7 119 66.9 113 66.6 99 65 88 63.4 82 60.9 77 58 73.9 42 63 39 62.1ZM27 137.6 31 137.3 33 138.3 34.6 140 35.2 142 35 144 33.9 146 32 147.6 30 148.3 28 148.3 26 147.5 24.5 146 23.6 144 23.5 142 24.2 140 26.2 138ZM28.2 138 25 140 24.2 142 24.3 144 25.4 146 26.7 147 30 147.5 33 145.7 33.9 144 34.1 142 32.4 139 29 137.9ZM117 142.7 119 142.6 121 143.3 123.1 146 123.5 148 123 150.5 122 152 120 153.4 118 153.8 116 153.3 114.2 152 113.1 150 113.3 146 114.7 144 116.1 143ZM116 145 114.7 147 115 150.2 117 151.8 120 151.4 121.7 149 121.7 147 120 144.8 117 144.5ZM34 158.6 36 158.1 37 159 37.2 160 38.4 174 38 180.1 37 180.4 36 177.4 33.4 160 33.6 159Z"/><path fill="#ff1800" stroke="#ff1800" stroke-width=".5" d="M33 11.7 36 11.1 39 11.9 41 13.7 41.8 16 41.4 22 40 27.3 38 31.2 35 34.8 34 35.2 33 34.8 31 31.8 27.6 20 27.9 17 28.9 15 32.3 12ZM33.8 13 31.7 14 30 15.8 29.1 18 29 20 32 27.7 33 28.8 35 29 37 27.6 39 24.5 40 21 40.4 17 39.7 15 38 13.4 36 12.8 34 12.9ZM118 46.8 121 46.1 123 46.6 124.9 48 126.2 50 126.7 52 126.3 55 125 57.3 123 58.9 120 59.7 118 59.3 116 58 114.7 56 114.3 54 114.6 51 116 48.4 117.7 47ZM120.7 48 119 48.3 117 49.8 115.8 53 117 56.4 120 57.8 123 56.7 124.4 55 124.9 53 124 49.8 123 48.8 121 48ZM39 62.1 42 63 58 73.9 60.9 77 63.4 82 65 88 66.6 99 66.9 113 65.7 119 58.8 136 58 141 58.4 146 59.6 150 61.9 154 72 165.2 77 172.6 89.8 197 89.5 199 88.2 200 87 200 75.9 194 60.6 177 47.6 154 41.5 126 40.5 81 38.1 69 38.2 63ZM44 69 42.3 70 41.8 73 42.7 80 43.3 126 49.3 153 62 176.2 77 193.5 84.5 198 88 199.3 89 198.6 89 196.8 76 173.6 70.8 166 61.2 156 57.4 149 56.4 144 56.9 138 58.4 133 63.9 120 65.2 114 64.9 100 63.7 92 61.6 83 58.3 77 52 72.3 47 69.9 44 69ZM29 137.9 32.4 139 34.1 142 33.9 144 33 145.7 30 147.5 26.7 147 25.4 146 24.3 144 24.2 142 25 140 28.2 138ZM27.5 139 25.3 141 25 144 27 146.4 30 146.7 32.5 145 33.2 142 32.2 140 31 139.1 28 138.8ZM117 144.5 120 144.8 121.7 147 121.7 149 120 151.4 117 151.8 115 150.2 114.7 147 116 145ZM117.5 148 118 148.9 118.8 148 118 147.4Z"/><path fill="#ec0000" stroke="#ec0000" stroke-width=".5" d="M34 12.9 36 12.8 38 13.4 39.7 15 40.4 17 40 21 39 24.5 37 27.6 35 29 33 28.8 32 27.7 29 20 29.1 18 30 15.8 31.7 14 33.8 13ZM33.7 15 31.5 17 31.2 20 33 22.7 34 23.2 36 23 38 20.3 38.4 17 36.6 15 34 14.9ZM121 48 123 48.8 124 49.8 124.9 53 124.4 55 123 56.7 120 57.8 117 56.4 115.8 53 117 49.8 119 48.3 120.7 48ZM119.4 51 118.5 52 118.5 54 119.9 55 121 54.8 122 53.9 122.1 52 121.3 51 120 50.7ZM44 69 47 69.9 52 72.3 58.3 77 61.6 83 63.7 92 64.9 100 65.2 114 63.9 120 58.4 133 56.9 138 56.4 144 57.4 149 61.2 156 70.8 166 76 173.6 89 196.8 89 198.6 88 199.3 84.5 198 77 193.5 62 176.2 49.3 153 43.3 126 42.7 80 41.8 73 42.3 70 44 69ZM47.1 76 46.2 78 45.3 87 45.2 125 47 133.6 51.4 147 52.2 152 63.6 175 78 192.4 85 197 87 197.4 87.3 197 86.8 195 74 173.9 69 167.1 58.5 157 56.4 154 54.4 149 53.6 145 54.5 139 56.2 134 61.6 122 63.1 117 63.5 111 62.9 100 60.5 88 58 81.5 56 78.9 54 77.3 50 75.8 48 75.6ZM28 138.8 31 139.1 32.2 140 33.2 142 32.5 145 30 146.7 27 146.4 25 144 25.3 141 27.5 139ZM27.1 140 25.7 142 25.8 144 28 146 30 145.9 32 144.2 32.3 142 30.9 140 28 139.6ZM118 147.4 118.8 148 118 148.9 117.5 148Z"/><path fill="#c80000" stroke="#c80000" stroke-width=".5" d="M34 14.9 36.6 15 38.4 17 38 20.3 36 23 34 23.2 33 22.7 31.2 20 31.5 17 33.7 15ZM120 50.7 121.3 51 122.1 52 122 53.9 121 54.8 119.9 55 118.5 54 118.5 52 119.4 51ZM48 75.6 50 75.8 54 77.3 56 78.9 58 81.5 60.5 88 62.9 100 63.5 111 63.1 117 61.6 122 56.2 134 54.5 139 53.6 145 54.4 149 56.4 154 58.5 157 69 167.1 74 173.9 86.8 195 87.3 197 87 197.4 85 197 78 192.4 63.6 175 52.2 152 51.4 147 47 133.6 45.2 125 45.3 87 46.2 78 47.1 76ZM50.9 86 49.5 89 48.7 94 47.4 110 47.3 121 47.7 126 49.2 131 51 133.9 52 134.2 53 133.7 57 127.8 59.7 122 61 117 61.3 111 60 99.8 57 89.9 56 88 54 86 52 85.5 51 85.9ZM28 139.6 30.9 140 32.3 142 32 144.2 30 145.9 28 146 25.8 144 25.7 142 27.1 140ZM27.3 141 26.6 142 26.8 144 28 145.1 30 145 31 144 31.3 142 30 140.6 28 140.5Z"/><path fill="#b50000" stroke="#b50000" stroke-width=".5" d="M51 85.9 52 85.5 54 86 56 88 57 89.9 60 99.8 61.3 111 61 117 59.7 122 57 127.8 53 133.7 52 134.2 51 133.9 49.2 131 47.7 126 47.3 121 47.4 110 48.7 94 49.5 89 50.9 86ZM28 140.5 30 140.6 31.3 142 31 144 30 145 28 145.1 26.8 144 26.6 142 27.3 141Z"/><use href="#ov"/></svg></div>
<div class="fr" style="left:43px;top:269px"></div>
<div class="lt" style="left:46px;top:274px">d)</div>
<div class="a" style="left:40.5px;top:279.0px;width:2px;height:1px;background:#888"></div>
<div class="a" style="left:249.5px;top:279.0px;width:2px;height:1px;background:#888"></div>
<div class="a" style="left:40.5px;top:381.8px;width:2px;height:1px;background:#888"></div>
<div class="a" style="left:249.5px;top:381.8px;width:2px;height:1px;background:#888"></div>
<div class="a" style="left:40.5px;top:484.6px;width:2px;height:1px;background:#888"></div>
<div class="a" style="left:249.5px;top:484.6px;width:2px;height:1px;background:#888"></div>
<div class="a" style="left:94.0px;top:495.5px;width:1px;height:2px;background:#888"></div>
<div class="tk" style="left:85.4px;top:498.5px;width:20px;text-align:center">-71°</div>
<div class="a" style="left:197.4px;top:495.5px;width:1px;height:2px;background:#888"></div>
<div class="tk" style="left:188.8px;top:498.5px;width:20px;text-align:center">-70°</div>
<div class="tk" style="left:15px;top:273.9px;width:24px;text-align:right">-19°</div>
<div class="tk" style="left:15px;top:376.7px;width:24px;text-align:right">-20°</div>
<div class="tk" style="left:15px;top:479.5px;width:24px;text-align:right">-21°</div>
<div class="pn" style="left:258px;top:270px"><svg width="206" height="225" viewBox="0 0 206 225"><path fill="#0b1099" stroke="#0b1099" stroke-width=".5" d="M32 9.9 45 9.2 49 9.7 52.1 11 54.1 15 58.2 29 62.5 37 69.4 45 85 57.9 92.2 65 94 69.1 96 76.2 96.2 78 95 82.7 89.1 100 88.4 110 89.5 118 92.6 128 105 143 111 148 112.6 151 112.7 154 110 165.9 108.1 171 104.9 175 97 181 88.3 197 83.1 223 83 223.6 82 223.9 79 223.9 78.3 223 76.1 204 72.1 182 64.3 163 60.5 156 54.9 148 52.5 141 51.1 128 51.7 103 51.4 92 49.9 80 47.6 70 44.3 61 40.3 53 25.1 31 25.3 23 26.6 11 31.4 10Z"/><path fill="#0c14a2" stroke="#0c14a2" stroke-width=".5" d="M45 7 52 7.1 54.1 8 58.5 15 63.9 30 68.8 38 73.3 43 88 56.8 95.1 65 98.2 78 96 85.4 90.4 100 89.7 110 90.7 118 94.2 128 106.7 142 114.8 147 116.6 149 117.5 151 117.5 154 116.7 158 112.5 171 108 176 98 182.6 89.6 198 84.4 225 83 225.5 78 225.5 76.9 225 74.5 204 70.8 183 62.4 163 58.2 156 52.9 149 51 143.6 49.9 138 49.1 129 48.4 92 46.9 81 44.6 72 41.7 64 38.3 57 22.8 31 23.7 19 25.2 9 44.2 7ZM31.4 10 26.6 11 25.3 23 25.1 31 40.3 53 44.3 61 47.6 70 49.9 80 51.4 92 51.7 103 51.1 128 52.5 141 54.9 148 60.5 156 64.3 163 72.1 182 76.1 204 78.3 223 79 223.9 82 223.9 83 223.6 83.1 223 88.3 197 97 181 104.9 175 108.1 171 110 165.9 112.7 154 112.6 151 111 148 105 143 92.6 128 89.5 118 88.4 110 89.1 100 95 82.7 96.2 78 96 76.2 94 69.1 92.2 65 85 57.9 69.4 45 62.5 37 58.2 29 54.1 15 52.1 11 49 9.7 45 9.2 32 9.9Z"/><path fill="#0f20b7" stroke="#0f20b7" stroke-width=".5" d="M39 6 52 5.1 54 5.2 54.8 6 59.2 11 61.7 15 66.4 28 71.6 37 89 55.2 96.4 64 99.7 78 97 86.4 91.5 100 90.6 110 92.3 120 95 127.3 107.7 141 117.2 146 119.7 148 120.9 150 121.1 153 120.6 157 117.8 166 115 172.2 113.6 174 109.9 177 99.4 183 91 198 85.4 226 84 226.7 77 226.7 75.8 226 73.4 205 69.6 183 60.3 162 56.5 156 51.6 150 49.1 142 47.5 128 46.4 95 45.4 86 43.5 77 40.6 68 36.6 59 21.3 32 21.9 22 23.8 8 39 6ZM44.2 7 25.2 9 23.7 19 22.8 31 38.3 57 41.7 64 44.6 72 46.9 81 48.4 92 49.1 129 49.9 138 51 143.6 52.9 149 58.2 156 62.4 163 70.8 183 74.5 204 76.9 225 78 225.5 83 225.5 84.4 225 89.6 198 98 182.6 108 176 112.5 171 116.7 158 117.5 154 117.5 151 116.6 149 114.8 147 106.7 142 94.2 128 90.7 118 89.7 110 90.4 100 96 85.4 98.2 78 95.1 65 88 56.8 73.3 43 68.8 38 63.9 30 58.5 15 54.1 8 52 7.1 45 7Z"/><path fill="#1634d6" stroke="#1634d6" stroke-width=".5" d="M48 4 54 3.6 61.5 11 64.2 15 67.5 25 73.4 36 97.3 63 100.9 78 98 86.7 92.3 100 91.4 110 92.8 119 95.3 126 96.8 128 108.2 140 117 144 121.9 147 123.8 152 123.9 156 121.6 164 117 173 115.4 175 112.8 177 100 184 91.7 199 86.3 227 74.9 227 72.4 205 68.9 184 60.2 164 56.4 158 50.1 150 48.1 143 46.4 129 44.7 95 43.5 86 41.6 77 37.7 66 32.2 54 19.9 32 20.5 22 22.6 7 47.6 4ZM39 6 23.8 8 21.9 22 21.3 32 36.6 59 40.6 68 43.5 77 45.4 86 46.4 95 47.5 128 49.1 142 51.6 150 56.5 156 60.3 162 69.6 183 73.4 205 75.8 226 77 226.7 84 226.7 85.4 226 91 198 99.4 183 109.9 177 113.6 174 115 172.2 117.8 166 120.6 157 121.1 153 120.9 150 119.7 148 117.2 146 107.7 141 95 127.3 92.3 120 90.6 110 91.5 100 97 86.4 99.7 78 96.4 64 89 55.2 71.6 37 66.4 28 61.7 15 59.2 11 54.8 6 54 5.2 52 5.1 39 6Z"/><path fill="#224ce5" stroke="#224ce5" stroke-width=".5" d="M47 3 54 2.4 55 2.8 63.4 11 65.6 14 69.3 25 75 35.6 91 53.6 98.6 63 101.9 78 99 86.7 93.1 100 92 110 93.5 119 96.1 126 97.8 128 109 139.3 123 145.7 124.9 149 126.3 153 126.5 155 123.9 165 120 172 115.4 177 101 184.4 92.7 199 87.2 227 86.3 227 91.7 199 100 184 112.8 177 115.4 175 117 173 121.6 164 123.9 156 123.8 152 121.9 147 117 144 108.2 140 95.3 126 92.3 117 91.4 108 92.6 99 98 86.7 100.9 78 97.8 64 91 55.4 73.4 36 68.4 27 64.2 15 63 13 58.8 8 54 3.6 37.4 5 22.6 7 20.5 22 19.9 32 32.2 54 38.5 68 41.9 78 44.7 95 46.4 129 48.1 143 50.1 150 56.4 158 60.2 164 68.9 184 72.4 205 74.9 227 74 227 71.5 205 68 184 60.2 166 55.9 159 49.4 151 47.5 145 45.4 130 43.4 96 40.3 78 36.4 67 30.7 54 18.6 32 19.4 21 21.6 6 24 5.3 46.6 3Z"/><path fill="#2f65eb" stroke="#2f65eb" stroke-width=".5" d="M47 2 55 1.5 65.1 11 66.6 13 71.2 26 76.1 35 92 53.2 99.7 63 102.9 78 99.8 87 93.7 100 92.6 110 94.2 119 97 126.1 109 138 124 144.7 127.2 150 128.7 154 125.9 166 121.3 173 116.3 178 101.9 185 97.5 192 93.2 200 88.1 227 87.2 227 92.7 199 101 184.4 115.4 177 120 172 123.9 165 126.5 155 126.3 153 124.9 149 123 145.7 109 139.3 97 127.1 95.7 125 92.5 115 92.1 107 93.4 99 99 86.7 101.9 78 98.9 64 98 62.1 93 56 74.6 35 69.3 25 65 13 59.6 7 54 2.4 26 5.1 21.6 6 19.4 21 18.6 32 30.7 54 36.4 67 40.3 78 43.4 96 45.4 130 47.2 144 49.4 151 55.9 159 60.2 166 68 184 71.5 205 74 227 73.1 227 70.6 205 67.1 184 59.2 166 55 159.3 48.2 151 46.7 146 44.5 131 42.3 97 39.2 79 35.4 68 29.5 54 17.4 32 18.5 18 20.7 5 22 4.4 46.6 2ZM129 47 131 47 132 47.6 133.4 50 133.1 53 131 55.1 129 55.1 128 54.5 126.5 52 126.9 49 128.9 47Z"/><path fill="#3c7ee8" stroke="#3c7ee8" stroke-width=".5" d="M47 1 55 .3 66.7 11 67.4 12 71.6 24 77 34.4 100.3 62 103.8 78 100.7 87 94.4 100 93.2 110 94.8 119 97.8 126 110 137.8 125 144 128.4 149 130.8 154 127.7 167 123.4 173 117 179 102 185.9 101 187.5 94.1 200 89 227 88.1 227 93.2 200 95.3 196 101.9 185 116.3 178 122.1 172 125.9 166 128.7 154 127.2 150 124 144.7 110 138.8 98 127.2 96.4 125 93.4 116 92.6 108 93.7 100 99.8 87 102.9 78 99.7 63 92 53.2 76.1 35 70.8 25 66 12 59.1 5 55 1.5 54 1.3 23 4.3 20.7 5 18.5 18 17.4 32 29.5 54 35.4 68 39.2 79 42.3 97 44.5 131 46.5 145 48.2 151 55 159.3 59.2 166 67.1 184 70.6 205 73.1 227 72.2 227 69.8 205 66.6 185 58.9 167 54.4 160 47.7 152 45.7 146 43.7 132 41.2 97 39.5 86 37.7 78 34.6 69 28.3 54 16.1 32 17.2 16 18.8 6 19.7 4 22 3.1 46.8 1ZM128 43.9 131 43.7 133 44.5 135 46.6 136 49 136.2 52 135.7 54 134 56.8 132 58.1 129 58.5 127 57.7 125.1 56 124 53.8 123.6 51 124.1 48 126 45.1 127.8 44ZM128.9 47 126.9 49 126.5 52 128 54.5 129 55.1 131 55.1 133.1 53 133.4 50 132 47.6 131 47 129 47Z"/><path fill="#5799e4" stroke="#5799e4" stroke-width=".5" d="M47 -0 55 -.8 62.1 5 68 10.9 72.7 24 77.9 34 101.4 62 104.7 78 101.6 87 94.7 101 93.7 110 94.3 115 95.4 119 97.8 125 100 127.4 111 137.3 125 142.4 129.5 148 132.5 153 129.5 168 127.4 171 118 179.8 103 186.4 101 189.3 94.8 201 89.9 227 89 227 94.1 200 99 191.1 102 185.9 117 179 124.2 172 127.7 167 130.8 154 128.4 149 125 144 110 137.8 97.1 125 93.7 115 93.3 107 94.7 99 100.7 87 103.8 78 100.7 63 94 54.1 76.8 34 71.6 24 67 11.4 61.7 6 55 .3 22 3.1 19.7 4 18.8 6 17.2 16 16.1 32 28.8 55 34.6 69 38 79 41.3 98 43.7 132 45.7 146 47.7 152 54.4 160 58.9 167 66.6 185 69.8 205 72.2 227 71.3 227 68.9 205 65.9 185 58 167 54 160.8 46.5 152 45 147 42.8 132 40.3 98 37 79 33.5 69 27.7 55 14.7 32 14.7 24 15.4 15 17.1 5 18.3 3 21 1.6 46.8 0ZM127 41.7 130 41.1 133.3 42 136 44.3 137.9 48 138.3 52 137.6 55 136 58 133 60.4 130 61.1 127 60.5 124 58.4 122 55 121.4 51 122 47.3 123.9 44 126.4 42ZM127.8 44 126 45.1 124.1 48 123.6 51 124 53.8 125.1 56 127 57.7 129 58.5 132 58.1 134 56.8 135.7 54 136.2 52 136 49 135 46.6 133 44.5 131 43.7 128 43.9Z"/><path fill="#77b2e5" stroke="#77b2e5" stroke-width=".5" d="M47 -1.1 55 -1.8 56 -1.4 68.6 10 73.3 23 78.4 33 95.5 53 102.4 62 105.7 78 102.5 87 95.5 100 94.2 108 95 116 98.5 125 111 136.1 126 141.6 131.3 148 134.7 153 131 170 124.8 176 119 180.5 104 187 102.8 188 95.7 201 90.8 227 89.9 227 94.8 201 100 191 103 186.4 118 179.8 127.4 171 129.5 168 132.5 153 129.5 148 125 142.4 110.6 137 97.8 125 94.5 116 93.7 108 95 100 101.6 87 104.7 78 101.4 62 77.9 34 72.7 24 68.1 11 62.1 5 55 -.8 21 1.6 18.3 3 17.1 5 15.4 15 14.7 24 14.7 32 27.7 55 33.5 69 37 79 40.3 98 42.8 132 44.8 146 46.5 152 54 160.8 58 167 65.9 185 68.9 205 71.3 227 70.4 227 68 205 65 185 57.2 167 53 160.8 45.3 152 44.2 148 41.9 133 39.2 97 36 79 26.7 55 20 42.9 13.2 33 12.3 28 11.7 20 12.2 13 14 5 16 1.8 18 .4 21 -.4 46.1 -1ZM129 39 133 39.5 136.6 42 139 45.7 140 50 139.6 55 137.7 59 135 61.7 131 63.3 127 63 123.5 61 121 57.9 119.5 53 119.7 48 121.3 44 125 40.3 128.7 39ZM126.4 42 123.9 44 122 47.3 121.4 51 122 55 124 58.4 127 60.5 130 61.1 133 60.4 136 58 137.6 55 138.3 52 137.9 48 136 44.3 133.3 42 130 41.1 127 41.7ZM28 143.8 29 144.6 29.5 146 29.7 148 29.2 149 28 147.8 27.9 144Z"/><path fill="#9ccbea" stroke="#9ccbea" stroke-width=".5" d="M-1 -1.6 2.6 -2 56.9 -2 65 4.9 70 10 73.8 22 79.5 33 103.2 61 106.7 78 103.5 87 97.6 97 95.8 101 94.7 110 95.3 115 96.5 119 99.3 125 112 135.5 127 140.7 136.4 151 137.1 153 134.3 170 133.1 172 119.2 182 104.2 188 103 189.6 96.7 201 91.9 227 90.8 227 95.7 201 101 191.1 103 187.7 104 187 119 180.5 124.8 176 131 170 134.7 153 131.3 148 126 141.6 111 136.1 101 127.4 98.5 125 95.9 119 94.6 114 94.2 110 95.3 101 102.5 87 105.7 78 102.4 62 95.5 53 78.4 33 73.3 23 69 10.5 64 5.4 56 -1.4 55 -1.8 39 -.5 25 -.6 19 0 17 1 15 3 12.7 10 11.7 20 12.8 32 21 44.6 26.7 55 33.6 72 36.7 82 39.5 99 42.4 138 44.7 150 45.3 152 53 160.8 57.2 167 65 185 68 205 70.4 227 69.4 227 67.1 205 64.2 185 56.9 168 52.1 161 44.7 153 42.8 147 40.8 132 38.3 97 36.7 86 34.8 78 25.6 55 18 42 7 29.5 4 28.1 -2 27 -2 -1.1ZM128 36.9 133 37.4 137 39.8 140.2 44 141.7 49 141.6 54 139.9 59 136.7 63 132 65.4 127 65.4 123 63.5 119.2 59 117.5 54 117.7 48 119.6 43 123 39.1 127.8 37ZM128.7 39 125 40.3 121.3 44 119.7 48 119.5 53 121 57.9 123.5 61 127 63 131 63.3 135 61.7 137.7 59 139.6 55 140 50 139 45.7 136.6 42 133 39.5 129 39ZM1 79 3 78.8 5 81.4 4.9 85 3 88 .6 88 -.4 87 -1.2 85 -1 81.6 1 79ZM25 135.8 27 135.4 29 136.7 31 139.7 32.3 143 33.6 151 33.1 155 32 157.2 30 158.3 28 157.2 26 154.2 24.7 151 23.2 142 23.7 138 24.8 136ZM27.9 144 28 147.8 29.2 149 29.7 148 29.5 146 29 144.6 28 143.8Z"/><path fill="#c5e1f2" stroke="#c5e1f2" stroke-width=".5" d="M-1 -2 2.6 -2 -2 -1.1 -2 -2ZM57 -2 59 -1.8 66 4.3 70.5 9 74.7 22 80 32.2 96.6 51 104.6 61 107.8 77 107.7 79 104.6 87 96.7 100 95.3 107 95.8 115 99.4 124 102 126.6 112 134.1 128 139.4 140.3 150 144 153.9 149 157.7 151 160.6 152 164 151.7 168 150.2 172 148 174.9 145 177.2 141 178.4 134 178.2 130 178.9 120 183.4 104.9 189 97.9 201 93.1 227 91.9 227 96.7 201 103 189.6 104.2 188 119.2 182 133.1 172 134.3 170 137.1 153 136.4 151 127 140.7 112 135.5 99 124.6 95.5 116 94.7 108 96.1 100 103.5 87 106.5 79 106.6 77 103.2 61 79.5 33 73.8 22 70 10 65 4.9 56.9 -2ZM-1 27.2 4 28.1 7 29.5 17 40.6 21 46.6 25.6 55 33.8 75 36.3 84 38.1 95 40.8 133 42.8 147 44.7 153 52.1 161 56.9 168 64.2 185 67.1 205 69.4 227 68.2 227 63.3 185 59.1 174 56 167.9 51 161 43.1 153 41.4 148 39.7 136 37.4 96 35.7 85 33.2 76 24.9 56 18 44.3 14 39.9 10 37.3 5 36.5 -2 37.1 -2 27ZM127 34.9 132 35 137 37.3 141.1 42 143.3 48 143.2 55 141 60.8 137 65.4 132 67.8 129 68.2 126 67.7 121 65 117.6 61 115.4 55 115.5 48 117.8 42 122 37.2 126.8 35ZM127.8 37 123 39.1 119.6 43 117.7 48 117.5 54 119.2 59 123 63.5 127 65.4 132 65.4 136.7 63 139.9 59 141.6 54 141.7 49 140.2 44 137 39.8 133 37.4 128 36.9ZM0 75.7 2 75.2 4.3 76 6.2 78 7.2 81 7.1 85 6.2 88 5 90.3 3 92.1 0 92.2 -2 90.7 -2 77.4 -.4 76ZM1 79 -1 81.6 -1.2 85 -.4 87 .6 88 3 88 4.9 85 5 81.4 3 78.8 1 79ZM24 131.5 27 131.3 30 133.4 33.4 139 35.5 145 36.2 151 35.6 156 34 160.3 31 163.5 28 163.5 25.8 162 23.7 159 21.5 153 20.2 146 20 139 20.8 135 23 132ZM24.8 136 23.7 138 23.2 142 24.7 151 26 154.2 28 157.2 30 158.3 32 157.2 33.1 155 33.6 151 32.3 143 31 139.7 29 136.7 27 135.4 25 135.8Z"/><path fill="#e6f3fa" stroke="#e6f3fa" stroke-width=".5" d="M59 -2 61.1 -2 71 7.8 75.7 22 81 32 105.7 59 106.6 61 109.3 79 106 87 97.3 100 95.7 107 96.3 115 97.6 119 100.1 124 103 126.5 113 133 128 136.9 137 142.2 148 145.1 153 147.4 156.4 150 159.7 154 161.8 158 163.1 163 162.9 171 160.5 178 155 185.8 149 190.5 145 191.8 141 191.7 137 190.3 129 185.6 125 184.8 115 186.7 106 190 103 194.3 98.9 202 94.7 227 93.1 227 97.6 202 101 195.2 104.9 189 120 183.4 130 178.9 134 178.2 141 178.4 145 177.2 148 174.9 150.2 172 151.7 168 152 164 151 160.6 149 157.7 144 153.9 140.3 150 128 139.4 112 134.1 102 126.6 99.4 124 95.8 115 95.3 107 96.7 100 104.6 87 107.7 79 107.8 77 104.6 61 95.8 50 80.6 33 74.7 22 70.5 9 66 4.3 58.8 -2ZM126 32.8 132 32.7 135 33.7 138 35.5 140.6 38 142.7 41 144.9 47 145.2 54 143 61.4 139 66.7 136 68.9 133 70.3 127 70.8 121 68.6 117.8 66 115.4 63 112.9 57 112.9 49 115.2 42 117.1 39 119.9 36 125.3 33ZM126.8 35 122 37.2 117.8 42 115.5 48 115.4 55 117.6 61 121 65 126 67.7 129 68.2 132 67.8 137 65.4 141 60.8 143.2 55 143.3 48 141.1 42 137 37.3 132 35 127 34.9ZM0 36.9 5 36.5 9 37 12 38.4 16 41.9 20 47.3 24.4 55 33 75.4 35.5 84 37.4 96 39.7 136 41.4 148 43.1 153 51 161 56 167.9 59.1 174 63.3 185 68.2 227 66.6 227 62.9 187 59.9 178 56 169.4 52 163.6 45 156.7 40 153.6 38.7 155 34 165.4 32 167.8 26.5 172 25.3 174 24.4 177 24 184 24.5 193 28.7 226 28 227 26 227 17.4 226 13.7 224 11.7 221 10.8 215 12.3 193 11.5 157 12.5 148 15.7 135 17.2 132 20 129.6 24 128.3 28 128.4 31 130.2 36 135.9 37 135.2 37.6 126 36.9 100 35.6 89 33.4 79 30 70.3 21 51.4 16 44.7 14 43 11 41.6 9 41.3 5 42 -2 44.6 -2 37.1 -.5 37ZM23 132 20.8 135 20 139 20.2 146 21.5 153 23.7 159 25.8 162 28 163.5 31 163.5 34 160.3 35.6 156 36.2 151 35.5 145 33.4 139 30 133.4 27 131.3 24 131.5ZM-1 72.6 2 72.1 5 73.3 7.5 76 8.6 79 8.7 84 7.7 89 5 94.8 3 96.8 0 97.2 -2 96.3 -2 90.7 1 92.5 3 92.1 4.4 91 6.9 86 7 80.1 5.5 77 3 75.3 0 75.7 -2 77.4 -1.9 73Z"/><path fill="#fefee2" stroke="#fefee2" stroke-width=".5" d="M62 -2 64.1 -2 72 7 76.2 21 82 31.8 100 49.8 105 54 107 54.5 108 53.8 111.7 43 115.3 37 119 33.4 123 31 128 29.9 134 30.8 139.5 34 143.9 39 146.5 45 147.4 52 146.3 59 143.6 65 140.4 69 137 71.7 134 73.2 130 74.3 124 74 120 72.6 114 69.4 113 69.3 112.3 70 111.7 72 111.6 79 109.7 84 107.2 88 100 96.6 97.5 101 96.1 109 97 116 101 124.1 106 127.5 114 131.3 129 133.1 136 134.5 149 135.8 156 138.4 162 142.4 167.7 148 172.5 155 182 174.6 190.9 189 193.2 196 193.5 201 192.8 205 191 209.3 188 213.3 184 216.4 180 218.3 175 219.4 170 219.6 165 218.9 158 217.1 151 214.6 147 212.4 143 208.8 132.4 196 125 190 122 188.9 119 188.5 115 188.9 111 190 106.6 192 100.8 202 97.2 227 94.7 227 98.9 202 103 194.3 106 190 115 186.7 125 184.8 129 185.6 137 190.3 141 191.7 145 191.8 149 190.5 155 185.8 160.5 178 162.9 171 163.1 163 161.8 158 159.7 154 156.4 150 153 147.4 148 145.1 137 142.2 128 136.9 113 133 103 126.5 100 123.8 96.3 115 95.7 107 97.3 100 106 87 109.3 79 106.6 61 105.7 59 81 32.1 75.7 22 71.1 8 67 3.4 61.1 -2ZM125.3 33 119.9 36 117.1 39 115.2 42 112.9 49 112.9 57 115.4 63 117.8 66 121 68.6 127 70.8 133 70.3 136 68.9 139 66.7 143 61.4 145.2 54 144.9 47 142.7 41 140.6 38 138 35.5 135 33.7 132 32.7 126 32.8ZM5 42 10 41.4 14 43 19 48.3 23.6 56 31 72.6 33.7 80 35.9 91 37.1 104 37.6 127 37 135.2 36 135.9 31 130.2 28 128.4 24 128.3 20 129.6 17.2 132 15.7 135 12.5 148 11.5 157 12.3 193 10.8 215 11.7 221 13.7 224 17.4 226 26 227 28 227 28.7 226 24.5 193 24 184 24.4 177 25.3 174 26.5 172 32 167.8 34 165.4 38.7 155 40 153.6 43 155.1 46 157.5 53 164.8 57 171.3 61 181 62.9 187 66.6 227 64.2 227 61.9 187 59 178 55.9 171 52 165 46 159.3 42 157.5 41 157.7 39.7 159 31.1 175 29.5 179 28.8 183 28.7 190 29.6 198 36 227 -2 227 -2 96.3 0 97.2 2 97.2 4 96.1 5 94.8 8 88 8.8 82 8 77.1 5.9 74 4 72.7 2 72.1 -2 73.1 -2 67.4 3 68.8 6 70.7 8.8 74 9.9 77 9.9 85 6.3 100 5.7 105 6.5 111 7.6 115 11 122 14 124.8 17 125.8 28 125.5 34 126.3 35 124.9 35.4 123 36 115.4 36.1 102 35.4 93 33.6 83 31 75 21.9 56 18 50 15 47 12 45.6 8 46 2.5 49 -2 53.3 -2 44.6 4.9 42Z"/><path fill="#fdfd83" stroke="#fdfd83" stroke-width=".5" d="M65 -2 68.6 -2 72 3.6 73.6 7 75 14.1 77 20.5 79.6 26 82.7 31 91 38.7 101 45.9 103 46.4 105 45.7 111.4 37 116 32 121 28.4 125 27 131 27.1 137 29.3 142 33 146 38 148.9 45 149.7 53 148.3 61 145.1 68 141 73.2 136 77.1 130 79.8 120 81.2 118 81.9 103 94.1 99 99.2 97.2 104 96.6 110 97.6 116 99.2 120 102 124.1 107 127 112 128.5 116 128.6 118 128 121.6 126 128 121.1 131 120.2 140 121.2 150 123.8 157 126.6 164 130.2 183 143 190 147.1 198 150.5 208 153.5 208 227 124.2 227 129 223 132 218.2 133.3 213 132.9 207 130.2 201 126 196.2 121 193 116 192.1 112 192.8 108.9 194 105.8 198 103.1 204 102.7 211 103.3 217 105 222.8 107.6 227 97.2 227 100.8 202 106.6 192 112 189.7 119 188.5 122 188.9 125 190 132.4 196 143 208.8 147 212.4 151 214.6 157 216.8 169 219.5 174 219.5 179 218.6 183 217 187.3 214 190.6 210 192.5 206 193.4 202 193.4 197 192.5 193 190.9 189 182 174.6 172.5 155 167.7 148 162.7 143 156 138.4 149 135.8 136 134.5 129 133.1 114 131.3 106 127.5 101 124.1 97 116 96.1 109 97.5 101 100 96.6 107.2 88 109.7 84 111.6 79 111.7 72 112.3 70 113 69.3 114 69.4 120 72.6 124 74 130 74.3 134 73.2 137 71.7 140.4 69 143.6 65 146.3 59 147.4 52 146.5 45 143.9 39 139.5 34 134 30.8 128 29.9 123 31 119 33.4 115.3 37 111.7 43 108 53.8 107 54.5 105 54 100 49.8 82 31.8 76.2 21 72 7 64.1 -2ZM8 46 11 45.5 14 46.4 16 47.8 19 51.3 22 56.2 29 70.5 32.8 80 35.1 91 36.1 103 35.7 120 35 124.9 34 126.3 28 125.5 19 126 15 125.2 12.9 124 11 122 7.6 115 6.3 110 5.8 104 6.5 99 9.7 86 10.1 78 8.8 74 6 70.7 3 68.8 -2 67.4 -2 53.3 2.5 49 7.9 46ZM8.5 51 4.6 55 3.6 57 3.1 60 4.4 64 10.2 71 11.5 75 11.4 82 8.9 100 9.2 106 10.6 112 13.8 119 16 121.4 18 122.7 23 123.7 31 121.9 33 120 34 117 35.1 105 34.5 92 32 80.2 28 71 18 54 14 50.5 12 50.1 9 50.7ZM41 157.7 43 157.6 45 158.6 52 165 56 171.1 60 181 62 188 64.2 227 36 227 29.8 199 28.8 191 28.7 184 29.3 180 30.6 176 40.6 158ZM41.9 161 40 163.2 38 167 34.3 175 32.6 180 31.8 187 32.7 196 36 207.4 39 213.6 42 218.2 46 222.8 49 225.1 52 226.2 54 225.7 56 223.3 57 221 60 208.9 60.9 198 60.7 187 57 175.4 53 168 50 164.5 47 162 44 160.6 42 160.9Z"/><path fill="#ffff30" stroke="#ffff30" stroke-width=".5" d="M69 -2 74.6 -2 74.4 2 76.3 15 78.2 21 81.3 27 84 30.7 87 33.5 95 38.6 100 39.8 104 38.6 108 35.5 119 24.9 122 23.1 125 22.3 130 22.8 135 24.6 140 27.5 145.1 32 148.9 37 151.2 42 152.5 47 152.9 53 152.3 59 150.4 66 141.6 85 141.4 89 143 93.6 148.7 101 157.1 108 169 114.6 180 118.4 188 119 196 117.1 202.7 113 208 107.1 208 153.5 198 150.5 190 147.1 183 143 163 129.7 155 125.7 146 122.6 136 120.5 130 120.3 127 121.7 120 127 115 128.7 108 127.4 101.9 124 98.3 118 96.7 112 97 105 99 99.2 104 93.1 118 81.9 121 81 128 80.3 133 78.7 138 75.8 142 72.1 146.2 66 148.9 59 149.8 51 148.7 44 145.4 37 140 31.2 134 27.9 127 26.8 122 27.9 117 31.1 112.2 36 105 45.7 103 46.4 100 45.4 89 37.1 82 30 76.8 20 73.2 6 68.6 -2ZM108.5 92 104 94.5 99.2 100 97.2 107 97.3 113 99.4 119 103 123.9 109 126.5 114 126.3 118 123.8 121.5 119 123.6 112 123.5 105 121.5 99 118 94.3 114 91.9 112 91.5 109 91.8ZM9 50.7 12 50.1 14 50.5 18 54 28 71 32 80.2 34.5 92 35.1 105 34 117 33 120 31 121.9 23 123.7 18 122.7 16 121.4 13.8 119 10.6 112 9.2 106 8.9 100 11.4 82 11.5 75 10.2 71 4.4 64 3.1 60 3.6 57 4.6 55 8.5 51ZM12.3 58 11.2 59 10.9 61 13.2 67 13.7 72 10.6 96 10.6 102 11.5 108 13.9 115 17 119.3 21 121.5 26 121.3 29 119.9 31 118 33.3 112 34.2 100 32.9 87 31 79.9 27 71.8 24 67.8 16 59.3 13 57.8ZM42 160.9 44 160.6 47 162 50 164.5 53 168 57 175.4 60.7 187 60.9 198 60 208.9 57 221 56 223.3 54 225.7 52 226.2 49 225.1 46 222.8 42 218.2 39 213.6 36 207.4 32.7 196 31.8 187 32.6 180 34.3 175 38 167 40 163.2 41.9 161ZM42.9 164 41 166 39 169.5 35.4 179 34.5 187 35.4 195 38.2 203 40 206 43 209.3 45 210.5 48 211.3 51 210.7 53 209.5 56 205.9 58 200.7 59.2 192 58.8 185 56 175.6 52 168.6 47 164.2 45 163.5 43 164ZM112 192.8 118 192.2 123 194 128.8 199 132.3 205 133.4 211 132.4 217 129 223 124.2 227 107.6 227 105 222.8 102.9 214 103.1 204 104.7 200 107 196.2 108.9 194 111.2 193ZM113.7 197 110.5 199 108.2 203 107.6 207 108.5 211 111 214.7 114 216.8 118 217.8 122 217.2 125 215.3 127.2 212 127.9 208 126.9 204 124.1 200 121 197.7 118 196.7 114 196.9Z"/><path fill="#ffff00" stroke="#ffff00" stroke-width=".5" d="M75 -2 79.4 -2 77.3 3 76.9 11 78.3 18 81.4 25 85 29.9 89 33 94 35.4 98 35.9 103 34.7 109 30.4 115.4 23 119.5 16 120.8 12 120.6 8 118.3 3 114.5 -2 133.2 -2 130.6 2 128.8 6 128.4 9 129.1 12 133.2 17 144 25.7 149.5 31 154 37 156.8 43 157.8 47 158.3 53 157 73 157.7 77 158.8 80 162 84.4 167 88.6 172 91.1 178 92.1 183 91.2 187 88.9 190.4 85 193 79.5 194.2 74 194.5 68 192.1 49 192.3 43 194.3 37 201.2 23 203.3 14 202.8 6 199.6 -2 208 -2 208 107.1 203 112.8 198 116.2 192 118.4 186 119 181 118.5 175 117 168 114.2 161 110.5 155 106.5 149.7 102 145.2 97 142.7 93 141.4 89 141.6 85 150.4 66 152 60 152.8 54 152.6 48 151.2 42 148.9 37 145.1 32 140 27.5 135 24.6 130 22.8 125 22.3 122 23.1 119 24.9 107 36.4 103 39.1 99 39.8 94 38.2 89 35.1 84.3 31 79.1 23 75.9 13 74.4 2 74.6 -2ZM13 57.8 16 59.3 24 67.8 27 71.8 31 79.9 32.9 87 34.2 100 33.3 112 31 118 29 119.9 26 121.3 21 121.5 17 119.3 13.9 115 11.5 108 10.6 102 10.6 96 13.7 72 13.2 67 10.9 61 11.2 59 12.3 58ZM18.9 70 17 72 15.6 75 12.8 87 11.7 97 12.5 106 15.1 114 17 116.8 19 118.7 23 119.9 26 119.3 28 118.1 31.1 114 32.9 107 33.3 98 32.3 88 30.1 80 27 74.2 23 70.2 21 69.5 19 69.9ZM109 91.8 112 91.5 114 91.9 118 94.3 121.5 99 123.5 105 123.6 112 121.5 119 118 123.8 114 126.3 109 126.5 103 123.9 99.4 119 97.3 113 97.2 107 99.2 100 104 94.5 108.5 92ZM107.8 94 104 95.8 100 100 97.9 106 97.7 112 99.5 118 103 122.9 107 124.8 112 124.9 116 122.6 119.3 118 120.9 113 121 107 119.7 102 116.5 97 112 94.1 108 93.9ZM43 164 45 163.5 47 164.2 52 168.6 56 175.6 58.8 185 59.2 192 58 200.7 56 205.9 53 209.5 51 210.7 48 211.3 45 210.5 43 209.3 40 206 38.2 203 35.4 195 34.5 187 35.4 179 39 169.5 41 166 42.9 164ZM44 167 41 170.3 38 177.5 36.9 184 37.2 191 39 197.2 42 202 46 204.6 50 204.3 53.1 202 55.9 197 57.2 191 57.2 185 55.6 178 52.7 172 49 167.8 47 166.8 45 166.6ZM114 196.9 118 196.7 121 197.7 124.1 200 126.9 204 127.9 208 127.2 212 125 215.3 122 217.2 118 217.8 114 216.8 111 214.7 108.5 211 107.6 207 108.2 203 110.5 199 113.7 197ZM116.8 203 114.7 205 114.9 208 117 210.1 120 210 121.6 208 121.1 205 119 203.1 117 202.9Z"/><path fill="#ffd200" stroke="#ffd200" stroke-width=".5" d="M79 -1.4 79.4 -2 83.1 -2 80.2 2 78.6 7 78.4 12 79.5 18 83 25.2 86 28.8 89 31 95 33.1 101 32.4 107 28.8 112 23 114.8 17 115.4 10 113.6 4 109.4 -2 114.5 -2 117.6 2 120.3 7 120.9 10 120.6 13 117.4 20 110.4 29 107 32.1 103 34.7 100 35.7 97 35.9 94 35.4 90 33.6 86 30.8 83 27.4 80.3 23 78.3 18 77.1 13 76.8 8 77.3 3 78.8 -1ZM133 -1.7 144.4 -2 141.4 3 140.3 8 141.1 13 143.4 17 149.2 23 157 28.8 163 31.5 169 32.3 175 31.6 181 29.7 186 26.9 190 23.3 194 17 195.3 11 194.4 4 191.1 -2 199.6 -2 202.8 6 203.3 10 203.2 15 201 23.5 194.3 37 192.3 43 192.1 49 194.2 64 194.4 72 192.8 80 189.7 86 187 88.9 184 90.8 180 92 176 92 171.8 91 167 88.6 163 85.4 160 81.9 158 78 157 73.1 158.3 53 157.8 47 156.8 43 154 37 149.5 31 144 25.7 133.2 17 129.7 13 128.5 10 128.5 7 130 3 132.5 -1ZM19 69.9 21 69.5 23 70.2 27 74.2 30.1 80 32.3 88 33.3 98 32.9 107 31.1 114 28 118.1 26 119.3 23 119.9 19 118.7 17 116.8 15.1 114 12.5 106 11.7 97 12.8 87 15.6 75 17 72 18.9 70ZM20.8 73 19 73.9 17.3 76 15 81.7 13 92 12.8 101 14.4 109 17 114.5 19 116.7 21 117.9 23 118.2 25 117.9 28.7 115 31.1 110 32.4 102 32.3 94 30.7 85 28 78.1 25 74.3 23 73.1 21 72.9ZM108 93.9 112 94.1 116.5 97 119.7 102 121 107 120.9 113 119.3 118 116 122.6 112 124.9 107 124.8 103 122.9 99.5 118 97.7 112 97.9 106 100 100 104 95.8 107.8 94ZM106 96 102 98.7 99.8 102 98.1 108 98.4 113 100.2 118 104 122.6 107 123.7 111 123.6 115 121.2 117.4 118 119.2 113 119.2 107 117.7 102 114.7 98 111 95.8 107 95.7ZM45 166.6 47 166.8 49 167.8 52.7 172 55.6 178 57.2 185 57.2 191 55.9 197 53.1 202 50 204.3 46 204.6 42 202 39 197.2 37.2 191 36.9 184 38 177.5 41 170.3 44 167ZM44 171 41.2 175 39.6 180 39.1 186 39.8 191 42 196.2 45 199 48 199.5 51 198 53.3 195 54.9 190 55.2 185 54.4 180 53 175.9 50 171.6 47 170 44 171ZM117 202.9 119 203.1 121.1 205 121.6 208 120 210 117 210.1 114.9 208 114.7 205 116.8 203Z"/><path fill="#ffa800" stroke="#ffa800" stroke-width=".5" d="M83 -1.9 86.5 -2 82.7 2 80.5 7 79.9 13 81.2 19 83.8 24 87 27.5 91 29.9 96 30.9 100 30.3 104.6 28 108 24.8 111.1 20 112.7 14 112.2 8 109.4 2 105.5 -2 109.4 -2 110 -1.3 114.1 5 115.5 12 114.1 19 109.8 26 104 31 101 32.4 98 33.1 92 32.4 86 28.8 83 25.2 81.1 22 78.6 14 78.4 10 78.8 6 80.2 2 82.2 -1ZM144 -1.4 144.4 -2 155.1 -2 151.5 2 149.9 6 149.9 10 151.6 14 155 17.5 159 19.9 164 21.4 170 21.9 175 21.3 179 20.1 182 18.4 184.6 16 186.8 12 187.2 7 185.4 2 181.7 -2 191.1 -2 194.4 4 195.4 10 194.4 16 191.1 22 185 27.5 181 29.7 176 31.4 171 32.2 167 32.2 163 31.5 159 29.9 154 26.8 148 22 144.1 18 141.5 14 140.5 11 140.3 7 141.4 3 143.7 -1ZM21 72.9 23 73.1 25 74.3 28 78.1 30.7 85 32.3 94 32.4 102 31.1 110 28.7 115 25 117.9 23 118.2 21 117.9 19 116.7 17 114.5 14.4 109 12.8 101 13 92 15 81.7 17.3 76 19 73.9 20.8 73ZM20.3 76 19 77 17 79.9 15 85.8 13.7 94 13.9 102 15.5 109 18 113.7 21 116.1 23 116.5 25 116.1 28.3 113 30.4 108 31.5 101 31.4 93 30 85.6 27.7 80 26 77.5 24 75.9 21 75.6ZM107 95.7 111 95.8 114.7 98 117.7 102 119.2 107 119.2 113 117.4 118 115 121.2 111 123.6 107 123.7 104 122.6 100.2 118 98.4 113 98.1 108 99.8 102 102 98.7 106 96ZM104.6 98 101.2 101 99.3 105 98.6 110 99.2 114 101.7 119 105 121.9 109 122.6 112 121.6 115 119 117.2 115 118 110 117.3 105 115.2 101 112 98.1 109 97.1 105 97.8ZM44 171 47 170 50 171.6 53 175.9 54.4 180 55.2 185 54.9 190 53.3 195 51 198 48 199.5 45 199 42 196.2 39.8 191 39.1 186 39.6 180 41.2 175 44 171ZM45 175 43 177.6 42 180.5 41.6 184 42 188.2 43 191 45 193.5 47 194.3 49.9 193 51.7 190 52.5 187 52 180 51 177.4 49 175 47 174.3 45 175Z"/><path fill="#ff7800" stroke="#ff7800" stroke-width=".5" d="M86 -1.6 90.6 -2 86 1.1 82.7 6 81.5 11 82.1 17 84 21.5 86.7 25 90 27.4 94 28.7 99 28.5 104 26 108 21.5 110.2 16 110.4 10 108.7 5 105.7 1 101.2 -2 105.5 -2 109.4 2 112.2 8 112.5 15 110.6 21 105.8 27 103 29 100 30.3 94 30.7 91 29.9 88 28.3 84 24.2 80.9 18 79.9 11 80.5 7 81.6 4 85.3 -1ZM154 -1 155.1 -2 181.7 -2 185.4 2 187.2 7 186.8 12 185.4 15 183.7 17 181 19 178 20.5 171 21.8 163 21.2 157 18.9 152.3 15 149.9 10 149.7 7 150.5 4 154 -1ZM166 3 164.4 4 163 6 163.6 9 167 11.2 172 11.1 174 10 175 8.8 175.4 7 174.6 5 171.9 3 169 2.5 167 2.7ZM21 75.6 24 75.9 26 77.5 27.7 80 30 85.6 31.4 93 31.5 101 30.4 108 28.3 113 25 116.1 23 116.5 21 116.1 18 113.7 15.5 109 13.9 102 13.7 94 15 85.8 17 79.9 19 77 20.3 76ZM21.2 78 19.6 79 18 81 16 85.9 14.7 93 14.6 100 15.9 107 18 111.5 21 114.4 24 114.6 27 112.5 29.3 108 30.5 102 30.7 95 29.9 89 28 83 25 78.8 22 77.8ZM105 97.8 109 97.1 112 98.1 115.2 101 117.3 105 118 110 117.2 115 115 119 112 121.6 109 122.6 105 121.9 101.7 119 99.2 114 98.6 110 99.3 105 101.2 101 104.6 98ZM105.2 99 102 101.4 100 105 99.3 109 99.6 113 101 116.6 104 120 107 121.3 110 121 113 119.2 115.3 116 116.5 112 116.4 107 114.8 103 112.2 100 109 98.6 106 98.7ZM45 175 47 174.3 49 175 51 177.4 52 180 52.5 187 51.7 190 49.9 193 47 194.3 45 193.5 43 191 42 188.2 41.6 184 42 180.5 43 177.6 45 175Z"/><path fill="#ff4800" stroke="#ff4800" stroke-width=".5" d="M89 -1.2 90.6 -2 101.2 -2 105.7 1 108.7 5 110.5 11 110 17 107 22.9 103 26.7 98 28.7 95 28.8 92 28.3 87 25.3 83.7 21 81.7 15 81.8 9 84.4 3 88.6 -1ZM94.7 -1 90 .5 86 3.9 83.5 9 83.1 14 84.9 20 88 23.9 92 26.3 97 26.8 102 25 105.3 22 107.9 17 108.6 12 107.4 7 104 2.1 100 -.3 95 -1ZM167 2.7 169 2.5 171.9 3 174.6 5 175.4 7 175 8.8 174 10 172 11.1 167 11.2 163.6 9 163 6 164.4 4 166 3ZM22 77.8 25 78.8 28 83 29.9 89 30.7 95 30.5 102 29.3 108 27 112.5 24 114.6 21 114.4 18 111.5 15.9 107 14.6 100 14.7 93 16 85.9 18 81 19.6 79 21.2 78ZM20.1 81 17.9 84 16 90 15.4 96 15.8 102 17 107 19.2 111 22 112.9 25 112.3 27.1 110 29 105 29.9 99 29.7 93 28.1 86 26 82.1 24 80.4 21 80.4ZM106 98.7 109 98.6 112.2 100 114.8 103 116.4 107 116.5 112 115.3 116 113 119.2 110 121 107 121.3 104 120 101 116.6 99.6 113 99.3 109 100 105 102 101.4 105.2 99ZM106.6 100 104 101 102 103 100.3 107 100 111 101 114.8 103 117.8 106 119.7 109 119.8 112 118.1 113.8 116 115 113 115.3 109 114.3 105 112.3 102 110 100.5 107 99.9Z"/><path fill="#ff1800" stroke="#ff1800" stroke-width=".5" d="M95 -1 100 -.3 104 2.1 107.4 7 108.6 12 107.9 17 105.3 22 102 25 97 26.8 92 26.3 88 23.9 84.9 20 83.1 14 83.5 9 86 3.9 90 .5 94.7 -1ZM95.7 1 91.4 2 88 4.5 85.8 8 84.8 13 85.9 18 88 21.3 92 24.1 96 24.8 100 23.8 103.6 21 105.9 17 106.6 13 106 9 103.9 5 100.2 2 96 1ZM21 80.4 24 80.4 26 82.1 28.1 86 29.7 93 29.9 99 29 105 27.1 110 25 112.3 22 112.9 19.2 111 17 107 15.8 102 15.4 96 16 90 17.9 84 20.1 81ZM20.7 83 18.4 86 17 90.3 16.3 96 16.8 102 18 106.4 20 109.7 22 110.9 25 110.1 27 107.4 28.4 103 28.9 98 28.7 93 27.9 89 26 84.7 24 82.7 22 82.4 21 82.8ZM107 99.9 110 100.5 112.3 102 114.3 105 115.3 109 115 113 113.8 116 112 118.1 109 119.8 106 119.7 103 117.8 101 114.8 100 111 100.3 107 102 103 104 101 106.6 100ZM105.1 102 103 103.6 101.6 106 100.9 109 101.1 112 102 114.7 104 117.1 106 118.2 109 118.1 111 117 113 114.4 113.9 111 113.8 108 112.7 105 111 103 109 101.8 106 101.7Z"/><path fill="#ec0000" stroke="#ec0000" stroke-width=".5" d="M96 1 100.2 2 103.9 5 106 9 106.6 13 105.9 17 103.6 21 100 23.8 96 24.8 92 24.1 88 21.3 85.9 18 84.8 13 85.8 8 88 4.5 91.4 2 95.7 1ZM92.4 4 89.6 6 87.6 9 86.9 12 87.3 16 89 19.2 92 21.7 95 22.5 98.4 22 101.4 20 103.5 17 104.3 14 104 10 102.6 7 100 4.5 97 3.4 93 3.8ZM21 82.8 22 82.4 24 82.7 26 84.7 27.9 89 28.7 93 28.9 98 28.4 103 27 107.4 25 110.1 22 110.9 20 109.7 18 106.4 16.8 102 16.3 96 17 90.3 18.4 86 20.7 83ZM21.8 85 20 86.4 18.3 90 17.6 94 17.5 99 18.2 103 20 107.1 22 108.7 24 108.4 26 106.1 27 103.6 27.8 99 27.8 95 27.2 91 26 87.7 24 85.3 22 84.9ZM106 101.7 109 101.8 111 103 112.7 105 113.8 108 113.9 111 113 114.4 111 117 109 118.1 106 118.2 104 117.1 102 114.7 101.1 112 100.9 109 101.6 106 103 103.6 105.1 102ZM105 104 102.6 107 102 109.8 102.3 112 103.1 114 105 115.9 107 116.5 109 116.1 110.4 115 111.7 113 112.3 111 112.1 108 110 104.6 108 103.6 106 103.6Z"/><path fill="#c80000" stroke="#c80000" stroke-width=".5" d="M93 3.8 97 3.4 100 4.5 102.6 7 104 10 104.3 14 103.5 17 101.4 20 98.4 22 95 22.5 92 21.7 89 19.2 87.3 16 86.9 12 87.6 9 89.6 6 92.4 4ZM93 7 91 8.7 90 10.6 89.6 13 90 15.3 91 17.1 93 18.8 95 19.4 97.5 19 99.1 18 100.7 16 101.3 14 101.2 11 100 8.6 98.1 7 96 6.4 94 6.6ZM22 84.9 24 85.3 26 87.7 27.2 91 27.8 95 27.8 99 27 103.6 26 106.1 24 108.4 22 108.7 20 107.1 18.2 103 17.5 99 17.6 94 18.3 90 20 86.4 21.8 85ZM20.9 89 18.9 94 19.2 101 20 103.5 22 105.7 24 105.2 25 104 26.4 99 26 92.5 24 88.6 23 88 21 88.8ZM106 103.6 108 103.6 110 104.6 112.1 108 112.3 111 111.7 113 110.4 115 109 116.1 107 116.5 105 115.9 103.1 114 102.3 112 102 109.8 102.6 107 105 104ZM105.5 107 104.2 109 104.2 111 106 113.3 108 113.2 109.2 112 109.5 109 108 106.8 106 106.7Z"/><path fill="#b50000" stroke="#b50000" stroke-width=".5" d="M94 6.6 96 6.4 98.1 7 100 8.6 101.2 11 101.3 14 100.7 16 99.1 18 97.5 19 95 19.4 93 18.8 91 17.1 90 15.3 89.6 13 90 10.6 91 8.7 93 7ZM21 88.8 23 88 24 88.6 26 92.5 26.4 99 25 104 24 105.2 22 105.7 20 103.5 19.2 101 18.9 94 20.9 89ZM106 106.7 108 106.8 109.5 109 109.2 112 108 113.2 106 113.3 104.2 111 104.2 109 105.5 107Z"/><use href="#ov"/></svg></div>
<div class="fr" style="left:258px;top:269px"></div>
<div class="lt" style="left:261px;top:274px">e)</div>
<div class="a" style="left:255.5px;top:279.0px;width:2px;height:1px;background:#888"></div>
<div class="a" style="left:464.5px;top:279.0px;width:2px;height:1px;background:#888"></div>
<div class="a" style="left:255.5px;top:381.8px;width:2px;height:1px;background:#888"></div>
<div class="a" style="left:464.5px;top:381.8px;width:2px;height:1px;background:#888"></div>
<div class="a" style="left:255.5px;top:484.6px;width:2px;height:1px;background:#888"></div>
<div class="a" style="left:464.5px;top:484.6px;width:2px;height:1px;background:#888"></div>
<div class="a" style="left:309.0px;top:495.5px;width:1px;height:2px;background:#888"></div>
<div class="tk" style="left:300.4px;top:498.5px;width:20px;text-align:center">-71°</div>
<div class="a" style="left:412.4px;top:495.5px;width:1px;height:2px;background:#888"></div>
<div class="tk" style="left:403.8px;top:498.5px;width:20px;text-align:center">-70°</div>
<div class="pn" style="left:474px;top:270px"><svg width="206" height="225" viewBox="0 0 206 225"><path fill="#0b1099" stroke="#0b1099" stroke-width=".5" d="M42 18.7 49 19.4 52 20.5 54.1 22 56 24.3 60.4 33 64.4 39 70 44.8 76 49.1 82 52.2 89 54.8 113 60.2 118 62.8 121.3 66 121.5 68 120.5 71 115.9 78 100 88.1 92.1 97 86.8 111 86.2 115 86.4 119 88.1 123 90.7 126 107 138.5 129.6 145 134.5 147 139.7 150 141.6 152 142.4 160 140.8 166 139 170 134.3 172 125 174.1 105 173.6 103 174 100 176 90.5 187 87.3 197 86.4 203 86.5 206 88.5 210 100 223.2 99 223.6 80 223.9 79 223.9 78.3 223 76.4 204 72 183 67 174.1 60.4 160 51.9 148 49 141.5 47.1 130 48.4 100 46.4 83 44.5 74 37 52.6 31 30 33 23.7 41.3 19Z"/><path fill="#0c14a2" stroke="#0c14a2" stroke-width=".5" d="M41 16.9 43 16.6 50.7 17 57 18.8 61 23.8 67.8 36 71 39.7 75 43 82 47.1 90 50.4 95 51.5 110 53.5 117.7 56 122 60.1 125.8 67 125.8 68 124 71 117 79.7 101 89.4 93.9 97 92.8 99 88.5 111 87.9 115 88.1 119 89.4 122 93 126 108 137.3 132.4 144 143.6 149 145 154 145.8 160 143 168.8 141 172.5 136 174 125 176 104 175.3 101.2 177 92.5 187 89.4 197 88.4 206 90.8 210 103.8 225 83 225.4 77 225.1 74.7 204 70.4 183 66 175.5 59.5 162 50.5 150 47.7 144 46.4 138 45.4 130 46.5 100 44.4 83 41.7 72 35 53 29.1 30 31.2 23 32 22 40.8 17ZM41.3 19 33 23.7 31 30 37 52.6 44.5 74 46.4 83 48.4 100 47.1 130 49 141.5 51.9 148 60.4 160 67 174.1 72 183 76.4 204 78.3 223 79 223.9 80 223.9 99 223.6 100 223.2 88.5 210 86.5 206 86.4 203 87.3 197 90.5 187 100 176 103 174 105 173.6 125 174.1 134.3 172 139 170 140.8 166 142.4 160 141.6 152 139.7 150 134.5 147 129.6 145 107 138.5 90.7 126 88.1 123 86.4 119 86.2 115 86.8 111 92.1 97 100 88.1 115.9 78 120.5 71 121.5 68 121.3 66 118 62.8 113 60.2 89 54.8 82 52.2 76 49.1 70 44.8 64.4 39 60.4 33 56 24.3 54.1 22 52 20.5 49 19.4 42 18.7Z"/><path fill="#0f20b7" stroke="#0f20b7" stroke-width=".5" d="M40 15.8 42 15.1 49 15.2 55 15.7 58 16.6 63.8 22 69.5 33 72 36.4 75 39.2 82 43.6 91 47.5 96 48.4 111 49.6 120 53.1 121.5 54 124 57.8 128 67.3 128.2 68 127 70 118 80.7 102 90.1 94.5 98 89.8 111 89.2 115 89.5 119 90.9 122 94 125.3 108 136 130.6 142 145 147.5 146 149.9 148.1 160 144.2 171 143 173.5 142 174.3 125 177.3 104 176.5 102 178 93.4 188 90.6 198 89.8 206 92.5 210 106.3 226 106 226.4 77 226.7 76 226.3 73.4 204 69.5 184 58.6 163 55.8 159 50 152.4 46.8 146 45.2 139 44.1 130 45.1 100 42.7 82 40.4 73 33.7 54 27.6 30 30 21.9 39.6 16ZM40.8 17 32 22 31.2 23 29.1 30 35 53 41.7 72 44.4 83 46.5 100 45.4 130 46.4 138 47.7 144 50.5 150 59.5 162 66 175.5 70.4 183 74.7 204 77 225.1 83 225.4 103.8 225 90.8 210 88.4 206 89.4 197 92.5 187 101.2 177 104 175.3 125 176 136 174 141 172.5 143 168.8 145.8 160 145 154 143.6 149 132.4 144 108 137.3 93 126 89.4 122 88.1 119 87.9 115 88.5 111 92.8 99 93.9 97 101 89.4 117 79.7 124 71 125.8 68 125.8 67 122 60.1 117.7 56 110 53.5 95 51.5 90 50.4 82 47.1 75 43 71 39.7 67.8 36 61 23.8 57 18.8 50.7 17 43 16.6 41 16.9Z"/><path fill="#1634d6" stroke="#1634d6" stroke-width=".5" d="M41 14 56 14.2 58 14.6 60.3 16 66 20.8 69.7 29 74 35.4 78 38.6 85 42.6 94 46 112 46.8 122.9 52 126 57.5 129 65.9 129.6 69 119 81.2 102.5 91 95.7 98 90.8 111 90.3 115 90.5 119 92 121.8 95.1 125 109 135.5 131 141 146 146.3 147 148 149.7 160 145.8 171 144 174.8 143 175.6 125 178.4 104 177.6 94.1 189 91.6 199 91 206 108.5 227 75 227 72.4 205 68.5 184 65 178 58.5 165 55 160 49 153.5 46 147.5 44.3 140 43 130 43.9 100 41.6 83 39.4 74 32.4 54 26.4 30 29 21 41 14ZM39.6 16 30 21.9 27.6 30 33.7 54 40.4 73 42.7 82 45.1 100 44.1 130 45.2 139 46.8 146 50 152.4 55.8 159 58.6 163 69.5 184 73.4 204 76 226.3 77 226.7 106 226.4 106.3 226 92.5 210 89.8 206 90.6 198 93.4 188 102 178 104 176.5 125 177.3 142 174.3 143 173.5 144.2 171 148.1 160 146 149.9 145 147.5 130.6 142 108 136 94 125.3 90.9 122 89.5 119 89.2 115 89.8 111 94.5 98 102 90.1 118 80.7 127 70 128.2 68 128 67.3 124 57.8 121.5 54 120 53.1 111 49.6 96 48.4 91 47.5 82 43.6 75 39.2 72 36.4 69.5 33 63.8 22 58 16.6 55 15.7 49 15.2 42 15.1 40 15.8Z"/><path fill="#224ce5" stroke="#224ce5" stroke-width=".5" d="M41 12.9 57 13 61.4 15 67 19.1 73.5 32 75 34.1 78 36.6 85 40.7 93 44.1 113 44.8 116 46.2 125 51.4 129 61.8 131.1 69 126.1 75 119 82.6 103 91.7 96 99 91.7 111 91.2 115 91.5 119 92.5 121 96.3 125 109 134.5 131.1 140 147 145.4 147.9 147 151.1 160 147 171.2 144 176.6 125 179.3 105 178.3 103.6 179 95.1 189 92.6 199 91.7 205 92 206 109.7 227 108.5 227 91 206 91.6 199 94.1 189 104 177.6 125 178.4 143 175.6 144 174.8 146 170.5 149.7 160 149.6 159 147 148 146 146.3 131 141 108.2 135 97 126.6 92.2 122 90.3 118 90.5 113 91.7 108 95.7 98 102.5 91 119 81.2 129.6 69 129 65.9 124 53.3 121 50.9 112 46.8 98 46.3 92 45.5 83 41.6 76 37.2 73.6 35 71.5 32 66 20.8 63.1 18 58 14.6 52 14 41 14 29 21 26.4 30 32.4 54 40.9 79 43.2 94 43.9 100 43 130 45 143.9 48 152 57.3 163 68.5 184 72.4 205 75 227 74 227 71.5 205 67.6 184 57 164.4 54 160.4 50 157 47.1 153 44.4 146 42 130 42.9 100 40.6 83 38.3 74 31.3 54 25.2 30 28.1 20 40.7 13Z"/><path fill="#2f65eb" stroke="#2f65eb" stroke-width=".5" d="M40 12 57 11.9 62.1 14 68.1 18 74.4 31 76 33.3 79 35.7 86 39.7 94 43 114 43.5 126 50.3 129 58.1 132.1 69 131.7 70 119.9 83 104 92 96.9 99 92.8 110 92.1 114 92.1 118 93.5 121 97 124.6 109.8 134 130.8 139 148 144.6 152.3 160 148 171.6 145 177.5 125 180.2 105 179.2 96.2 189 94.2 196 92.6 205 96.3 210 110.8 227 109.7 227 92 206 91.7 205 92.6 199 95.1 189 103.6 179 105 178.3 125 179.3 144 176.6 147 171.2 151.1 160 147.9 147 147 145.4 131.1 140 109 134.5 96.3 125 92.5 121 91.5 119 91.2 115 91.7 111 96 99 103 91.7 119 82.6 131 69.2 128 58.8 124.6 51 113.4 45 94 44.3 87 41.7 79 37.3 76 35.1 74.1 33 70.6 27 67 19.1 63 16 58 13.2 50 12.8 40 13.2 28 20.2 25.2 30 31.3 54 39.8 79 42.3 95 42.9 101 42 130 44 144.1 45.3 149 47.1 153 50 157 54 160.4 57 164.4 67.6 184 71.5 205 74 227 73.2 227 70.6 205 67 185 57.7 167 54 161.9 48.4 157 47 155.1 45 151.2 43.7 147 41.1 130 42 100 39.6 83 37.3 74 30.5 55 24 30 26.8 20 27.5 19 40 12Z"/><path fill="#3c7ee8" stroke="#3c7ee8" stroke-width=".5" d="M40 11 57 10.8 60.5 12 69 17 72.5 25 76.4 32 78 33.6 83 36.8 94 41.8 114 41.9 127 49.5 128 51.6 133 70 120.1 84 104 92.9 97.9 99 97.2 100 93.6 110 92.8 114 92.9 118 93.7 120 97.4 124 110 133.3 130.4 138 149 143.9 153.5 160 149 171.9 146 178.1 125 181 105 180 96.6 190 93.5 205 111.9 227 110.8 227 96.3 210 92.6 205 94.2 196 96.2 189 105 179.2 125 180.2 145 177.5 148 171.6 152.3 160 148 144.6 130.8 139 109.8 134 97 124.6 93.5 121 92.1 118 92.1 114 92.8 110 96.9 99 104 92 119.9 83 131.7 70 132.1 69 128 55.1 126 50.3 114 43.5 94 43 88 40.7 81 36.9 77 34.3 75.1 32 71.7 26 68.1 18 63.9 15 58 12 40 12 28 18.7 26.8 20 24 30 30.5 55 38.8 79 41.3 94 42 100 41.1 130 43.2 145 44.6 150 46.3 154 48.4 157 53 160.8 56.4 165 67 185 70.6 205 73.2 227 72.3 227 69.8 205 66.3 185 56.8 167 53 162.1 46.9 157 44.6 153 42.9 148 40.2 130 41.1 100 38.7 83 36 73 29.3 55 22.8 30 26 18.6 40 11Z"/><path fill="#5799e4" stroke="#5799e4" stroke-width=".5" d="M40 9.9 58 9.8 60.7 11 69.6 16 73.6 25 77 31 78 32.3 83 35.6 94 40.8 114 40.7 125.1 47 128 48.9 128.6 50 134.2 70 121 84.3 105 93.2 98 99.9 94.3 110 93.6 114 93.6 118 94.6 120 98.4 124 110 132.5 131 137.3 149.6 143 154.6 160 149.2 174 147 178.4 146 179.4 125 181.8 106 180.9 105 181.3 97.6 190 94.5 205 113 227 111.9 227 93.5 205 96.6 190 105 180 125 181 146 178.1 149 171.9 153.5 160 149 143.9 130.4 138 110 133.3 97.4 124 93.7 120 92.9 118 92.8 114 93.6 110 97.2 100 97.9 99 104 92.9 120.1 84 133 70 128 51.6 127 49.5 114 41.9 94 41.8 83 36.8 78 33.6 76.4 32 72.5 25 69 17 64.4 14 58 10.9 40 11 27 17.8 25.4 20 22.8 30 29.3 55 37.9 79 40.3 93 41.1 100 40.2 130 42.4 146 44 151.5 46 155.7 47.7 158 53 162.1 56 165.9 66.3 185 69.8 205 72.3 227 71.5 227 68.9 205 65.4 185 55.2 166 52 162.3 47 158.7 45.5 157 43.4 153 41.8 148 39.3 130 40.3 100 38.1 84 35.1 73 28.1 55 21.3 30 23.7 20 25 17.3 39.6 10Z"/><path fill="#77b2e5" stroke="#77b2e5" stroke-width=".5" d="M39 8.8 58 8.8 62 10.5 70.1 15 74.6 25 78.1 31 84 35.1 95 40 115 39.8 125 45.7 129.4 49 134.7 68 135.1 70 134.7 71 121 85.5 105 94.1 98.8 100 94.9 110 94.2 114 94.3 118 96 120.7 99.3 124 110.8 132 131 136.3 150 142.1 150.8 143 155.6 160 150.7 173 147 180.2 125 182.6 106 181.8 98.7 190 96.7 197 95.6 205 114.1 227 113 227 94.5 205 97.6 190 105 181.3 106 180.9 125 181.8 146 179.4 147 178.4 149.2 174 154.6 160 149.6 143 131 137.3 110 132.5 98.4 124 94.6 120 93.6 118 93.6 114 94.3 110 98 99.9 105 93.2 121 84.3 134.2 70 128.6 50 128 48.9 125.1 47 114 40.7 95 40.9 90 39.2 84 36.2 77.7 32 73.6 25 69.6 16 64.8 13 58 9.8 39 10.1 26 16.6 24 19 21.3 30 28.1 55 34 69.9 37.3 80 39.3 92 40.3 100 39.3 130 41.6 147 43 152 45 156.2 47 158.7 52 162.3 55.2 166 65.4 185 69 205.7 71.5 227 70.5 227 68 205 64.9 186 55.7 168 51 162.5 45.5 159 42.6 154 40.6 148 38.3 130 39.4 100 37.1 83 34 72.5 26.8 55 19.3 30 21.4 19 22.8 16 38.4 9ZM2 77.6 3 77.5 5 78.6 6.5 82 6 86.2 4 89.1 3 89.5 1 89 -1 85.7 -.8 81 1.4 78ZM25 134 27 134.1 28.1 135 30 137.9 31.5 142 32.6 150 32.1 153 31 154.7 30 155.1 28 153.8 26 150.6 24.3 146 23.2 138 24 135 25 134Z"/><path fill="#9ccbea" stroke="#9ccbea" stroke-width=".5" d="M-1 -1.6 6 -1.7 14 .4 19.4 3 22.4 8 26 9.8 31 9.6 39 7.3 59 8.1 66 11.3 71 14.4 74.6 23 78.5 30 80 31.6 85 34.7 95 39.1 115 38.6 130.2 48 135.4 67 135.9 71 121.9 86 106 94.4 99.8 100 95.6 110 94.9 114 95 118 97.1 121 100.3 124 111 131.3 132 135.6 151 141.4 151.9 143 156.8 160 151.5 174 147.6 181 125 183.5 106 182.9 99.1 191 96.9 201 96.4 204 96.8 205 115.4 227 114.1 227 95.6 205 96.7 197 98.7 190 106 181.8 125 182.6 147 180.2 150.7 173 155.6 160 150.8 143 150 142.1 131 136.3 110.8 132 99.3 124 96 120.7 94.3 118 94.2 114 94.9 110 98.8 100 105 94.1 121 85.5 134.7 71 135.1 70 134.7 68 129.4 49 125 45.7 115 39.8 95 40 84 35.1 78.1 31 74.6 25 70.1 15 65 11.9 58 8.8 39 8.8 24 15.1 21.6 18 19.3 30 26.8 55 35.9 78 38.2 90 39.4 100 38.3 130 40.6 148 42.6 154 45.5 159 51 162.5 55.7 168 64.9 186 68 205 70.5 227 69.6 227 67 205 64 186 55 168.3 51 163.6 43.9 159 40.5 153 38.5 147 37.1 130 38.6 100 37.1 88 35.3 79 31 67.6 25.3 56 19 37.1 14 27.7 13 26.5 11 25.7 1 26.9 -2 26.7 -2 -1.2ZM2 73.6 4 73.7 6 75.2 7.6 78 8.3 81 8.1 85 7.3 88 6 90.8 4 92.8 1 92.7 -2 89.7 -2 77.3 1.1 74ZM1.4 78 -.8 81 -1 85.7 1 89 3 89.5 4 89.1 6 86.2 6.5 82 5 78.6 3 77.5 2 77.6ZM25 129.9 28 130.8 30.7 134 33.5 140 35.2 146 35.4 151 34.5 156 33 159.3 31 160.8 28.2 160 25.7 157 23.3 152 21.2 145 20.2 139 20.3 135 21.4 132 24.2 130ZM25 134 24 135 23.2 138 24.3 146 26 150.6 28 153.8 30 155.1 31 154.7 32.1 153 32.6 150 31.5 142 30 137.9 28.1 135 27 134.1 25 134Z"/><path fill="#c5e1f2" stroke="#c5e1f2" stroke-width=".5" d="M-1 -2 29 -2 30.8 3 33.5 5 59 6.8 67 10.5 72 13.8 75.6 23 79.5 30 85 33.8 95 38.2 115 37.4 127 44.6 130.7 47 131.3 48 137 69 136.7 72 122.4 87 106 95.4 100 100.8 96.3 110 95.5 114 95.6 118 101 123.8 111 130.4 132 134.4 151 140.1 152.8 142 158.1 160 152.5 175 149.4 181 148.2 182 125 184.4 107 183.8 100.4 191 99 195.7 97.5 204 116.8 227 115.4 227 96.8 205 96.4 204 96.9 201 99.1 191 106 182.9 125 183.5 147.6 181 151.5 174 156.8 160 151.9 143 151 141.4 132 135.6 111 131.3 100.3 124 97.1 121 95 118 94.9 114 95.6 110 99.8 100 106 94.4 121.9 86 135.9 71 135.4 67 130.2 48 115 38.6 95 39.1 85 34.7 80 31.6 78.5 30 74.6 23 71 14.4 66 11.3 59 8.1 39 7.3 31 9.6 26 9.8 22.4 8 19.4 3 14 .4 7 -1.6 2 -1.9 -2 -1.2 -2 -2ZM7 25.9 11 25.7 13 26.5 17 32.9 20 39.6 25.3 56 31 67.6 35.3 79 37.1 88 38.6 100 37.1 130 38.5 147 40.5 153 43.9 159 51 163.6 55 168.3 64 186 67 205 69.6 227 68.4 227 66.1 206 63 186 54.6 169 50 163.9 42.8 160 39 156.2 37.6 157 33 164.5 31 165.9 28 165.9 25 164.2 22.7 162 21.4 160 19.4 155 16.5 141 16.3 136 17 132 18 130 20 128.4 25 127.1 28.6 128 33 131.8 34 132.4 34.4 132 35.8 127 36.7 119 37.6 104 37.4 97 35 81 32.2 73 28 64.5 21.7 55 16 43.6 14 41.8 12 41.3 9.4 42 2 46.1 0 46.1 -2 45.1 -2 26.7 1 26.9 6.6 26ZM24.2 130 21.4 132 20.3 135 20.2 139 21.2 145 23.3 152 25.7 157 28.2 160 31 160.8 33 159.3 34.5 156 35.4 151 35.2 146 33.5 140 30.7 134 28 130.8 25 129.9ZM2 67.8 4 67.7 7 70.7 9 74.8 9.7 79 9.5 84 8.2 90 6 94.9 4 97 1 96.8 -2 94.5 -2 89.7 1 92.7 4 92.8 6.4 90 8.1 85 7.9 79 7 76.5 5 74.3 3 73.5 1 74 -2 77.3 -2 71.2 1.5 68Z"/><path fill="#e6f3fa" stroke="#e6f3fa" stroke-width=".5" d="M29 -2 36.3 -2 38.4 1 41.8 3 47 4.2 59 5.2 69 10.2 72.6 13 76 22 80 29.3 83.7 32 89 34.9 96 37.4 116 36.5 126 42.5 132.2 47 138.3 69 138.2 72 132.2 79 123.2 88 107 95.8 100.8 101 96.9 110 96.2 114 96.4 118 102 123.8 112 130 133 133.3 152.1 139 153.2 140 154.3 142 159.6 159 159.7 161 153.4 177 150.5 182 149 183.1 125 185.5 107 185.3 101.3 192 98.9 204 118.6 227 116.8 227 97.5 204 99 195.7 100.4 191 107 183.8 125 184.4 148.2 182 149.4 181 152.5 175 158.1 160 152.8 142 151 140.1 132 134.4 111 130.4 101 123.8 95.6 118 95.5 114 96.3 110 100 100.8 106 95.4 122.4 87 136.7 72 137 69 131.3 48 130.7 47 127 44.6 115 37.4 95 38.2 88 35.3 79.5 30 75.6 23 72.1 14 69 11.7 58 6.5 45 6.1 33 4.8 30.8 3 29 -2ZM10 41.7 13 41.4 16 43.6 21.7 55 28 64.5 31 70.2 35 81 37.7 100 36.3 123 35.6 128 34.4 132 34 132.4 33 131.8 28.6 128 25 127.1 20 128.4 18 130 17 132 16.3 136 16.5 141 19.4 155 21.4 160 22.7 162 25 164.2 28 165.9 31 165.9 33 164.5 37.6 157 39 156.2 42.8 160 50 163.9 54.6 169 63.3 187 68.4 227 67 227 62 186.2 56 172.9 52.1 167 47 163.1 40 161 38 162 33 169.3 28.4 174 26.4 179 25.9 185 26.1 192 29.3 227 19.5 227 16 226.1 12.5 224 10.7 221 10 215 11.3 203 11.7 190 10.6 169 8 152.6 2.2 132 .9 109 -2 102.2 -2 94.5 0 96.3 2 97.1 4 97 5 96.2 8.2 90 9.7 81 8.7 74 7 70.7 5 68.5 4 67.7 2 67.8 0 68.9 -2 71.2 -2 45.1 0 46.1 2 46.1 9.4 42ZM17.1 62 13.4 65 11.8 69 10.5 85 6.2 103 6.1 107 6.8 112 9.7 120 11.2 122 13.7 124 18 125.1 27 124.9 32 126 33 125.8 34.2 124 35.3 119 36.8 101 35.9 91 34.1 81 31 72.7 27 66 23 62.4 21 61.6 18 61.7Z"/><path fill="#fefee2" stroke="#fefee2" stroke-width=".5" d="M37 -2 44.7 -2 46.9 0 49 1 59 3.1 69 8.4 73.2 12 76.9 22 80.9 29 88 33.5 96 36.5 116 35.1 131 44.3 133.7 47 140 69 139.7 73 134.7 79 124.4 89 107 96.8 101.9 101 97.9 109 97 113 96.9 117 98.8 120 101.9 123 112 129.1 135 131.8 145 134.4 153 137.2 155 139 156.1 141 162.2 158 162.7 161 160.6 168 157.7 175 153.5 182 151 184.3 148 185.2 125 186.9 108 186.9 103 192.5 101 200.5 100.7 203 101 204 121 227 118.6 227 98.9 204 101.3 192 107 185.3 125 185.5 149 183.1 151.2 181 154.3 175 159.8 160 154.3 142 153.2 140 152 139 133 133.3 112 130 102 123.8 96.4 118 96.2 114 96.9 110 100.8 101 107 95.8 123.2 88 132.2 79 138.2 72 138.3 69 132.5 48 131 45.9 116 36.5 95 37.3 87 33.9 80 29.3 76 22 72.6 13 70 10.9 59 5.2 47 4.2 41.8 3 38.4 1 36.3 -2ZM18 61.7 21 61.6 23 62.4 27 66 31 72.7 34.1 81 35.9 91 36.8 101 35.3 119 34.2 124 33 125.8 32 126 27 124.9 18 125.1 13.7 124 11.2 122 9.7 120 6.8 112 6.1 107 6.2 103 10.5 85 11.8 69 13.4 65 17.1 62ZM18.5 67 16.1 69 14.8 71 12.7 78 9.2 99 9.3 105 10.2 110 12.9 117 15 119.9 17 121.6 22 123.1 31.1 122 33 120.1 34 117.3 35.6 106 35.7 97 33.9 84 31 75.3 27 68.8 25 67.1 23 66.2 21 66.1 19 66.7ZM-1.5 103 .4 107 1.2 111 1.5 125 2.4 133 8 152.6 10.7 170 11.7 192 11.2 204 10 215 10.2 219 11.1 222 13 224.4 15.6 226 19.5 227 -2 227 -2 102.2ZM40 161 47 163.1 52.1 167 56 172.9 62 186.2 67 227 64.8 227 61.1 187 56 174.6 52.7 169 48 164.8 45 163.5 42 163.1 40 163.6 37.7 166 32.6 176 31 181 30.4 187 30.7 194 34.6 217 35.8 227 29.3 227 26.1 192 25.9 185 26.4 179 28.4 174 33 169.3 38 162 39.9 161ZM187 170.8 190 170.3 193 170.7 198 173.4 202 178.6 204.1 185 204.3 193 202.5 200 199 205.6 197 207.5 194 209.1 189 209.4 186 208.2 184 206.5 180.1 200 177.6 192 176.9 185 178.2 179 181.6 174 186.2 171Z"/><path fill="#fdfd83" stroke="#fdfd83" stroke-width=".5" d="M45 -2 59.3 -2 68 4.9 74 11 77.5 21 81.3 28 87.1 32 96 35.5 103 35.1 115 33.4 117 33.6 133 43.6 135.1 46 142.9 69 143.3 72 142.5 75 139.2 79 126 90.4 108 97.4 102.1 102 99 108 97.6 114 98 117.9 101 121.3 106 125 113 128.4 122 129.1 141 129.1 147 130.4 153 132.5 157.8 136 164 144.8 166 146.3 168 147 172 146.9 192 144 208 144 208 227 152.9 227 154.1 222 161.3 210 162.9 203 162.4 198 160.4 193 158 189.9 155 188.3 138 187.6 110 189.7 109 189.8 106 193.1 104.3 198 103.8 203 111 211.4 123.9 223 126.6 227 121 227 101 204 100.7 203 101 200.5 102.7 193 108 186.9 125 186.9 148 185.2 151.5 184 153.5 182 156.6 177 162.3 163 162.5 159 156.1 141 155 139 153 137.2 145 134.4 135 131.8 112 129.1 101.9 123 98.8 120 96.9 117 97 113 97.9 109 101.9 101 107 96.8 123 89.8 125.6 88 139.2 74 140.2 71 139.5 67 133.7 47 132 44.9 116 35.1 96 36.5 87 33 80.9 29 76.9 22 73.2 12 71 9.9 60 3.5 49 1 46.9 0 44.7 -2ZM186.2 171 181.6 174 178.2 179 176.9 185 177.6 192 180.1 200 184 206.5 186 208.2 189 209.4 194 209.1 197 207.5 199 205.6 202.5 200 204.3 193 204.1 185 202 178.6 198 173.4 193 170.7 190 170.3 187 170.8ZM19 66.7 21 66.1 23 66.2 25 67.1 27 68.8 31 75.3 33.9 84 35.7 97 35.6 106 34 117.3 33 120.1 31.1 122 22 123.1 17 121.6 15 119.9 12.9 117 10.2 110 9.3 105 9.2 99 12.7 78 14.8 71 16.1 69 18.5 67ZM19.1 70 15.6 74 13.3 81 10.7 97 11.4 107 14.1 115 16 117.9 18 119.8 20 120.8 23 121.4 26 121.1 29.1 120 31 118.6 32.5 116 34.3 108 34.9 99 33.6 87 31.9 80 28 72.5 26 70.4 24 69.3 22 69 20 69.5ZM40 163.6 43 163.1 46 163.8 49 165.4 52 168.1 56 174.6 61.1 187 64.8 227 59.1 227 58.9 219 59.8 206 60 191 59.9 188 58 182 55 174.4 52 169.5 48 166 44 164.8 42 164.9 40.3 166 37.2 171 34.3 180 33.6 189 34.5 196 36.7 204 46.7 227 35.8 227 34.6 217 31 196 30.4 185 31.2 180 32.6 176 37.1 167 39.4 164Z"/><path fill="#ffff30" stroke="#ffff30" stroke-width=".5" d="M60 -2 72.1 -2 72.2 3 75.1 10 78 19.9 81.8 27 84 29 89.1 32 96 34.4 103 33.9 116 31.1 118 31.2 121 32.5 136 42.7 137.8 45 143 55.5 146 59.7 150 63.2 155 65.4 162 66.5 170 66.4 177 65.3 185 62.7 192 59.2 198 55 203.2 50 208 43.7 208 144 200 143.6 191 144 170 147.1 167 146.7 164 144.8 157.8 136 153 132.5 147 130.4 141 129.1 122 129.1 113 128.4 104 123.7 100.7 121 98.1 118 97.5 115 98 111 99.4 107 102.1 102 108 97.4 124 91.4 127.8 89 142 76 143.3 72 142.6 68 135.6 47 133.5 44 122 36.3 117 33.6 115 33.4 103 35.1 96 35.5 91 33.9 85.3 31 82 28.7 80 25.9 77 19.9 74.5 12 73 9.6 69 5.7 59.3 -2ZM143 83 137 85.3 126 92.9 115 96 108 98.7 103 102.4 100.2 107 98.8 111 98.3 115 99 118 103 122.1 110 126.2 113 127.4 119 127.8 126 127.5 132 126.3 150 120.7 155 118.4 160.2 114 162.3 111 163.9 107 164.5 102 163.8 97 162.3 93 159.6 89 156 85.7 152 83.6 147 82.6 143 83ZM20 69.5 22 69 24 69.3 26 70.4 28 72.5 31.9 80 33.6 87 34.9 99 34.3 108 32.5 116 31 118.6 29.1 120 26 121.1 23 121.4 20 120.8 18 119.8 16 117.9 14.1 115 11.4 107 10.7 97 13.3 81 15.6 74 19.1 70ZM20.2 72 18 73.7 16.3 76 14 82.2 11.8 95 12.1 104 14.2 112 17.3 117 19 118.5 22 119.7 24 119.7 27 118.9 30.5 116 32.8 110 34 101 33.4 91 31.5 82 29 76.3 27 73.7 25 72.1 23 71.4 21 71.7ZM42 164.9 44 164.8 47 165.5 50 167.4 52 169.5 55.7 176 59.6 187 60 197 58.9 219 59.1 227 46.7 227 44.4 221 38 207.6 35.4 200 33.7 190 34.1 181 35.4 176 37.7 170 40 166.3 41.9 165ZM42.6 167 39.8 170 37 178 36.2 185 37 193 39.3 200 43 205.4 47 207.8 51 207.4 54 204.9 56.4 200 57.9 193 57.9 187 55.1 177 52 171 50 168.9 47 167 43 166.8ZM132 188 142 187.6 154 188.2 156 188.7 158 189.9 160.4 193 162.6 199 162.5 206 160.3 212 154.1 222 152.9 227 126.6 227 123.9 223 111 211.4 103.8 203 104 199.2 105.4 194 109 189.8 131.5 188ZM127.5 192 119 194 115 196 113 198 112.7 199 112.7 201 113.6 203 117.6 207 123 209.6 130 211 138 210.7 145 208.5 149 205.2 150.3 203 150.7 201 149.7 197 146.8 194 142 192 136 191.3 128 191.9Z"/><path fill="#ffff00" stroke="#ffff00" stroke-width=".5" d="M72 -1.5 72.1 -2 78.5 -2 76.6 2 76.1 5 78.1 17 80 22 83 26.9 88 30.3 96 33.2 101 32.9 108.1 31 118 25.8 121 25.3 124 26.8 145 42.8 149 45.4 157 48.3 165 49.2 174 47.9 182 44.4 188.7 39 193.6 32 196.3 24 196.8 15 195.1 6 191.5 -2 208 -2 208 43.7 203.2 50 198 55 191 59.8 184 63.1 177 65.3 169 66.5 161 66.5 154 65.1 150 63.2 146 59.7 143 55.5 137.8 45 136 42.7 121 32.5 118 31.2 116 31.1 103 33.9 96 34.4 89 31.9 82.6 28 80 24.1 77.7 19 75.1 10 72.4 4 71.9 -1ZM21 71.7 23 71.4 25 72.1 27 73.7 29 76.3 31.5 82 33.4 91 34 101 32.8 110 30.5 116 27 118.9 24 119.7 22 119.7 19 118.5 17.3 117 14.2 112 12.1 104 11.8 95 14 82.2 16.3 76 18 73.7 20.2 72ZM20.7 74 19 75.1 17 77.5 14.8 83 12.9 93 12.9 102 14.7 110 17.3 115 21 117.9 23 118.3 26 117.6 29.3 115 31.9 109 33.1 101 32.7 92 30.9 83 28 77.1 25 74.2 23 73.6 21 73.8ZM143 83 147 82.6 152 83.6 156 85.7 159.6 89 162.3 93 163.8 97 164.5 102 163.9 107 162.3 111 160.2 114 155 118.4 150 120.7 132 126.3 126 127.5 119 127.8 113 127.4 110 126.2 103 122.1 99 118 98.3 115 98.8 111 100.2 107 103 102.4 108 98.7 115 96 126 92.9 137 85.3 143 83ZM143.9 86 138 87.7 127 94.9 116 97.1 109 99.4 104 102.8 101.1 107 99.4 112 99.2 116 100 118 102 120.3 107 123.9 112 126 116 126.7 122 126.4 129 125 139 120.7 150 117.2 155 113.9 158.8 109 160.2 105 160.6 101 160 97 158.1 93 155.6 90 152 87.5 148 86.2 144 86ZM43 166.8 47 167 50 168.9 52 171 55.1 177 57.9 187 57.9 193 56.4 200 54 204.9 51 207.4 47 207.8 43 205.4 39.3 200 37 193 36.2 185 37 178 39.8 170 42.6 167ZM43.8 169 41 172 39.3 177 38.5 183 39 189.8 41 195.7 43.4 199 47 200.9 50 200.3 53 197.5 55 193 55.9 188 55.2 182 53.4 176 51 171.8 47.4 169 44 168.9ZM128 191.9 136 191.3 142 192 146.8 194 149.7 197 150.7 201 150.3 203 149 205.2 145 208.5 138 210.7 130 211 123 209.6 117.6 207 113.6 203 112.7 201 112.7 199 113 198 115 196 119 194 127.5 192Z"/><path fill="#ffd200" stroke="#ffd200" stroke-width=".5" d="M78 -1.1 78.5 -2 82.6 -2 79.8 2 78.3 7 78.4 13 79.9 19 83.8 26 90 30 96 31.8 100 31.6 105.5 30 110.2 27 113 24 115.3 20 116.8 16 117.4 12 116.8 8 115.5 5 110.2 -2 126 -2 123.3 5 123.1 11 125.5 17 129.9 23 137 29.1 145 33.5 153 36.1 161 37 167 36.4 173 34.4 178 31.2 182 27.2 185.6 21 187.5 13 186.9 5 184.2 -2 191.5 -2 195.4 7 196.9 17 195.8 26 192.5 34 187 40.7 180 45.5 172 48.4 164 49.1 156 48 149 45.4 145 42.8 124 26.8 121 25.3 118 25.8 110.4 30 104 32.3 97 33.2 93 32.4 87.5 30 83.1 27 79.6 21 77.5 15 76.2 7 76.4 3 77.9 -1ZM21 73.8 23 73.6 25 74.2 28 77.1 30.9 83 32.7 92 33.1 101 31.9 109 29.3 115 26 117.6 23 118.3 21 117.9 17.3 115 14.7 110 12.9 102 12.9 93 14.8 83 17 77.5 19 75.1 20.7 74ZM20.7 76 19 77.2 17 80 15 85.5 13.6 94 13.7 102 15.3 109 18 114 20 115.8 22 116.7 24 116.7 26 115.9 29 112.9 31.3 107 32.2 100 31.9 92 30.5 85 28 79.2 25 76.2 23 75.5 21 75.8ZM144 86 148 86.2 152 87.5 155.6 90 158.1 93 160 97 160.6 101 160.2 105 158.8 109 155 113.9 150 117.2 139 120.7 129 125 122 126.4 116 126.7 112 126 107 123.9 102 120.3 100 118 99.2 116 99.4 112 101.1 107 104 102.8 109 99.4 116 97.1 127 94.9 138 87.7 143.9 86ZM139.8 89 137 90.4 131 95 128 96.6 114 99 110 100.3 106 102.6 103 105.7 101.2 109 100.1 113 100.1 116 102.9 120 107 122.9 112 124.9 117 125.5 122 125.1 126.5 124 138 118.7 148 115.7 153 112.7 156.8 108 158.3 103 157.6 97 155 92.5 151 89.4 146 88.1 140 88.9ZM44 168.9 47.4 169 51 171.8 53.4 176 55.2 182 55.9 188 55 193 53 197.5 50 200.3 47 200.9 43.4 199 41 195.7 39 189.8 38.5 183 39.3 177 41 172 43.8 169ZM44.3 172 42.6 174 41.2 178 40.7 182 41 187 42 190.4 44 193.7 46 195.1 49 194.9 51.1 193 53 189 53.5 185 53.2 181 52 176.6 50 173.2 47 171.3 45 171.6Z"/><path fill="#ffa800" stroke="#ffa800" stroke-width=".5" d="M82 -1.4 82.6 -2 86.1 -2 82 2.6 80.1 8 80 14 82 20.7 84.7 25 87.1 27 92 29.4 97 30.4 102 29.4 106 27.4 109.6 24 111.9 20 113.3 14 112.8 8 110.6 3 106 -2 110.2 -2 115.5 5 117.4 11 116.1 18 114.3 22 112.2 25 109 28 105.5 30 101 31.4 97 31.9 90 30 84 26.2 80 19.1 78.3 12 78.6 5 79.8 2 81.7 -1ZM126 -1.9 130.3 -2 128.1 4 128 10 130.1 16 133.7 21 138.4 25 144 28.2 151 30.4 157 31 163 30.5 169 28.6 174 25.6 177.6 22 181.1 16 182.4 10 181.9 4 179.5 -2 184.2 -2 186.6 4 187.6 11 186.6 18 184.1 24 181 28.4 177 32 173 34.4 168 36.2 163 36.9 157 36.8 151 35.7 145 33.5 139 30.4 134 26.9 129.1 22 125.5 17 123.6 13 122.9 9 123.5 4 125.5 -1ZM21 75.8 23 75.5 25 76.2 28 79.2 30.5 85 31.9 92 32.2 100 31.3 107 29 112.9 26 115.9 24 116.7 22 116.7 20 115.8 18 114 15.3 109 13.7 102 13.6 94 15 85.5 17 80 19 77.2 20.7 76ZM20.5 78 19 79.3 17.2 82 15.2 88 14.3 96 14.7 103 16.4 109 19 113.3 22 115.1 24 115.1 26 114.2 28.7 111 30.5 106 31.4 99 31 91.7 29.5 85 27 80 24 77.6 21 77.7ZM140 88.9 146 88.1 151 89.4 155 92.5 157.6 97 158.3 103 156.8 108 153 112.7 148 115.7 138 118.7 126.5 124 122 125.1 117 125.5 112 124.9 107 122.9 102.9 120 100.1 116 100.1 113 101.2 109 103 105.7 106 102.6 110 100.3 114 99 128 96.6 131 95 137 90.4 139.8 89ZM142.3 90 138 91.7 131.4 97 129 98.3 117 99.6 110 101.7 106 104.1 103 107.6 101.5 111 101 115 101.6 117 104.3 120 108 122.3 113 124 117 124.3 122 123.7 128 121.8 138 116.5 149 113.3 152.3 111 154.7 108 156 105 156.6 101 156.1 98 154.7 95 153 93 150 90.9 147 89.9 143 89.9ZM45 171.6 47 171.3 50 173.2 52 176.6 53.2 181 53.5 185 53 189 51.1 193 49 194.9 46 195.1 44 193.7 42 190.4 41 187 40.7 182 41.2 178 42.6 174 44.3 172ZM45.7 176 43.9 179 43.6 184 45 187.9 46 188.8 48 188.9 50.1 186 50.5 181 49 176.8 48 175.8 46 175.8Z"/><path fill="#ff7800" stroke="#ff7800" stroke-width=".5" d="M85 -1.1 86.1 -2 90.1 -2 85.8 1 82.5 6 81.4 12 82.4 18 84.3 22 87 25.1 91 27.5 96 28.7 100 28.2 104 26.4 107 23.7 109.4 20 110.9 14 110.7 10 109.9 7 107 2 104.9 0 101.7 -2 106 -2 109.1 1 112.5 7 113.3 14 111.4 21 107.8 26 103 29 97 30.4 90.8 29 87.1 27 84.7 25 81 18.3 79.8 11 80.3 7 81.3 4 84.9 -1ZM130 -1.5 130.3 -2 133.7 -2 131.9 2 131.2 6 131.8 11 133.4 15 135.5 18 138.5 21 142 23.4 146 25.3 153 27 160 26.9 167 24.8 172.5 21 176.4 16 178.3 10 178.1 4 175.6 -2 179.5 -2 181.9 4 182.3 11 181.4 15 180 18.4 177.6 22 174 25.6 170 28.1 166 29.8 161 30.8 156 31 151 30.4 145 28.6 140 26.1 136 23.2 132.8 20 130.1 16 128.5 12 127.8 8 128.3 3 129.7 -1ZM21 77.7 24 77.6 27 80 29.5 85 31 91.7 31.4 99 30.5 106 28.7 111 26 114.2 24 115.1 22 115.1 19 113.3 16.4 109 14.7 103 14.3 96 15.2 88 17.2 82 19 79.3 20.5 78ZM20.4 80 18 82.9 16 88.4 15.1 95 15.4 102 17 108 19 111.5 22 113.6 25 113.1 27.9 110 29.5 106 30.4 100 30.3 93 29 86.6 27 82.1 24 79.4 21 79.6ZM143 89.9 147 89.9 150 90.9 153 93 154.7 95 156.1 98 156.6 101 156 105 154.7 108 152.3 111 149 113.3 138 116.5 128 121.8 122 123.7 117 124.3 113 124 108 122.3 104.3 120 101.6 117 101 115 101.5 111 103 107.6 106 104.1 110 101.7 117 99.6 129 98.3 131.4 97 138 91.7 142.3 90ZM140.9 92 137.3 94 131 99.6 128 100.5 118 100.8 112 102.2 107 104.9 103.5 109 102.2 113 102.5 116 104.8 119 107.7 121 112 122.6 116 123.1 121 122.6 126 121.1 137 114.6 148 111.9 151 110 153.4 107 154.6 104 154.9 101 154.3 98 152.6 95 150 92.8 147 91.6 144 91.4 141 92ZM46 175.8 48 175.8 49 176.8 50.5 181 50.1 186 48 188.9 46 188.8 45 187.9 43.6 184 43.9 179 45.7 176Z"/><path fill="#ff4800" stroke="#ff4800" stroke-width=".5" d="M89 -1.4 90.1 -2 101.7 -2 106 .9 109 5 110.8 11 110.4 17 108 22.4 104 26.4 101 27.9 98 28.6 93 28.2 88 25.9 85.8 24 84 21.5 81.6 15 81.6 9 84 3.2 88.3 -1ZM93.6 -1 89 .9 85.1 5 83.2 10 83.2 15 84.9 20 88.1 24 93 26.5 98 26.8 103 24.6 106.4 21 108.5 16 108.7 11 107.2 6 104 1.9 99 -.8 94 -1.1ZM134 -2 137.1 -2 135 2 134.2 7 135.3 12 137.7 16 141 19.2 145 21.7 150 23.4 155 24 160 23.5 164 22.3 168 20.1 171.3 17 173.8 13 175 8 174.4 3 171.9 -2 175.6 -2 177.8 3 178.5 8 177.7 13 175.2 18 171.4 22 167 24.8 162 26.5 156 27.2 150 26.5 144 24.5 139 21.4 135 17.4 132.4 13 131.2 8 131.6 3 133.7 -2ZM21 79.6 24 79.4 27 82.1 29 86.6 30.3 93 30.4 100 29.5 106 27.9 110 25 113.1 22 113.6 19 111.5 17 108 15.4 102 15.1 95 16 88.4 18 82.9 20.4 80ZM20.4 82 18 85.3 16.5 90 15.8 96 16.2 102 17.6 107 20 110.8 22 112 25 111.4 27.1 109 29 104 29.7 98 29.3 92 28 86.7 26 83 24 81.4 21 81.6ZM141 92 144 91.4 147 91.6 150 92.8 152.6 95 154.3 98 154.9 101 154.6 104 153.4 107 151 110 148 111.9 137 114.6 126 121.1 121 122.6 116 123.1 112 122.6 107.7 121 104.8 119 102.5 116 102.2 113 103.5 109 107 104.9 112 102.2 118 100.8 128 100.5 131 99.6 137.3 94 140.9 92ZM143.7 93 141 93.7 138.7 95 133 101.3 131 102.4 121 102 116 102.5 110 104.6 106 107.8 104.5 110 103.7 113 104 115.8 105.7 118 108 119.8 111 121 115 121.8 119 121.6 123 120.7 126.9 119 136 112.2 145.6 111 148.1 110 150.6 108 152 106 153.1 103 153.1 100 152.5 98 151 95.7 149 94.1 147 93.3 144 93Z"/><path fill="#ff1800" stroke="#ff1800" stroke-width=".5" d="M94 -1.1 99 -.8 104 1.9 107.2 6 108.7 11 108.5 16 106.4 21 103 24.6 98 26.8 93 26.5 88.1 24 84.9 20 83.2 15 83.2 10 85.1 5 89 .9 93.6 -1ZM94.2 1 90 2.6 87 5.6 85.1 10 84.8 14 86 18.3 88.6 22 93 24.5 97 24.9 101 23.5 104 20.9 106.1 17 106.7 12 105.8 8 103 3.8 99 1.4 95 .9ZM137 -1.9 140.6 -2 138.1 2 137.3 6 137.9 10 140 14.1 142.9 17 146.2 19 150 20.3 155 20.9 159 20.5 163 19.1 166.4 17 169 14.3 171.1 10 171.6 6 170.6 2 168.1 -2 171.9 -2 174.1 2 175 6 174.5 11 172.8 15 168 20.1 165 21.8 161 23.3 153 23.8 145.7 22 139.5 18 136.9 15 135.3 12 134.5 9 134.3 5 136.4 -1ZM21 81.6 24 81.4 26 83 28 86.7 29.3 92 29.7 98 29 104 27.1 109 25 111.4 22 112 20 110.8 17.6 107 16.2 102 15.8 96 16.5 90 18 85.3 20.4 82ZM20.6 84 19 86 17.3 91 16.7 96 17 101.1 18 105.2 20 108.8 22 110.2 24 110 25 109.4 27 106.5 28.3 102 28.7 97 28.3 92 27 87.3 25 84.2 23 83.1 21 83.7ZM144 93 147 93.3 149 94.1 151 95.7 152.5 98 153.1 100 153.1 103 152 106 150.6 108 148.1 110 145.6 111 136 112.2 126.9 119 123 120.7 119 121.6 115 121.8 111 121 108 119.8 105.7 118 104 115.8 103.7 113 104.5 110 106 107.8 110 104.6 116 102.5 121 102 131 102.4 133 101.3 138.7 95 141 93.7 143.7 93ZM142.7 95 140 96.3 137.5 99 135.8 103 135.6 106 137 107.6 140 108.9 145 109.1 148 107.7 150 105.7 151.2 103 151.2 100 150 97.4 148 95.7 146 94.9 143 94.9ZM116 104 111 105.8 107.9 108 105.9 111 105.7 115 108 117.9 111 119.5 115 120.3 120 120 125.4 118 129.3 115 132 111 132.4 108 130.4 106 125 104 121 103.6 116 104Z"/><path fill="#ec0000" stroke="#ec0000" stroke-width=".5" d="M140 -1.3 140.6 -2 145.1 -2 142.3 1 140.8 5 141.2 9 143 12.5 145 14.5 148 16.3 151 17.3 155 17.6 158 17.2 161.4 16 164 14.3 166 12 167.4 9 167.7 5 166.2 1 163.3 -2 168.1 -2 170.6 2 171.6 6 171.1 10 169 14.3 165 18 159 20.5 152 20.7 146 18.9 140.8 15 137.9 10 137.3 7 137.6 4 139.8 -1ZM95 .9 99 1.4 103 3.8 105.8 8 106.7 12 106.1 17 104 20.9 101 23.5 97 24.9 93 24.5 88.6 22 86 18.3 84.8 14 85.1 10 87 5.6 90 2.6 94.2 1ZM92.2 4 89.5 6 87.6 9 86.8 13 87.6 17 89.6 20 92 21.8 95 22.6 98.8 22 101.7 20 103.6 17 104.5 13 104 9.8 102.7 7 100 4.5 97 3.3 93 3.7ZM21 83.7 23 83.1 25 84.2 27 87.3 28.3 92 28.7 97 28.3 102 27 106.5 25 109.4 24 110 22 110.2 20 108.8 18 105.2 17 101.1 16.7 96 17.3 91 19 86 20.6 84ZM21.1 86 19 89 18.1 92 17.9 100 18.8 104 20 106.4 22 108 24 107.8 26 105.4 27 102.8 27.6 95 27 91.1 25.8 88 24 85.9 22 85.5ZM143 94.9 146 94.9 148 95.7 150 97.4 151.2 100 151.2 103 150 105.7 148 107.7 145 109.1 140 108.9 137 107.6 135.6 106 135.8 103 137.5 99 140 96.3 142.7 95ZM141.9 98 139.7 101 139.9 104 142.2 106 144 106.2 146 105.6 148.3 103 148.5 101 148 99.3 146.8 98 145 97.3 142 98ZM116 104 121 103.6 125 104 130.4 106 132.4 108 132 111 129.3 115 125.4 118 120 120 115 120.3 111 119.5 108 117.9 105.7 115 105.9 111 107.9 108 111 105.8 116 104ZM115 106 111 107.9 109 109.8 107.9 112 108 114.3 109 116 112.3 118 116 118.6 120 118.2 124 116.6 127 114.1 128.4 111 128 109 126.2 107 124 106 120 105.3 116 105.8Z"/><path fill="#c80000" stroke="#c80000" stroke-width=".5" d="M144 -1.1 145.1 -2 163.3 -2 166.7 2 167.8 6 167.1 10 164.3 14 160 16.6 155 17.6 150 17 145.7 15 142 11 140.8 7 141.3 3 143.9 -1ZM149.9 0 147.2 2 146 4.1 145.7 7 147 10 149.4 12 152.2 13 156 13 158.9 12 161.2 10 162.5 7 162.2 4 161 2 159 .4 156 -.7 153 -.9 150 -.1ZM93 3.7 97 3.3 100 4.5 102.7 7 104 9.8 104.5 13 103.6 17 101.7 20 98.8 22 95 22.6 92 21.8 89.6 20 87.6 17 86.8 13 87.6 9 89.5 6 92.2 4ZM92.9 7 91 8.6 89.8 11 89.6 14 90.2 16 91.7 18 93.2 19 96 19.5 98 18.9 100 17.2 101.1 15 101.4 12 100.9 10 99.5 8 98 6.9 96 6.4 93 7ZM22 85.5 24 85.9 25.8 88 27 91.1 27.6 95 27 102.8 26 105.4 24 107.8 22 108 20 106.4 18.8 104 17.9 100 18.1 92 19 89 21.1 86ZM21.3 89 20 90.9 19.2 94 19.2 100 21 104.5 22 105.2 24 104.8 26 100.7 26.1 94 24.8 90 23 88.5 22 88.5ZM142 98 145 97.3 146.8 98 148 99.3 148.5 101 148.3 103 146 105.6 144 106.2 142.2 106 139.9 104 139.7 101 141.9 98ZM116 105.8 120 105.3 124 106 126.2 107 128 109 128.4 111 127 114.1 124 116.6 120 118.2 116 118.6 112.3 118 109 116 108 114.3 107.9 112 109 109.8 111 107.9 115 106ZM117.5 108 112.9 110 112 111.2 111.6 113 112 114.1 114 115.6 118 116 121 115.2 122.7 114 124 112.1 124.1 111 123.7 110 122 108.6 118 107.9Z"/><path fill="#b50000" stroke="#b50000" stroke-width=".5" d="M150 -.1 153 -.9 156 -.7 159 .4 161 2 162.2 4 162.5 7 161.2 10 158.9 12 156 13 152.2 13 149.4 12 147 10 145.7 7 146 4.1 147.2 2 149.9 0ZM93 7 96 6.4 98 6.9 99.5 8 100.9 10 101.4 12 101.1 15 100 17.2 98 18.9 96 19.5 93.2 19 91.7 18 90.2 16 89.6 14 89.8 11 91 8.6 92.9 7ZM22 88.5 23 88.5 24.8 90 26.1 94 26 100.7 24 104.8 22 105.2 21 104.5 19.2 100 19.2 94 20 90.9 21.3 89ZM118 107.9 122 108.6 123.7 110 124.1 111 124 112.1 122.7 114 121 115.2 118 116 114 115.6 112 114.1 111.6 113 112 111.2 112.9 110 117.5 108Z"/><use href="#ov"/></svg></div>
<div class="fr" style="left:474px;top:269px"></div>
<div class="lt" style="left:477px;top:274px">f)</div>
<div class="a" style="left:471.5px;top:279.0px;width:2px;height:1px;background:#888"></div>
<div class="a" style="left:680.5px;top:279.0px;width:2px;height:1px;background:#888"></div>
<div class="a" style="left:471.5px;top:381.8px;width:2px;height:1px;background:#888"></div>
<div class="a" style="left:680.5px;top:381.8px;width:2px;height:1px;background:#888"></div>
<div class="a" style="left:471.5px;top:484.6px;width:2px;height:1px;background:#888"></div>
<div class="a" style="left:680.5px;top:484.6px;width:2px;height:1px;background:#888"></div>
<div class="a" style="left:525.0px;top:495.5px;width:1px;height:2px;background:#888"></div>
<div class="tk" style="left:516.4px;top:498.5px;width:20px;text-align:center">-71°</div>
<div class="a" style="left:628.4px;top:495.5px;width:1px;height:2px;background:#888"></div>
<div class="tk" style="left:619.8px;top:498.5px;width:20px;text-align:center">-70°</div>
<div class="pn" style="left:43px;top:519px"><svg width="206" height="225" viewBox="0 0 206 225"><path fill="#f3f8fb" stroke="#f3f8fb" stroke-width=".5" d="M-1 -2 169.7 -2 169.6 21 170.7 44 172.7 65 178.3 111 180.2 137 180.6 167 179.5 227 40.2 227 44 218.8 46 210 47.4 197 48.1 182 47.8 162 46.5 139 44.2 112 42 96.1 39 85.2 38 83.9 37 83.5 35 85.3 32 95 28.6 118 28 119.2 27 118.5 23 111.7 16 97.2 .2 62 -2 59 -2 -2Z"/><path fill="#fbfcf2" stroke="#fbfcf2" stroke-width=".5" d="M170 -2 180.9 -2 180.2 23 181.8 48 184.8 69 193.2 112 195.9 136 196.9 167 196.7 227 179.5 227 180.6 167 180.2 137 178.3 111 172.7 65 170.7 44 169.6 21 169.7 -2ZM-1.3 60 .2 62 20 105.6 27 118.5 28 119.2 28.6 118 31 100 34 87.5 35.2 85 37 83.5 38 83.9 39.7 87 42.5 99 45 120.3 47.3 152 48.1 179 47.5 196 46 209.9 44 218.8 40.2 227 -2 227 -2 59ZM12.6 101 10.6 119 10 142 10.8 164 13.1 184 16 197.5 18 203.3 20 207.1 22 209.3 23 209.9 25 209.9 27 208.4 29.2 205 31.3 198 32 186 31.1 163 28.5 130 18 106.6 15 101.4 14 100.3 13 100.2Z"/><path fill="#fdfde4" stroke="#fdfde4" stroke-width=".5" d="M181 -2 190.8 -2 189.7 9 189.3 21 189.8 32 191.1 43 195 61.1 204.8 91 208 109 208 227 196.7 227 196.9 167 195.9 136 193.2 112 184.8 69 181.8 48 180.2 23 180.9 -2ZM13 100.2 14 100.3 15 101.4 18 106.6 28.5 130 31.1 163 32 186 31.3 198 29.2 205 27 208.4 25 209.9 23 209.9 22 209.3 20 207.1 18 203.3 16 197.5 13.1 184 10.8 164 10 142 10.6 119 12.6 101Z"/><path fill="#fefed4" stroke="#fefed4" stroke-width=".5" d="M191 -2 208 -2 208 109 204.8 91 195 61.1 191.1 43 189.8 32 189.3 21 189.7 9 190.8 -2Z"/><use href="#ov"/></svg></div>
<div class="fr" style="left:43px;top:518px"></div>
<div class="lt" style="left:46px;top:523px">g)</div>
<div class="a" style="left:40.5px;top:528.0px;width:2px;height:1px;background:#888"></div>
<div class="a" style="left:249.5px;top:528.0px;width:2px;height:1px;background:#888"></div>
<div class="a" style="left:40.5px;top:630.8px;width:2px;height:1px;background:#888"></div>
<div class="a" style="left:249.5px;top:630.8px;width:2px;height:1px;background:#888"></div>
<div class="a" style="left:40.5px;top:733.6px;width:2px;height:1px;background:#888"></div>
<div class="a" style="left:249.5px;top:733.6px;width:2px;height:1px;background:#888"></div>
<div class="a" style="left:94.0px;top:744.5px;width:1px;height:2px;background:#888"></div>
<div class="tk" style="left:85.4px;top:747.5px;width:20px;text-align:center">-71°</div>
<div class="a" style="left:197.4px;top:744.5px;width:1px;height:2px;background:#888"></div>
<div class="tk" style="left:188.8px;top:747.5px;width:20px;text-align:center">-70°</div>
<div class="tk" style="left:15px;top:522.9px;width:24px;text-align:right">-19°</div>
<div class="tk" style="left:15px;top:625.7px;width:24px;text-align:right">-20°</div>
<div class="tk" style="left:15px;top:728.5px;width:24px;text-align:right">-21°</div>
<div class="pn" style="left:258px;top:519px"><svg width="206" height="225" viewBox="0 0 206 225"><path fill="#d6eaf6" stroke="#d6eaf6" stroke-width=".5" d="M165 10 172 11.4 178 15 184 21.2 189 29 193.4 39 196.8 51 198.9 63 199.8 76 199.4 88 197.9 99 195 109.5 191.1 118 186.8 124 181 129.1 174 132.4 167 133.5 159 132.6 152 129.7 146 125.4 140.5 119 136.2 111 133.1 102 131.1 91 130.3 80 130.7 67 132.6 54 135.7 42 140.1 31 145 22.6 151 15.9 158 11.4 164.8 10Z"/><path fill="#dceef8" stroke="#dceef8" stroke-width=".5" d="M131 -2 199.2 -2 204 7 208 16.6 208 137 204.9 143 201 149 197 153.6 192 157.8 187 160.7 182 162.6 176 163.8 170 164.1 160 163.1 150 160.5 141 156.3 134 151.2 128 144.5 123 136.5 118.9 127 115.7 116 113.2 102 112 87 112.1 71 113.6 54 116.3 38 120.2 23 125 9.9 131 -2ZM164.8 10 158 11.4 151 15.9 145 22.6 140.1 31 135.7 42 132.6 54 130.7 67 130.3 80 131.1 91 133.1 102 136.2 111 140.5 119 146 125.4 152 129.7 159 132.6 167 133.5 174 132.4 181 129.1 186.8 124 191.1 118 195 109.5 197.9 99 199.4 88 199.8 76 198.9 63 196.8 51 193.4 39 189 29 184 21.2 178 15 172 11.4 165 10Z"/><path fill="#e4f0f8" stroke="#e4f0f8" stroke-width=".5" d="M107 -2 131 -2 127 5.5 123.4 14 117.5 33 113.6 54 111.9 76 112.6 97 115.7 116 118 124.4 120.9 132 124 138.4 127.6 144 131.8 149 136 152.9 141 156.3 147 159.4 154 161.8 161 163.3 168 164 175 163.9 180 163.1 185 161.6 190 159.1 194 156.3 198 152.6 201.8 148 208 137 208 216.2 203.2 222 198 227 121.6 227 116 222.1 111.4 217 107.4 211 104.5 205 102 197 100.6 188 98.8 158 93.9 112 93 87 94 65 96.8 42 101.2 18 106.4 -2ZM200 -2 208 -2 208 16.6 204 7 199.2 -2Z"/><path fill="#ebf4fa" stroke="#ebf4fa" stroke-width=".5" d="M82 -2 106.4 -2 102.8 11 99.7 25 95 55 93.1 82 93.7 109 98.9 159 100.6 188 102.2 198 105 206.3 109.2 214 114.9 221 121.6 227 67.3 227 65 217.5 63.8 207 63.7 194 68.4 141 70 83.8 71.7 68 78 27 81.6 -2ZM208 216.2 208 227 198 227 203 222.2 207.4 217Z"/><path fill="#f3f8fb" stroke="#f3f8fb" stroke-width=".5" d="M51 -2 81.6 -2 78 27 71.5 69 69.8 87 68.5 140 64.3 184 63.6 197 64.3 213 67.3 227 38.5 227 38 221 36.8 196 37 182.6 38 182.9 40 185.2 42 185.8 44 184.2 46 180.4 48 174.4 50.1 165 51.8 154 52.7 143 52.9 128 52 113 50 97.7 46.5 78 45.8 70 46.6 60 51 35.4 52.4 23 52.2 10 50.1 -2ZM10 70.7 19 71.1 24 72.2 28.4 75 31 79 32.4 85 32.6 93 31.2 119 30.9 121 30.1 122 28 119.1 25 113.1 14 88 9 74.3 8.8 72 9.2 71Z"/><path fill="#fbfcf2" stroke="#fbfcf2" stroke-width=".5" d="M-1 -2 50.1 -2 51.4 4 52.5 15 52.2 26 50.9 36 46.6 60 45.8 70 46.5 78 50 97.7 52 113 52.9 128 52.7 143 51.8 154 50.1 165 48 174.4 46 180.4 44 184.2 42 185.8 40 185.2 38 182.9 37 182.6 36.6 189 37 204.7 38.5 227 36.6 227 32.5 159 30.2 129 13.6 91 .2 62 -2 59.2 -2 -2ZM9.2 71 8.8 72 9 74.3 14 88 25 113.1 28 119.1 30.1 122 30.9 121 31.2 119 32.6 93 32.4 85 31 79 28.4 75 24 72.2 19 71.1 10 70.7Z"/><path fill="#fdfde4" stroke="#fdfde4" stroke-width=".5" d="M-1.3 60 .2 62 14.5 93 30.2 129 32.5 159 36.6 227 28.5 227 31.5 226 33 223.6 34 213 32.5 171 29.5 129 13.2 92 6 77.5 2 71 1 70.1 0 70.7 -.5 73 -2 97.5 -2 59.2ZM-2 142 -1 161.3 .3 174 2.5 188 5.4 201 8.8 212 13 221.5 16 225.6 19.6 227 -2 227 -2 141.8Z"/><path fill="#fefed4" stroke="#fefed4" stroke-width=".5" d="M0 70.7 1 70.1 2 71 8 81.3 18.3 103 29.5 129 33.4 191 34 213 33 223.6 31.5 226 28.5 227 19.6 227 16.6 226 15.3 225 12 219.6 8.8 212 3.5 193 -.3 169 -2 141.8 -2 97.5 -1.1 80 -.1 71ZM5.6 83 4.5 90 3.5 104 3.3 130 4.8 153 8.3 176 12.9 192 15.1 197 18 201.6 21 204.3 24 205.2 27 204.3 30 201.4 31 199.6 32 195 32.2 184 31.3 161 29.2 130 22.3 113 14 95 9 85.4 7 82.6 6 82.3Z"/><path fill="#ffffc2" stroke="#ffffc2" stroke-width=".5" d="M6 82.3 7 82.6 9 85.4 14 95 22.3 113 29.2 130 31.3 161 32.2 184 32 195 31 199.6 30 201.4 27 204.3 24 205.2 21 204.3 18 201.6 15.1 197 12.9 192 8.3 176 4.8 153 3.3 130 3.5 104 4.5 90 5.6 83ZM8.5 90 6.9 107 6.7 128 8.1 149 10.7 166 14.6 180 17 185.2 19 188.2 21 190.2 24 191.2 27 190.2 29 188.1 30 186.1 30.9 182 31.1 174 28.8 130 23.2 116 16 100.2 11 90.9 9 89.2Z"/><path fill="#ffffac" stroke="#ffffac" stroke-width=".5" d="M9 89.2 11 90.9 16 100.2 23.2 116 28.8 130 31.1 174 30.9 182 30 186.1 29 188.1 27 190.2 24 191.2 21 190.2 19 188.2 17 185.2 14.6 180 10.7 166 8.1 149 6.7 128 6.9 107 8.5 90ZM10.9 95 9.5 108 9.3 127 10.5 145 12.9 160 16 170.9 20 178.3 22 180 25 180.4 27 179.2 28.7 177 30 171.9 30.2 164 28.5 130 17 103.3 13 96 12 94.9 11 94.9Z"/><path fill="#ffff94" stroke="#ffff94" stroke-width=".5" d="M11 94.9 12 94.9 13 96 17 103.3 28.5 130 30.2 164 30 171.9 28.7 177 27 179.2 25 180.4 22 180 20 178.3 16 170.9 12.9 160 10.5 145 9.3 127 9.5 108 10.9 95ZM12.9 100 11.7 111 11.6 128 12.7 142 14.9 155 18 164.9 21 169.7 23 171 25 171 27 169.6 28 168 29 164.5 29.3 157 28.1 130 18 106.4 15 101 14 99.8 13 99.7Z"/><path fill="#ffff7c" stroke="#ffff7c" stroke-width=".5" d="M13 99.7 14 99.8 15 101 18 106.4 28.1 130 29.3 157 29 164.5 28 168 27 169.6 25 171 23 171 21 169.7 18 164.9 14.9 155 12.7 142 11.6 128 11.7 111 12.9 100ZM14.7 105 13.8 113 13.8 126 14.6 138 16.3 148 18.2 155 21 160.5 22 161.5 24 162.3 26 161.4 27 160.1 28 157.3 28.5 151 27.7 130 20 111.6 17 105.9 16 104.6 15 104.3Z"/><path fill="#ffff64" stroke="#ffff64" stroke-width=".5" d="M15 104.3 16 104.6 17 105.9 20 111.6 27.7 130 28.5 151 28 157.3 27 160.1 26 161.4 24 162.3 22 161.5 21 160.5 18.2 155 16.3 148 14.6 138 13.8 126 13.8 113 14.7 105ZM16.6 110 16 116 16 126 18 142.3 20 148.9 22 152.2 24 153.2 26 151.9 27 149.4 27.5 145 27.2 130 21 114.9 19 111.1 17 109.2Z"/><path fill="#ffff4f" stroke="#ffff4f" stroke-width=".5" d="M17 109.2 19 111.1 21 114.9 27.2 130 27.5 145 27 149.4 26 151.9 24 153.2 22 152.2 20 148.9 18 142.3 16 126 16 116 16.6 110ZM18.9 116 18.8 128 20.7 138 22 141.1 24 142.6 25 141.9 26 139.4 26.4 133 26 128.7 21 116.9 20 115.6 19 115.5Z"/><path fill="#ffff3d" stroke="#ffff3d" stroke-width=".5" d="M19 115.5 20 115.6 21 116.9 26 128.7 26.4 133 26 139.4 25 141.9 24 142.6 22 141.1 20.7 138 18.8 128 18.9 116Z"/><use href="#ov"/></svg></div>
<div class="fr" style="left:258px;top:518px"></div>
<div class="lt" style="left:261px;top:523px">h)</div>
<div class="a" style="left:255.5px;top:528.0px;width:2px;height:1px;background:#888"></div>
<div class="a" style="left:464.5px;top:528.0px;width:2px;height:1px;background:#888"></div>
<div class="a" style="left:255.5px;top:630.8px;width:2px;height:1px;background:#888"></div>
<div class="a" style="left:464.5px;top:630.8px;width:2px;height:1px;background:#888"></div>
<div class="a" style="left:255.5px;top:733.6px;width:2px;height:1px;background:#888"></div>
<div class="a" style="left:464.5px;top:733.6px;width:2px;height:1px;background:#888"></div>
<div class="a" style="left:309.0px;top:744.5px;width:1px;height:2px;background:#888"></div>
<div class="tk" style="left:300.4px;top:747.5px;width:20px;text-align:center">-71°</div>
<div class="a" style="left:412.4px;top:744.5px;width:1px;height:2px;background:#888"></div>
<div class="tk" style="left:403.8px;top:747.5px;width:20px;text-align:center">-70°</div>
<div class="pn" style="left:475px;top:519px"><svg width="206" height="225" viewBox="0 0 206 225"><path fill="#dceef8" stroke="#dceef8" stroke-width=".5" d="M160 11.8 164 11.3 168 11.5 172 12.4 176 14 183 18.9 190 26.7 196 36.5 201.3 49 205.3 63 208 78.1 208 121.9 205.6 136 202 149 196 163.5 188.7 175 184.2 180 180 183.5 175.9 186 171 187.9 167 188.7 162 188.5 158 187.6 154 186 150 183.5 145.8 180 142 175.9 138 170.4 131.9 159 126.8 145 123.1 129 121.1 112 120.8 94 122.2 77 125.3 61 129.9 46 136 33.1 143 23.1 147 19 151 15.8 155 13.6 159.4 12Z"/><path fill="#e4f0f8" stroke="#e4f0f8" stroke-width=".5" d="M118 -2 208 -2 208 78.1 205.3 63 201.7 50 197 38.5 191 28.1 184 19.8 177 14.6 170 11.8 166 11.3 162 11.5 158 12.4 154 14.1 147 19 140 26.8 134.4 36 129.2 48 125.3 61 122.5 75 121 90 120.8 107 122.2 123 125 138.4 129.4 153 135 165.4 142 175.9 149 182.8 153 185.4 157 187.3 161 188.4 166 188.7 170 188.2 174 186.9 178 184.8 182 182 189 174.6 195.7 164 201 151.9 205.1 138 208 121.9 208 210.6 201.1 220 194.6 227 135.4 227 127 217.7 119.2 206 112.6 193 106.8 178 101 157 97.1 134 95.3 111 95.7 88 98.3 64 103.3 39 110 16.3 117.7 -2Z"/><path fill="#ebf4fa" stroke="#ebf4fa" stroke-width=".5" d="M83 -2 117.7 -2 112 10.9 107.1 25 102.8 41 99.3 58 96.8 75 95.5 91 95.2 107 96 123 97.7 139 100.6 155 104.6 171 109.3 185 114.9 198 121 209 128 218.9 135.4 227 82.7 227 79 216 76.1 205 72.4 184 69.7 158 67.5 122 67.3 95 68 82 69.8 68 78 25 82.5 -2ZM208 210.6 208 227 194.6 227 201.1 220 207.7 211Z"/><path fill="#f3f8fb" stroke="#f3f8fb" stroke-width=".5" d="M41 -2 82.5 -2 69.3 71 67.6 87 67.1 104 68.6 143 72 181.1 76.1 205 79 216 82.7 227 38.9 227 38.5 212 39 205.6 43 207.4 45 206 46 204.3 48.9 194 50.6 181 51.4 165 51.1 148 50 132.9 48 119.6 46 111.9 44 107.5 42 105.8 40 106.7 38.2 110 37 113.8 34 131.4 33 134.5 31.9 129 25 115.1 13 87.9 7 73.3 3.9 64 4 60.2 17 59.3 24 57.6 29 55.6 33 52.9 37 47.9 39.8 42 41.8 36 44.2 22 43.8 9 40.9 -2Z"/><path fill="#fbfcf2" stroke="#fbfcf2" stroke-width=".5" d="M-1 -2 40.9 -2 43.5 7 44.4 18 43.3 29 40.2 41 36 49.5 32 53.8 27 56.5 16 59.5 4.9 60 4 60.2 3.6 62 5 67.9 8 75.9 24 112.9 31.9 129 33 134.5 34 131.4 37 113.8 38.2 110 40 106.7 42 105.8 44 107.5 46 111.9 48 119.6 50 132.9 51.1 148 51.4 165 50.6 181 48.9 194 46 204.3 45 206 43 207.4 39 205.6 38.5 212 38.9 227 36.7 227 33.5 176 29.6 129 12.1 90 -2 62.2 -2 -2Z"/><path fill="#fdfde4" stroke="#fdfde4" stroke-width=".5" d="M-1.5 63 12.1 90 29.6 129 33.5 176 36.7 227 34.1 227 34.5 217 34 199.2 29 130 16 100.3 11 90.9 9 88.6 8 89.2 7.2 93 5.2 115 4.3 138 4.5 161 5.6 181 7.7 201 10.9 219 12.5 225 13.7 227 -2 227 -2 62.2Z"/><path fill="#fefed4" stroke="#fefed4" stroke-width=".5" d="M9 88.6 11 90.9 16 100.3 29 130 34 199.2 34.5 217 34.1 227 13.7 227 12.2 224 9.5 212 7.5 199 5.8 183 4.3 151 5.2 115 6.8 97 8.2 89ZM12.4 100 10.2 117 9.1 141 9.6 164 11.6 186 14.9 204 17 210.7 19 215.1 21 217.9 23 219.3 26 218.8 28 216.7 30 213.1 31.6 208 32.5 197 32 178 28.4 130 18 106.3 15 100.9 13 99.1Z"/><path fill="#ffffc2" stroke="#ffffc2" stroke-width=".5" d="M13 99.1 15 100.9 18 106.3 28.4 130 32 178 32.5 197 31.6 208 30 213.1 28 216.7 26 218.8 23 219.3 21 217.9 19 215.1 17 210.7 14.9 204 11.6 186 9.6 164 9.1 141 10.2 117 12.4 100ZM16.6 108 15.7 109 14.9 113 13.2 131 12.9 149 13.7 166 15.4 180 18 191.8 21 198.5 22 199.7 24 200.6 26 199.7 28 196.8 30 191.1 30.7 186 30.8 173 29 143.7 27.5 129 21 114.4 17 107.9Z"/><path fill="#ffffac" stroke="#ffffac" stroke-width=".5" d="M17 107.9 21 114.4 27.5 129 29 143.7 30.8 173 30.7 186 30 191.1 28 196.8 26 199.7 24 200.6 22 199.7 21 198.5 18 191.8 15.4 180 13.7 166 12.9 149 13.2 131 14.9 113 15.7 109 16.6 108ZM19.3 118 17.8 125 16.8 138 16.8 151 17.6 163 19 171.9 21 178.5 23 181.4 25 181.4 26 180.3 28 175.4 29 166 28.8 156 27 130.4 23 121 21 117.8 20 117.1Z"/><path fill="#ffff94" stroke="#ffff94" stroke-width=".5" d="M20 117.1 21 117.8 23 121 27 130.4 28.8 156 29 166 28 175.4 26 180.3 25 181.4 23 181.4 21 178.5 19 171.9 17.6 163 16.8 151 16.8 138 17.8 125 19.3 118Z"/><use href="#ov"/></svg></div>
<div class="fr" style="left:475px;top:518px"></div>
<div class="lt" style="left:480px;top:523px">i)</div>
<div class="a" style="left:472.5px;top:528.0px;width:2px;height:1px;background:#888"></div>
<div class="a" style="left:681.5px;top:528.0px;width:2px;height:1px;background:#888"></div>
<div class="a" style="left:472.5px;top:630.8px;width:2px;height:1px;background:#888"></div>
<div class="a" style="left:681.5px;top:630.8px;width:2px;height:1px;background:#888"></div>
<div class="a" style="left:472.5px;top:733.6px;width:2px;height:1px;background:#888"></div>
<div class="a" style="left:681.5px;top:733.6px;width:2px;height:1px;background:#888"></div>
<div class="a" style="left:526.0px;top:744.5px;width:1px;height:2px;background:#888"></div>
<div class="tk" style="left:517.4px;top:747.5px;width:20px;text-align:center">-71°</div>
<div class="a" style="left:629.4px;top:744.5px;width:1px;height:2px;background:#888"></div>
<div class="tk" style="left:620.8px;top:747.5px;width:20px;text-align:center">-70°</div>
<div class="lb" style="top:29px;height:205px;border:none;background:none"><span style="left:2.5px;top:141.5px">Poroelastic ΔCFS</span></div>
<div class="lb" style="top:276px;height:205px;border:none;background:none"><span style="left:2.5px;top:134px">Afterslip ΔCFS</span></div>
<div class="lb" style="top:524px;height:205px;border:none;background:none"><span style="left:2.5px;top:172px">Non-linear viscoelastic ΔCFS</span></div>
<svg class="a" style="left:130px;top:770px" width="175" height="25" viewBox="130 770 175 25">
<defs><linearGradient id="cbg" x1="136.9" x2="294.2" y1="0" y2="0" gradientUnits="userSpaceOnUse">
<stop offset="0" stop-color="#262a6e"/>
<stop offset="0.15" stop-color="#2a3a8c"/>
<stop offset="0.33" stop-color="#3050a4"/>
<stop offset="0.39" stop-color="#5a86c4"/>
<stop offset="0.43" stop-color="#88cfe6"/>
<stop offset="0.47" stop-color="#c4e6f0"/>
<stop offset="0.50" stop-color="#ffffff"/>
<stop offset="0.55" stop-color="#fbf2c0"/>
<stop offset="0.60" stop-color="#f3e84a"/>
<stop offset="0.615" stop-color="#f5e400"/>
<stop offset="0.65" stop-color="#f6b824"/>
<stop offset="0.71" stop-color="#ef6a2a"/>
<stop offset="0.78" stop-color="#e6262a"/>
<stop offset="0.83" stop-color="#d8141e"/>
<stop offset="0.92" stop-color="#a01a1c"/>
<stop offset="1" stop-color="#7a1a1a"/>
</linearGradient></defs>
<path d="M136.9,782.5 L144.3,777.3 L287.3,777.3 L294.2,782.5 L287.3,787.8 L144.3,787.8 Z" fill="url(#cbg)" stroke="#111" stroke-width="1"/>
<g stroke="#111" stroke-width="1.3">
<line x1="144.5" y1="787.8" x2="144.5" y2="791"/><line x1="179.9" y1="787.8" x2="179.9" y2="791"/><line x1="215.5" y1="787.8" x2="215.5" y2="791"/><line x1="251.2" y1="787.8" x2="251.2" y2="791"/><line x1="286.9" y1="787.8" x2="286.9" y2="791"/>
</g></svg>
<div class="a" style="left:128.3px;top:792.5px;width:30px;text-align:center;font-size:15.2px;line-height:15px;color:#111">-2</div>
<div class="a" style="left:163.70000000000002px;top:792.5px;width:30px;text-align:center;font-size:15.2px;line-height:15px;color:#111">-1</div>
<div class="a" style="left:200.5px;top:792.5px;width:30px;text-align:center;font-size:15.2px;line-height:15px;color:#111">0</div>
<div class="a" style="left:236.2px;top:792.5px;width:30px;text-align:center;font-size:15.2px;line-height:15px;color:#111">1</div>
<div class="a" style="left:271.9px;top:792.5px;width:30px;text-align:center;font-size:15.2px;line-height:15px;color:#111">2</div>
<div class="a" style="left:132px;top:757.5px;font-size:13.6px;line-height:15px;white-space:nowrap;color:#111;letter-spacing:-0.35px">ΔCFS (bar) at 12.5 km depth</div>
<div class="a" style="left:401px;top:763.3px;font-size:12.9px;line-height:14px;white-space:nowrap;color:#111;letter-spacing:0.28px">Upper-plate aftershocks ≤ 25 km depth</div>
<svg class="a" style="left:455px;top:778px" width="135" height="28" viewBox="455 778 135 28"><circle cx="469.7" cy="788.1" r="2.5" fill="#fff" stroke="#333" stroke-width=".8"/><circle cx="477.8" cy="784.9" r="2.5" fill="#fff" stroke="#333" stroke-width=".8"/><circle cx="485" cy="790.3" r="2.5" fill="#fff" stroke="#333" stroke-width=".8"/><circle cx="476.9" cy="793" r="2.5" fill="#fff" stroke="#333" stroke-width=".8"/><circle cx="464.9" cy="795.8" r="2.5" fill="#fff" stroke="#333" stroke-width=".8"/><circle cx="474.5" cy="799.7" r="2.5" fill="#fff" stroke="#333" stroke-width=".8"/><circle cx="485" cy="798.4" r="2.5" fill="#fff" stroke="#333" stroke-width=".8"/><circle cx="556.9" cy="790.3" r="4.1" fill="#000" stroke="#000" stroke-width=".6"/><path d="M556.6,786.5A3.80,3.80 0 0 0 556.6,794.1Q553.9,790.3 556.6,786.5Z" fill="#fff"/><path d="M557.5,786.6Q559.1,789.8 560.6,790.6Q558.5,789.1 557.5,786.6Z" fill="#fff"/><circle cx="568.2" cy="784.9" r="4.1" fill="#000" stroke="#000" stroke-width=".6"/><path d="M567.9,781.1A3.80,3.80 0 0 0 567.9,788.7Q565.2,784.9 567.9,781.1Z" fill="#fff"/><path d="M568.8,781.2Q570.4,784.4 571.9,785.2Q569.8,783.7 568.8,781.2Z" fill="#fff"/><circle cx="569.3" cy="796.2" r="4.1" fill="#fff" stroke="#000" stroke-width=".6"/><path d="M569.5,792.4A3.80,3.80 0 0 1 569.5,800.0Q567.9,796.2 569.5,792.4Z" fill="#9b0fb0"/><circle cx="580.3" cy="790.3" r="4.1" fill="#fff" stroke="#000" stroke-width=".6"/><path d="M580.5,786.5A3.80,3.80 0 0 1 580.5,794.1Q578.9,790.3 580.5,786.5Z" fill="#9b0fb0"/></svg>
</body></html>
